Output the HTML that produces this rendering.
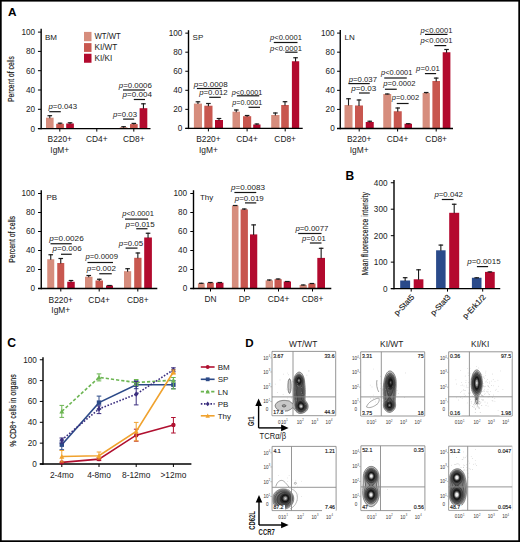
<!DOCTYPE html>
<html><head><meta charset="utf-8"><title>Figure</title>
<style>html,body{margin:0;padding:0;background:#fff;}body{width:520px;height:542px;overflow:hidden;}</style>
</head><body>
<svg width="520" height="542" viewBox="0 0 520 542" style="display:block">
<g font-family='"Liberation Sans", sans-serif'>
<rect x="0" y="0" width="520" height="542" fill="#fff"/>
<text x="8" y="15.8" font-size="11.8" text-anchor="start" font-weight="bold" fill="#000">A</text>
<rect x="46" y="117.7" width="7.6" height="10.9" fill="#d68d7d"/>
<line x1="49.8" y1="115.2" x2="49.8" y2="118.2" stroke="#1a1a1a" stroke-width="1.1"/>
<line x1="47.5" y1="115.7" x2="52.1" y2="115.7" stroke="#1a1a1a" stroke-width="1.2"/>
<rect x="56.2" y="123.8" width="7.7" height="4.8" fill="#c8574f"/>
<line x1="60.05" y1="122.7" x2="60.05" y2="124.3" stroke="#1a1a1a" stroke-width="1.1"/>
<line x1="57.75" y1="123.2" x2="62.35" y2="123.2" stroke="#1a1a1a" stroke-width="1.2"/>
<rect x="66.2" y="123.5" width="7.7" height="5.1" fill="#b20a2e"/>
<line x1="70.05" y1="122.3" x2="70.05" y2="124" stroke="#1a1a1a" stroke-width="1.1"/>
<line x1="67.75" y1="122.8" x2="72.35" y2="122.8" stroke="#1a1a1a" stroke-width="1.2"/>
<rect x="119.8" y="127.2" width="7.6" height="1.4" fill="#d68d7d"/>
<line x1="123.6" y1="126.2" x2="123.6" y2="127.7" stroke="#1a1a1a" stroke-width="1.1"/>
<line x1="121.3" y1="126.7" x2="125.9" y2="126.7" stroke="#1a1a1a" stroke-width="1.2"/>
<rect x="130" y="124.1" width="7.7" height="4.5" fill="#c8574f"/>
<line x1="133.85" y1="122.9" x2="133.85" y2="124.6" stroke="#1a1a1a" stroke-width="1.1"/>
<line x1="131.55" y1="123.4" x2="136.15" y2="123.4" stroke="#1a1a1a" stroke-width="1.2"/>
<rect x="139.6" y="108.2" width="7.7" height="20.4" fill="#b20a2e"/>
<line x1="143.45" y1="103.3" x2="143.45" y2="108.7" stroke="#1a1a1a" stroke-width="1.1"/>
<line x1="141.15" y1="103.8" x2="145.75" y2="103.8" stroke="#1a1a1a" stroke-width="1.2"/>
<line x1="41.15" y1="28.8" x2="41.15" y2="129.3" stroke="#000" stroke-width="1.4"/>
<line x1="37.95" y1="128.6" x2="150.5" y2="128.6" stroke="#000" stroke-width="1.4"/>
<line x1="37.95" y1="128.6" x2="41.15" y2="128.6" stroke="#000" stroke-width="1.0"/>
<text x="35.1" y="131.5" font-size="8.2" text-anchor="end" font-weight="normal" fill="#222">0</text>
<line x1="37.95" y1="109.3" x2="41.15" y2="109.3" stroke="#000" stroke-width="1.0"/>
<text x="35.1" y="112.2" font-size="8.2" text-anchor="end" font-weight="normal" fill="#222">20</text>
<line x1="37.95" y1="90" x2="41.15" y2="90" stroke="#000" stroke-width="1.0"/>
<text x="35.1" y="92.9" font-size="8.2" text-anchor="end" font-weight="normal" fill="#222">40</text>
<line x1="37.95" y1="70.7" x2="41.15" y2="70.7" stroke="#000" stroke-width="1.0"/>
<text x="35.1" y="73.6" font-size="8.2" text-anchor="end" font-weight="normal" fill="#222">60</text>
<line x1="37.95" y1="51.4" x2="41.15" y2="51.4" stroke="#000" stroke-width="1.0"/>
<text x="35.1" y="54.3" font-size="8.2" text-anchor="end" font-weight="normal" fill="#222">80</text>
<line x1="37.95" y1="32.1" x2="41.15" y2="32.1" stroke="#000" stroke-width="1.0"/>
<text x="35.1" y="35" font-size="8.2" text-anchor="end" font-weight="normal" fill="#222">100</text>
<line x1="59.8" y1="128.6" x2="59.8" y2="131.6" stroke="#000" stroke-width="1.0"/>
<line x1="96.8" y1="128.6" x2="96.8" y2="131.6" stroke="#000" stroke-width="1.0"/>
<line x1="133.8" y1="128.6" x2="133.8" y2="131.6" stroke="#000" stroke-width="1.0"/>
<text x="45" y="39.8" font-size="8" text-anchor="start" font-weight="normal" fill="#1a1a1a">BM</text>
<text x="48.5" y="109.2" font-size="6.6" fill="#1a1a1a" textLength="28.5" lengthAdjust="spacingAndGlyphs"><tspan font-style="italic">p</tspan>=0.043</text>
<line x1="49.3" y1="111.7" x2="60.8" y2="111.7" stroke="#151515" stroke-width="1.2"/>
<text x="113" y="116.9" font-size="6.6" fill="#1a1a1a" textLength="24" lengthAdjust="spacingAndGlyphs"><tspan font-style="italic">p</tspan>=0.03</text>
<line x1="123.1" y1="119.1" x2="134.2" y2="119.1" stroke="#151515" stroke-width="1.2"/>
<text x="118.75" y="88.1" font-size="6.6" fill="#1a1a1a" textLength="33.15" lengthAdjust="spacingAndGlyphs"><tspan font-style="italic">p</tspan>=0.0006</text>
<line x1="123" y1="90" x2="145" y2="90" stroke="#151515" stroke-width="1.2"/>
<text x="122.5" y="97" font-size="6.6" fill="#1a1a1a" textLength="29.4" lengthAdjust="spacingAndGlyphs"><tspan font-style="italic">p</tspan>=0.004</text>
<line x1="133.8" y1="99.5" x2="145" y2="99.5" stroke="#151515" stroke-width="1.2"/>
<rect x="84" y="31.9" width="7.5" height="9.3" fill="#d68d7d"/>
<rect x="84" y="43.1" width="7.5" height="8.8" fill="#c8574f"/>
<rect x="84" y="53.75" width="7.5" height="9" fill="#b20a2e"/>
<text x="94.5" y="39.4" font-size="8.2" text-anchor="start" font-weight="normal" fill="#1a1a1a" textLength="26.3" lengthAdjust="spacingAndGlyphs">WT/WT</text>
<text x="94.5" y="50" font-size="8.2" text-anchor="start" font-weight="normal" fill="#1a1a1a">KI/WT</text>
<text x="94.5" y="60.6" font-size="8.2" text-anchor="start" font-weight="normal" fill="#1a1a1a">KI/KI</text>
<text transform="translate(14.4,79) rotate(-90)" font-size="8.6" text-anchor="middle" fill="#1a1a1a" stroke="#1a1a1a" stroke-width="0.18" textLength="45.9" lengthAdjust="spacingAndGlyphs">Percent of cells</text>
<text x="59.8" y="142" font-size="8.4" text-anchor="middle" font-weight="normal" fill="#1a1a1a">B220+</text>
<text x="59.8" y="152.5" font-size="8.4" text-anchor="middle" font-weight="normal" fill="#1a1a1a">IgM+</text>
<text x="96.8" y="142" font-size="8.4" text-anchor="middle" font-weight="normal" fill="#1a1a1a">CD4+</text>
<text x="133.8" y="142" font-size="8.4" text-anchor="middle" font-weight="normal" fill="#1a1a1a">CD8+</text>
<rect x="193.9" y="103.6" width="8.1" height="24.8" fill="#d68d7d"/>
<line x1="197.95" y1="101.3" x2="197.95" y2="104.1" stroke="#1a1a1a" stroke-width="1.1"/>
<line x1="195.65" y1="101.8" x2="200.25" y2="101.8" stroke="#1a1a1a" stroke-width="1.2"/>
<rect x="204.3" y="105.7" width="8.2" height="22.7" fill="#c8574f"/>
<line x1="208.4" y1="103" x2="208.4" y2="106.2" stroke="#1a1a1a" stroke-width="1.1"/>
<line x1="206.1" y1="103.5" x2="210.7" y2="103.5" stroke="#1a1a1a" stroke-width="1.2"/>
<rect x="215" y="120" width="8" height="8.4" fill="#b20a2e"/>
<line x1="219" y1="118" x2="219" y2="120.5" stroke="#1a1a1a" stroke-width="1.1"/>
<line x1="216.7" y1="118.5" x2="221.3" y2="118.5" stroke="#1a1a1a" stroke-width="1.2"/>
<rect x="232.5" y="111.7" width="7.5" height="16.7" fill="#d68d7d"/>
<line x1="236.25" y1="109.5" x2="236.25" y2="112.2" stroke="#1a1a1a" stroke-width="1.1"/>
<line x1="233.95" y1="110" x2="238.55" y2="110" stroke="#1a1a1a" stroke-width="1.2"/>
<rect x="243" y="116.2" width="8.2" height="12.2" fill="#c8574f"/>
<line x1="247.1" y1="115" x2="247.1" y2="116.7" stroke="#1a1a1a" stroke-width="1.1"/>
<line x1="244.8" y1="115.5" x2="249.4" y2="115.5" stroke="#1a1a1a" stroke-width="1.2"/>
<rect x="253.2" y="124.5" width="7.3" height="3.9" fill="#b20a2e"/>
<line x1="256.85" y1="123.5" x2="256.85" y2="125" stroke="#1a1a1a" stroke-width="1.1"/>
<line x1="254.55" y1="124" x2="259.15" y2="124" stroke="#1a1a1a" stroke-width="1.2"/>
<rect x="271.2" y="115" width="8.3" height="13.4" fill="#d68d7d"/>
<line x1="275.35" y1="112.5" x2="275.35" y2="115.5" stroke="#1a1a1a" stroke-width="1.1"/>
<line x1="273.05" y1="113" x2="277.65" y2="113" stroke="#1a1a1a" stroke-width="1.2"/>
<rect x="281.2" y="105" width="7.6" height="23.4" fill="#c8574f"/>
<line x1="285" y1="101.2" x2="285" y2="105.5" stroke="#1a1a1a" stroke-width="1.1"/>
<line x1="282.7" y1="101.7" x2="287.3" y2="101.7" stroke="#1a1a1a" stroke-width="1.2"/>
<rect x="291.9" y="61.25" width="7.3" height="67.15" fill="#b20a2e"/>
<line x1="295.55" y1="57.25" x2="295.55" y2="61.75" stroke="#1a1a1a" stroke-width="1.1"/>
<line x1="293.25" y1="57.75" x2="297.85" y2="57.75" stroke="#1a1a1a" stroke-width="1.2"/>
<line x1="188.5" y1="30.2" x2="188.5" y2="129.1" stroke="#000" stroke-width="1.4"/>
<line x1="185.3" y1="128.4" x2="302.7" y2="128.4" stroke="#000" stroke-width="1.4"/>
<line x1="185.3" y1="128.4" x2="188.5" y2="128.4" stroke="#000" stroke-width="1.0"/>
<text x="182.3" y="131.3" font-size="8.2" text-anchor="end" font-weight="normal" fill="#222">0</text>
<line x1="185.3" y1="109.35" x2="188.5" y2="109.35" stroke="#000" stroke-width="1.0"/>
<text x="182.3" y="112.25" font-size="8.2" text-anchor="end" font-weight="normal" fill="#222">20</text>
<line x1="185.3" y1="90.3" x2="188.5" y2="90.3" stroke="#000" stroke-width="1.0"/>
<text x="182.3" y="93.2" font-size="8.2" text-anchor="end" font-weight="normal" fill="#222">40</text>
<line x1="185.3" y1="71.25" x2="188.5" y2="71.25" stroke="#000" stroke-width="1.0"/>
<text x="182.3" y="74.15" font-size="8.2" text-anchor="end" font-weight="normal" fill="#222">60</text>
<line x1="185.3" y1="52.2" x2="188.5" y2="52.2" stroke="#000" stroke-width="1.0"/>
<text x="182.3" y="55.1" font-size="8.2" text-anchor="end" font-weight="normal" fill="#222">80</text>
<line x1="185.3" y1="33.15" x2="188.5" y2="33.15" stroke="#000" stroke-width="1.0"/>
<text x="182.3" y="36.05" font-size="8.2" text-anchor="end" font-weight="normal" fill="#222">100</text>
<line x1="208.4" y1="128.4" x2="208.4" y2="131.4" stroke="#000" stroke-width="1.0"/>
<line x1="247.1" y1="128.4" x2="247.1" y2="131.4" stroke="#000" stroke-width="1.0"/>
<line x1="285.2" y1="128.4" x2="285.2" y2="131.4" stroke="#000" stroke-width="1.0"/>
<text x="192.6" y="39.6" font-size="8" text-anchor="start" font-weight="normal" fill="#1a1a1a">SP</text>
<text x="193.8" y="86.5" font-size="6.6" fill="#1a1a1a" textLength="33.9" lengthAdjust="spacingAndGlyphs"><tspan font-style="italic">p</tspan>=0.0008</text>
<line x1="196.9" y1="88.5" x2="221.5" y2="88.5" stroke="#151515" stroke-width="1.2"/>
<text x="199.2" y="95" font-size="6.6" fill="#1a1a1a" textLength="28.5" lengthAdjust="spacingAndGlyphs"><tspan font-style="italic">p</tspan>=0.012</text>
<line x1="209.2" y1="97.3" x2="220.8" y2="97.3" stroke="#151515" stroke-width="1.2"/>
<text x="231.8" y="94.7" font-size="6.6" fill="#1a1a1a" textLength="30.5" lengthAdjust="spacingAndGlyphs"><tspan font-style="italic">p</tspan>&lt;0.0001</text>
<line x1="236.9" y1="95.8" x2="259.2" y2="95.8" stroke="#151515" stroke-width="1.2"/>
<text x="232.3" y="105" font-size="6.6" fill="#1a1a1a" textLength="30" lengthAdjust="spacingAndGlyphs"><tspan font-style="italic">p</tspan>=0.0001</text>
<line x1="248.5" y1="107.3" x2="260" y2="107.3" stroke="#151515" stroke-width="1.2"/>
<text x="270" y="40" font-size="6.6" fill="#1a1a1a" textLength="31.9" lengthAdjust="spacingAndGlyphs"><tspan font-style="italic">p</tspan>&lt;0.0001</text>
<line x1="273.75" y1="42.5" x2="297.5" y2="42.5" stroke="#151515" stroke-width="1.2"/>
<text x="270" y="50.6" font-size="6.6" fill="#1a1a1a" textLength="31.9" lengthAdjust="spacingAndGlyphs"><tspan font-style="italic">p</tspan>&lt;0.0001</text>
<line x1="285.2" y1="52.2" x2="297.5" y2="52.2" stroke="#151515" stroke-width="1.2"/>
<text x="208.4" y="142" font-size="8.4" text-anchor="middle" font-weight="normal" fill="#1a1a1a">B220+</text>
<text x="208.4" y="152.5" font-size="8.4" text-anchor="middle" font-weight="normal" fill="#1a1a1a">IgM+</text>
<text x="247.1" y="142" font-size="8.4" text-anchor="middle" font-weight="normal" fill="#1a1a1a">CD4+</text>
<text x="285.2" y="142" font-size="8.4" text-anchor="middle" font-weight="normal" fill="#1a1a1a">CD8+</text>
<rect x="344.5" y="105" width="8" height="23.5" fill="#d68d7d"/>
<line x1="348.5" y1="98.25" x2="348.5" y2="105.5" stroke="#1a1a1a" stroke-width="1.1"/>
<line x1="346.2" y1="98.75" x2="350.8" y2="98.75" stroke="#1a1a1a" stroke-width="1.2"/>
<rect x="355" y="105.5" width="8" height="23" fill="#c8574f"/>
<line x1="359" y1="99.5" x2="359" y2="106" stroke="#1a1a1a" stroke-width="1.1"/>
<line x1="356.7" y1="100" x2="361.3" y2="100" stroke="#1a1a1a" stroke-width="1.2"/>
<rect x="365.75" y="122" width="8" height="6.5" fill="#b20a2e"/>
<line x1="369.75" y1="120.75" x2="369.75" y2="122.5" stroke="#1a1a1a" stroke-width="1.1"/>
<line x1="367.45" y1="121.25" x2="372.05" y2="121.25" stroke="#1a1a1a" stroke-width="1.2"/>
<rect x="383.25" y="94" width="8" height="34.5" fill="#d68d7d"/>
<line x1="387.25" y1="93.5" x2="387.25" y2="94.5" stroke="#1a1a1a" stroke-width="1.1"/>
<line x1="384.95" y1="94" x2="389.55" y2="94" stroke="#1a1a1a" stroke-width="1.2"/>
<rect x="393.75" y="111.25" width="8" height="17.25" fill="#c8574f"/>
<line x1="397.75" y1="107.5" x2="397.75" y2="111.75" stroke="#1a1a1a" stroke-width="1.1"/>
<line x1="395.45" y1="108" x2="400.05" y2="108" stroke="#1a1a1a" stroke-width="1.2"/>
<rect x="404.5" y="123.75" width="7.5" height="4.75" fill="#b20a2e"/>
<line x1="408.25" y1="123.2" x2="408.25" y2="124.25" stroke="#1a1a1a" stroke-width="1.1"/>
<line x1="405.95" y1="123.7" x2="410.55" y2="123.7" stroke="#1a1a1a" stroke-width="1.2"/>
<rect x="422.6" y="93" width="7.2" height="35.5" fill="#d68d7d"/>
<line x1="426.2" y1="92" x2="426.2" y2="93.5" stroke="#1a1a1a" stroke-width="1.1"/>
<line x1="423.9" y1="92.5" x2="428.5" y2="92.5" stroke="#1a1a1a" stroke-width="1.2"/>
<rect x="432.4" y="81" width="7.6" height="47.5" fill="#c8574f"/>
<line x1="436.2" y1="77.6" x2="436.2" y2="81.5" stroke="#1a1a1a" stroke-width="1.1"/>
<line x1="433.9" y1="78.1" x2="438.5" y2="78.1" stroke="#1a1a1a" stroke-width="1.2"/>
<rect x="442.7" y="52.25" width="7.7" height="76.25" fill="#b20a2e"/>
<line x1="446.55" y1="49" x2="446.55" y2="52.75" stroke="#1a1a1a" stroke-width="1.1"/>
<line x1="444.25" y1="49.5" x2="448.85" y2="49.5" stroke="#1a1a1a" stroke-width="1.2"/>
<line x1="340.25" y1="30" x2="340.25" y2="129.2" stroke="#000" stroke-width="1.4"/>
<line x1="337.05" y1="128.5" x2="453" y2="128.5" stroke="#000" stroke-width="1.4"/>
<line x1="337.05" y1="128.5" x2="340.25" y2="128.5" stroke="#000" stroke-width="1.0"/>
<text x="334.7" y="131.4" font-size="8.2" text-anchor="end" font-weight="normal" fill="#222">0</text>
<line x1="337.05" y1="109.42" x2="340.25" y2="109.42" stroke="#000" stroke-width="1.0"/>
<text x="334.7" y="112.32" font-size="8.2" text-anchor="end" font-weight="normal" fill="#222">20</text>
<line x1="337.05" y1="90.34" x2="340.25" y2="90.34" stroke="#000" stroke-width="1.0"/>
<text x="334.7" y="93.24" font-size="8.2" text-anchor="end" font-weight="normal" fill="#222">40</text>
<line x1="337.05" y1="71.26" x2="340.25" y2="71.26" stroke="#000" stroke-width="1.0"/>
<text x="334.7" y="74.16" font-size="8.2" text-anchor="end" font-weight="normal" fill="#222">60</text>
<line x1="337.05" y1="52.18" x2="340.25" y2="52.18" stroke="#000" stroke-width="1.0"/>
<text x="334.7" y="55.08" font-size="8.2" text-anchor="end" font-weight="normal" fill="#222">80</text>
<line x1="337.05" y1="33.1" x2="340.25" y2="33.1" stroke="#000" stroke-width="1.0"/>
<text x="334.7" y="36" font-size="8.2" text-anchor="end" font-weight="normal" fill="#222">100</text>
<line x1="359.2" y1="128.5" x2="359.2" y2="131.5" stroke="#000" stroke-width="1.0"/>
<line x1="397.6" y1="128.5" x2="397.6" y2="131.5" stroke="#000" stroke-width="1.0"/>
<line x1="436.2" y1="128.5" x2="436.2" y2="131.5" stroke="#000" stroke-width="1.0"/>
<text x="344.6" y="39.7" font-size="8" text-anchor="start" font-weight="normal" fill="#1a1a1a">LN</text>
<text x="348.75" y="81.6" font-size="6.6" fill="#1a1a1a" textLength="28.25" lengthAdjust="spacingAndGlyphs"><tspan font-style="italic">p</tspan>=0.037</text>
<line x1="348.5" y1="83.6" x2="369.75" y2="83.6" stroke="#151515" stroke-width="1.2"/>
<text x="351.25" y="91.25" font-size="6.6" fill="#1a1a1a" textLength="25" lengthAdjust="spacingAndGlyphs"><tspan font-style="italic">p</tspan>=0.03</text>
<line x1="359" y1="93" x2="369.75" y2="93" stroke="#151515" stroke-width="1.2"/>
<text x="381.1" y="75.1" font-size="6.6" fill="#1a1a1a" textLength="31.3" lengthAdjust="spacingAndGlyphs"><tspan font-style="italic">p</tspan>&lt;0.0001</text>
<line x1="384.25" y1="78" x2="406.75" y2="78" stroke="#151515" stroke-width="1.2"/>
<text x="383.25" y="86.4" font-size="6.6" fill="#1a1a1a" textLength="32.25" lengthAdjust="spacingAndGlyphs"><tspan font-style="italic">p</tspan>=0.0002</text>
<line x1="384.9" y1="89.25" x2="396.75" y2="89.25" stroke="#151515" stroke-width="1.2"/>
<text x="391.75" y="100.1" font-size="6.6" fill="#1a1a1a" textLength="27.5" lengthAdjust="spacingAndGlyphs"><tspan font-style="italic">p</tspan>=0.002</text>
<line x1="396.75" y1="103.5" x2="408.6" y2="103.5" stroke="#151515" stroke-width="1.2"/>
<text x="416.1" y="70.75" font-size="6.6" fill="#1a1a1a" textLength="23.8" lengthAdjust="spacingAndGlyphs"><tspan font-style="italic">p</tspan>=0.01</text>
<line x1="424.9" y1="73.6" x2="436.1" y2="73.6" stroke="#151515" stroke-width="1.2"/>
<text x="420.6" y="32.5" font-size="6.6" fill="#1a1a1a" textLength="31.9" lengthAdjust="spacingAndGlyphs"><tspan font-style="italic">p</tspan>&lt;0.0001</text>
<line x1="425" y1="34.4" x2="447.5" y2="34.4" stroke="#151515" stroke-width="1.2"/>
<text x="420.6" y="42.5" font-size="6.6" fill="#1a1a1a" textLength="31.9" lengthAdjust="spacingAndGlyphs"><tspan font-style="italic">p</tspan>&lt;0.0001</text>
<line x1="434.4" y1="45.6" x2="446.25" y2="45.6" stroke="#151515" stroke-width="1.2"/>
<text x="359.2" y="142" font-size="8.4" text-anchor="middle" font-weight="normal" fill="#1a1a1a">B220+</text>
<text x="359.2" y="152.5" font-size="8.4" text-anchor="middle" font-weight="normal" fill="#1a1a1a">IgM+</text>
<text x="397.6" y="142" font-size="8.4" text-anchor="middle" font-weight="normal" fill="#1a1a1a">CD4+</text>
<text x="436.2" y="142" font-size="8.4" text-anchor="middle" font-weight="normal" fill="#1a1a1a">CD8+</text>
<rect x="47.25" y="259.25" width="7" height="29.25" fill="#d68d7d"/>
<line x1="50.75" y1="254.25" x2="50.75" y2="259.75" stroke="#1a1a1a" stroke-width="1.1"/>
<line x1="48.45" y1="254.75" x2="53.05" y2="254.75" stroke="#1a1a1a" stroke-width="1.2"/>
<rect x="57.25" y="263" width="7" height="25.5" fill="#c8574f"/>
<line x1="60.75" y1="258" x2="60.75" y2="263.5" stroke="#1a1a1a" stroke-width="1.1"/>
<line x1="58.45" y1="258.5" x2="63.05" y2="258.5" stroke="#1a1a1a" stroke-width="1.2"/>
<rect x="67.25" y="281.75" width="7.5" height="6.75" fill="#b20a2e"/>
<line x1="71" y1="280" x2="71" y2="282.25" stroke="#1a1a1a" stroke-width="1.1"/>
<line x1="68.7" y1="280.5" x2="73.3" y2="280.5" stroke="#1a1a1a" stroke-width="1.2"/>
<rect x="85" y="276.75" width="7.5" height="11.75" fill="#d68d7d"/>
<line x1="88.75" y1="275" x2="88.75" y2="277.25" stroke="#1a1a1a" stroke-width="1.1"/>
<line x1="86.45" y1="275.5" x2="91.05" y2="275.5" stroke="#1a1a1a" stroke-width="1.2"/>
<rect x="95.5" y="280.5" width="7.5" height="8" fill="#c8574f"/>
<line x1="99.25" y1="278.75" x2="99.25" y2="281" stroke="#1a1a1a" stroke-width="1.1"/>
<line x1="96.95" y1="279.25" x2="101.55" y2="279.25" stroke="#1a1a1a" stroke-width="1.2"/>
<rect x="106" y="285.5" width="7" height="3" fill="#b20a2e"/>
<line x1="109.5" y1="285" x2="109.5" y2="286" stroke="#1a1a1a" stroke-width="1.1"/>
<line x1="107.2" y1="285.5" x2="111.8" y2="285.5" stroke="#1a1a1a" stroke-width="1.2"/>
<rect x="124" y="271.2" width="7.2" height="17.3" fill="#d68d7d"/>
<line x1="127.6" y1="268.2" x2="127.6" y2="271.7" stroke="#1a1a1a" stroke-width="1.1"/>
<line x1="125.3" y1="268.7" x2="129.9" y2="268.7" stroke="#1a1a1a" stroke-width="1.2"/>
<rect x="134.2" y="257.8" width="7.3" height="30.7" fill="#c8574f"/>
<line x1="137.85" y1="252.5" x2="137.85" y2="258.3" stroke="#1a1a1a" stroke-width="1.1"/>
<line x1="135.55" y1="253" x2="140.15" y2="253" stroke="#1a1a1a" stroke-width="1.2"/>
<rect x="144.2" y="237.5" width="7.7" height="51" fill="#b20a2e"/>
<line x1="148.05" y1="232.75" x2="148.05" y2="238" stroke="#1a1a1a" stroke-width="1.1"/>
<line x1="145.75" y1="233.25" x2="150.35" y2="233.25" stroke="#1a1a1a" stroke-width="1.2"/>
<line x1="41.25" y1="190.25" x2="41.25" y2="289.2" stroke="#000" stroke-width="1.4"/>
<line x1="38.05" y1="288.5" x2="157.3" y2="288.5" stroke="#000" stroke-width="1.4"/>
<line x1="38.05" y1="288.5" x2="41.25" y2="288.5" stroke="#000" stroke-width="1.0"/>
<text x="35.1" y="291.4" font-size="8.2" text-anchor="end" font-weight="normal" fill="#222">0</text>
<line x1="38.05" y1="269.5" x2="41.25" y2="269.5" stroke="#000" stroke-width="1.0"/>
<text x="35.1" y="272.4" font-size="8.2" text-anchor="end" font-weight="normal" fill="#222">20</text>
<line x1="38.05" y1="250.5" x2="41.25" y2="250.5" stroke="#000" stroke-width="1.0"/>
<text x="35.1" y="253.4" font-size="8.2" text-anchor="end" font-weight="normal" fill="#222">40</text>
<line x1="38.05" y1="231.5" x2="41.25" y2="231.5" stroke="#000" stroke-width="1.0"/>
<text x="35.1" y="234.4" font-size="8.2" text-anchor="end" font-weight="normal" fill="#222">60</text>
<line x1="38.05" y1="212.5" x2="41.25" y2="212.5" stroke="#000" stroke-width="1.0"/>
<text x="35.1" y="215.4" font-size="8.2" text-anchor="end" font-weight="normal" fill="#222">80</text>
<line x1="38.05" y1="193.5" x2="41.25" y2="193.5" stroke="#000" stroke-width="1.0"/>
<text x="35.1" y="196.4" font-size="8.2" text-anchor="end" font-weight="normal" fill="#222">100</text>
<line x1="60.8" y1="288.5" x2="60.8" y2="291.5" stroke="#000" stroke-width="1.0"/>
<line x1="99.2" y1="288.5" x2="99.2" y2="291.5" stroke="#000" stroke-width="1.0"/>
<line x1="137.8" y1="288.5" x2="137.8" y2="291.5" stroke="#000" stroke-width="1.0"/>
<text x="46.4" y="199.8" font-size="8" text-anchor="start" font-weight="normal" fill="#1a1a1a">PB</text>
<text transform="translate(14.5,239.4) rotate(-90)" font-size="8.6" text-anchor="middle" fill="#1a1a1a" stroke="#1a1a1a" stroke-width="0.18" textLength="46.9" lengthAdjust="spacingAndGlyphs">Percent of cells</text>
<text x="49.25" y="241.25" font-size="6.6" fill="#1a1a1a" textLength="34.5" lengthAdjust="spacingAndGlyphs"><tspan font-style="italic">p</tspan>=0.0026</text>
<line x1="50.5" y1="243.75" x2="71.75" y2="243.75" stroke="#151515" stroke-width="1.2"/>
<text x="52.5" y="251.25" font-size="6.6" fill="#1a1a1a" textLength="29.25" lengthAdjust="spacingAndGlyphs"><tspan font-style="italic">p</tspan>=0.006</text>
<line x1="61" y1="254.25" x2="71.75" y2="254.25" stroke="#151515" stroke-width="1.2"/>
<text x="85.5" y="259.25" font-size="6.6" fill="#1a1a1a" textLength="32.5" lengthAdjust="spacingAndGlyphs"><tspan font-style="italic">p</tspan>=0.0009</text>
<line x1="87.5" y1="262.5" x2="113" y2="262.5" stroke="#151515" stroke-width="1.2"/>
<text x="86.75" y="271.25" font-size="6.6" fill="#1a1a1a" textLength="29.25" lengthAdjust="spacingAndGlyphs"><tspan font-style="italic">p</tspan>=0.002</text>
<line x1="99.25" y1="273.75" x2="111.75" y2="273.75" stroke="#151515" stroke-width="1.2"/>
<text x="122.25" y="216.25" font-size="6.6" fill="#1a1a1a" textLength="31.75" lengthAdjust="spacingAndGlyphs"><tspan font-style="italic">p</tspan>&lt;0.0001</text>
<line x1="125" y1="219.1" x2="148.1" y2="219.1" stroke="#151515" stroke-width="1.2"/>
<text x="125.6" y="226.5" font-size="6.6" fill="#1a1a1a" textLength="29.15" lengthAdjust="spacingAndGlyphs"><tspan font-style="italic">p</tspan>=0.015</text>
<line x1="136.25" y1="228.75" x2="147.5" y2="228.75" stroke="#151515" stroke-width="1.2"/>
<text x="118.75" y="246.25" font-size="6.6" fill="#1a1a1a" textLength="24.35" lengthAdjust="spacingAndGlyphs"><tspan font-style="italic">p</tspan>=0.05</text>
<line x1="125.6" y1="248.1" x2="137.5" y2="248.1" stroke="#151515" stroke-width="1.2"/>
<text x="60.8" y="302.5" font-size="8.4" text-anchor="middle" font-weight="normal" fill="#1a1a1a">B220+</text>
<text x="60.8" y="312.5" font-size="8.4" text-anchor="middle" font-weight="normal" fill="#1a1a1a">IgM+</text>
<text x="99.2" y="302.5" font-size="8.4" text-anchor="middle" font-weight="normal" fill="#1a1a1a">CD4+</text>
<text x="137.8" y="302.5" font-size="8.4" text-anchor="middle" font-weight="normal" fill="#1a1a1a">CD8+</text>
<rect x="197.9" y="283.3" width="6.8" height="5.2" fill="#d68d7d"/>
<line x1="201.3" y1="282.8" x2="201.3" y2="283.8" stroke="#1a1a1a" stroke-width="1.1"/>
<line x1="199" y1="283.3" x2="203.6" y2="283.3" stroke="#1a1a1a" stroke-width="1.2"/>
<rect x="207" y="282.7" width="6.8" height="5.8" fill="#c8574f"/>
<line x1="210.4" y1="282" x2="210.4" y2="283.2" stroke="#1a1a1a" stroke-width="1.1"/>
<line x1="208.1" y1="282.5" x2="212.7" y2="282.5" stroke="#1a1a1a" stroke-width="1.2"/>
<rect x="216" y="282.7" width="7.5" height="5.8" fill="#b20a2e"/>
<line x1="219.75" y1="282" x2="219.75" y2="283.2" stroke="#1a1a1a" stroke-width="1.1"/>
<line x1="217.45" y1="282.5" x2="222.05" y2="282.5" stroke="#1a1a1a" stroke-width="1.2"/>
<rect x="231.9" y="205.6" width="6.6" height="82.9" fill="#d68d7d"/>
<line x1="235.2" y1="205" x2="235.2" y2="206.1" stroke="#1a1a1a" stroke-width="1.1"/>
<line x1="232.9" y1="205.5" x2="237.5" y2="205.5" stroke="#1a1a1a" stroke-width="1.2"/>
<rect x="240.6" y="209.4" width="7.3" height="79.1" fill="#c8574f"/>
<line x1="244.25" y1="208.5" x2="244.25" y2="209.9" stroke="#1a1a1a" stroke-width="1.1"/>
<line x1="241.95" y1="209" x2="246.55" y2="209" stroke="#1a1a1a" stroke-width="1.2"/>
<rect x="250" y="234.4" width="7.25" height="54.1" fill="#b20a2e"/>
<line x1="253.62" y1="224.4" x2="253.62" y2="234.9" stroke="#1a1a1a" stroke-width="1.1"/>
<line x1="251.32" y1="224.9" x2="255.93" y2="224.9" stroke="#1a1a1a" stroke-width="1.2"/>
<rect x="265.6" y="280.4" width="7.4" height="8.1" fill="#d68d7d"/>
<line x1="269.3" y1="279.5" x2="269.3" y2="280.9" stroke="#1a1a1a" stroke-width="1.1"/>
<line x1="267" y1="280" x2="271.6" y2="280" stroke="#1a1a1a" stroke-width="1.2"/>
<rect x="274.5" y="279.2" width="7.2" height="9.3" fill="#c8574f"/>
<line x1="278.1" y1="278.5" x2="278.1" y2="279.7" stroke="#1a1a1a" stroke-width="1.1"/>
<line x1="275.8" y1="279" x2="280.4" y2="279" stroke="#1a1a1a" stroke-width="1.2"/>
<rect x="283.7" y="281.5" width="7.3" height="7" fill="#b20a2e"/>
<line x1="287.35" y1="281" x2="287.35" y2="282" stroke="#1a1a1a" stroke-width="1.1"/>
<line x1="285.05" y1="281.5" x2="289.65" y2="281.5" stroke="#1a1a1a" stroke-width="1.2"/>
<rect x="299.6" y="285" width="7.2" height="3.5" fill="#d68d7d"/>
<line x1="303.2" y1="284.5" x2="303.2" y2="285.5" stroke="#1a1a1a" stroke-width="1.1"/>
<line x1="300.9" y1="285" x2="305.5" y2="285" stroke="#1a1a1a" stroke-width="1.2"/>
<rect x="308.3" y="283.6" width="7.2" height="4.9" fill="#c8574f"/>
<line x1="311.9" y1="283" x2="311.9" y2="284.1" stroke="#1a1a1a" stroke-width="1.1"/>
<line x1="309.6" y1="283.5" x2="314.2" y2="283.5" stroke="#1a1a1a" stroke-width="1.2"/>
<rect x="317.3" y="257.9" width="7.7" height="30.6" fill="#b20a2e"/>
<line x1="321.15" y1="247.8" x2="321.15" y2="258.4" stroke="#1a1a1a" stroke-width="1.1"/>
<line x1="318.85" y1="248.3" x2="323.45" y2="248.3" stroke="#1a1a1a" stroke-width="1.2"/>
<line x1="193.5" y1="190.25" x2="193.5" y2="289.2" stroke="#000" stroke-width="1.4"/>
<line x1="190.3" y1="288.5" x2="331.3" y2="288.5" stroke="#000" stroke-width="1.4"/>
<line x1="190.3" y1="288.5" x2="193.5" y2="288.5" stroke="#000" stroke-width="1.0"/>
<text x="187.2" y="291.4" font-size="8.2" text-anchor="end" font-weight="normal" fill="#222">0</text>
<line x1="190.3" y1="269.5" x2="193.5" y2="269.5" stroke="#000" stroke-width="1.0"/>
<text x="187.2" y="272.4" font-size="8.2" text-anchor="end" font-weight="normal" fill="#222">20</text>
<line x1="190.3" y1="250.5" x2="193.5" y2="250.5" stroke="#000" stroke-width="1.0"/>
<text x="187.2" y="253.4" font-size="8.2" text-anchor="end" font-weight="normal" fill="#222">40</text>
<line x1="190.3" y1="231.5" x2="193.5" y2="231.5" stroke="#000" stroke-width="1.0"/>
<text x="187.2" y="234.4" font-size="8.2" text-anchor="end" font-weight="normal" fill="#222">60</text>
<line x1="190.3" y1="212.5" x2="193.5" y2="212.5" stroke="#000" stroke-width="1.0"/>
<text x="187.2" y="215.4" font-size="8.2" text-anchor="end" font-weight="normal" fill="#222">80</text>
<line x1="190.3" y1="193.5" x2="193.5" y2="193.5" stroke="#000" stroke-width="1.0"/>
<text x="187.2" y="196.4" font-size="8.2" text-anchor="end" font-weight="normal" fill="#222">100</text>
<line x1="210.5" y1="288.5" x2="210.5" y2="291.5" stroke="#000" stroke-width="1.0"/>
<line x1="244.5" y1="288.5" x2="244.5" y2="291.5" stroke="#000" stroke-width="1.0"/>
<line x1="278.5" y1="288.5" x2="278.5" y2="291.5" stroke="#000" stroke-width="1.0"/>
<line x1="312.5" y1="288.5" x2="312.5" y2="291.5" stroke="#000" stroke-width="1.0"/>
<text x="199.9" y="199.8" font-size="8" text-anchor="start" font-weight="normal" fill="#1a1a1a">Thy</text>
<text x="231" y="190.25" font-size="6.6" fill="#1a1a1a" textLength="34" lengthAdjust="spacingAndGlyphs"><tspan font-style="italic">p</tspan>=0.0083</text>
<line x1="234.4" y1="192.5" x2="256.25" y2="192.5" stroke="#151515" stroke-width="1.2"/>
<text x="234.75" y="201" font-size="6.6" fill="#1a1a1a" textLength="29" lengthAdjust="spacingAndGlyphs"><tspan font-style="italic">p</tspan>=0.019</text>
<line x1="245" y1="202.9" x2="256.25" y2="202.9" stroke="#151515" stroke-width="1.2"/>
<text x="295.4" y="230.9" font-size="6.6" fill="#1a1a1a" textLength="33" lengthAdjust="spacingAndGlyphs"><tspan font-style="italic">p</tspan>=0.0077</text>
<line x1="298.2" y1="233.5" x2="321.5" y2="233.5" stroke="#151515" stroke-width="1.2"/>
<text x="302" y="240.9" font-size="6.6" fill="#1a1a1a" textLength="23.7" lengthAdjust="spacingAndGlyphs"><tspan font-style="italic">p</tspan>=0.01</text>
<line x1="309.9" y1="243" x2="321.5" y2="243" stroke="#151515" stroke-width="1.2"/>
<text x="210.5" y="302.3" font-size="8.4" text-anchor="middle" font-weight="normal" fill="#1a1a1a">DN</text>
<text x="244.5" y="302.3" font-size="8.4" text-anchor="middle" font-weight="normal" fill="#1a1a1a">DP</text>
<text x="278.5" y="302.3" font-size="8.4" text-anchor="middle" font-weight="normal" fill="#1a1a1a">CD4+</text>
<text x="312.5" y="302.3" font-size="8.4" text-anchor="middle" font-weight="normal" fill="#1a1a1a">CD8+</text>
<text x="345.4" y="179.7" font-size="12" text-anchor="start" font-weight="bold" fill="#000">B</text>
<rect x="400.2" y="280.5" width="9.9" height="8.1" fill="#2a4a8a"/>
<line x1="405.15" y1="277.2" x2="405.15" y2="281" stroke="#1a1a1a" stroke-width="1.1"/>
<line x1="402.85" y1="277.7" x2="407.45" y2="277.7" stroke="#1a1a1a" stroke-width="1.2"/>
<rect x="413.7" y="279.3" width="9.7" height="9.3" fill="#b4082e"/>
<line x1="418.55" y1="269.3" x2="418.55" y2="279.8" stroke="#1a1a1a" stroke-width="1.1"/>
<line x1="416.25" y1="269.8" x2="420.85" y2="269.8" stroke="#1a1a1a" stroke-width="1.2"/>
<rect x="436.1" y="250.3" width="9.5" height="38.3" fill="#2a4a8a"/>
<line x1="440.85" y1="244.6" x2="440.85" y2="250.8" stroke="#1a1a1a" stroke-width="1.1"/>
<line x1="438.55" y1="245.1" x2="443.15" y2="245.1" stroke="#1a1a1a" stroke-width="1.2"/>
<rect x="449.2" y="212.8" width="10" height="75.8" fill="#b4082e"/>
<line x1="454.2" y1="203.75" x2="454.2" y2="213.3" stroke="#1a1a1a" stroke-width="1.1"/>
<line x1="451.9" y1="204.25" x2="456.5" y2="204.25" stroke="#1a1a1a" stroke-width="1.2"/>
<rect x="471.9" y="277.75" width="9.6" height="10.85" fill="#2a4a8a"/>
<line x1="476.7" y1="277.3" x2="476.7" y2="278.25" stroke="#1a1a1a" stroke-width="1.1"/>
<line x1="474.4" y1="277.8" x2="479" y2="277.8" stroke="#1a1a1a" stroke-width="1.2"/>
<rect x="485" y="271.9" width="9.75" height="16.7" fill="#b4082e"/>
<line x1="489.88" y1="271.4" x2="489.88" y2="272.4" stroke="#1a1a1a" stroke-width="1.1"/>
<line x1="487.57" y1="271.9" x2="492.18" y2="271.9" stroke="#1a1a1a" stroke-width="1.2"/>
<line x1="394" y1="180" x2="394" y2="289.3" stroke="#000" stroke-width="1.4"/>
<line x1="390.8" y1="288.6" x2="500.25" y2="288.6" stroke="#000" stroke-width="1.4"/>
<line x1="390.8" y1="288.6" x2="394" y2="288.6" stroke="#000" stroke-width="1.0"/>
<text x="387.5" y="291.5" font-size="8.2" text-anchor="end" font-weight="normal" fill="#222">0</text>
<line x1="390.8" y1="262.14" x2="394" y2="262.14" stroke="#000" stroke-width="1.0"/>
<text x="387.5" y="265.04" font-size="8.2" text-anchor="end" font-weight="normal" fill="#222">100</text>
<line x1="390.8" y1="235.68" x2="394" y2="235.68" stroke="#000" stroke-width="1.0"/>
<text x="387.5" y="238.58" font-size="8.2" text-anchor="end" font-weight="normal" fill="#222">200</text>
<line x1="390.8" y1="209.21" x2="394" y2="209.21" stroke="#000" stroke-width="1.0"/>
<text x="387.5" y="212.11" font-size="8.2" text-anchor="end" font-weight="normal" fill="#222">300</text>
<line x1="390.8" y1="182.75" x2="394" y2="182.75" stroke="#000" stroke-width="1.0"/>
<text x="387.5" y="185.65" font-size="8.2" text-anchor="end" font-weight="normal" fill="#222">400</text>
<line x1="411.2" y1="288.6" x2="411.2" y2="291.6" stroke="#000" stroke-width="1.0"/>
<line x1="447.5" y1="288.6" x2="447.5" y2="291.6" stroke="#000" stroke-width="1.0"/>
<line x1="482.7" y1="288.6" x2="482.7" y2="291.6" stroke="#000" stroke-width="1.0"/>
<text transform="translate(367.9,233.9) rotate(-90)" font-size="9.6" text-anchor="middle" fill="#1a1a1a" stroke="#1a1a1a" stroke-width="0.18" textLength="83.4" lengthAdjust="spacingAndGlyphs">Mean fluorescence intensity</text>
<text x="434.4" y="197.4" font-size="6.6" fill="#1a1a1a" textLength="28.6" lengthAdjust="spacingAndGlyphs"><tspan font-style="italic">p</tspan>=0.042</text>
<line x1="441.8" y1="199.5" x2="453.5" y2="199.5" stroke="#151515" stroke-width="1.2"/>
<text x="467.25" y="263.75" font-size="6.6" fill="#1a1a1a" textLength="33.35" lengthAdjust="spacingAndGlyphs"><tspan font-style="italic">p</tspan>=0.0015</text>
<line x1="476.9" y1="266.6" x2="488.1" y2="266.6" stroke="#151515" stroke-width="1.2"/>
<text transform="translate(414.7,297.5) rotate(-47)" font-size="7.9" text-anchor="end" stroke="#1a1a1a" stroke-width="0.15" fill="#1a1a1a">p-Stat5</text>
<text transform="translate(451,297.5) rotate(-47)" font-size="7.9" text-anchor="end" stroke="#1a1a1a" stroke-width="0.15" fill="#1a1a1a">p-Stat3</text>
<text transform="translate(486.2,297.5) rotate(-47)" font-size="7.9" text-anchor="end" stroke="#1a1a1a" stroke-width="0.15" fill="#1a1a1a">p-Erk1/2</text>
<text x="7.3" y="347.2" font-size="12.2" text-anchor="start" font-weight="bold" fill="#000">C</text>
<line x1="43" y1="357.25" x2="43" y2="464.7" stroke="#000" stroke-width="1.4"/>
<line x1="39.8" y1="464" x2="191.4" y2="464" stroke="#000" stroke-width="1.4"/>
<line x1="39.8" y1="464" x2="43" y2="464" stroke="#000" stroke-width="1.0"/>
<text x="36.8" y="466.9" font-size="8.2" text-anchor="end" font-weight="normal" fill="#222">0</text>
<line x1="39.8" y1="443.15" x2="43" y2="443.15" stroke="#000" stroke-width="1.0"/>
<text x="36.8" y="446.05" font-size="8.2" text-anchor="end" font-weight="normal" fill="#222">20</text>
<line x1="39.8" y1="422.3" x2="43" y2="422.3" stroke="#000" stroke-width="1.0"/>
<text x="36.8" y="425.2" font-size="8.2" text-anchor="end" font-weight="normal" fill="#222">40</text>
<line x1="39.8" y1="401.45" x2="43" y2="401.45" stroke="#000" stroke-width="1.0"/>
<text x="36.8" y="404.35" font-size="8.2" text-anchor="end" font-weight="normal" fill="#222">60</text>
<line x1="39.8" y1="380.6" x2="43" y2="380.6" stroke="#000" stroke-width="1.0"/>
<text x="36.8" y="383.5" font-size="8.2" text-anchor="end" font-weight="normal" fill="#222">80</text>
<line x1="39.8" y1="359.75" x2="43" y2="359.75" stroke="#000" stroke-width="1.0"/>
<text x="36.8" y="362.65" font-size="8.2" text-anchor="end" font-weight="normal" fill="#222">100</text>
<line x1="61.8" y1="464" x2="61.8" y2="467" stroke="#000" stroke-width="1.0"/>
<line x1="99" y1="464" x2="99" y2="467" stroke="#000" stroke-width="1.0"/>
<line x1="136.2" y1="464" x2="136.2" y2="467" stroke="#000" stroke-width="1.0"/>
<line x1="173.4" y1="464" x2="173.4" y2="467" stroke="#000" stroke-width="1.0"/>
<text transform="translate(16.3,410.6) rotate(-90)" font-size="8.4" text-anchor="middle" fill="#1a1a1a" stroke="#1a1a1a" stroke-width="0.18" textLength="72.4" lengthAdjust="spacingAndGlyphs">% CD8+ cells in organs</text>
<text x="61.8" y="478" font-size="8.4" text-anchor="middle" font-weight="normal" fill="#1a1a1a">2-4mo</text>
<text x="99" y="478" font-size="8.4" text-anchor="middle" font-weight="normal" fill="#1a1a1a">4-8mo</text>
<text x="136.2" y="478" font-size="8.4" text-anchor="middle" font-weight="normal" fill="#1a1a1a">8-12mo</text>
<text x="173.4" y="478" font-size="8.4" text-anchor="middle" font-weight="normal" fill="#1a1a1a">&gt;12mo</text>
<polyline points="61.8,462.4 99,459.1 136.2,435.2 173.4,425" fill="none" stroke="#b01030" stroke-width="1.6"/>
<circle cx="61.8" cy="462.4" r="2.2" fill="#b01030"/>
<line x1="99" y1="457.6" x2="99" y2="460.6" stroke="#b01030" stroke-width="1.0"/>
<line x1="96.7" y1="457.6" x2="101.3" y2="457.6" stroke="#b01030" stroke-width="1.0"/>
<line x1="96.7" y1="460.6" x2="101.3" y2="460.6" stroke="#b01030" stroke-width="1.0"/>
<circle cx="99" cy="459.1" r="2.2" fill="#b01030"/>
<line x1="136.2" y1="429.2" x2="136.2" y2="441.2" stroke="#b01030" stroke-width="1.0"/>
<line x1="133.9" y1="429.2" x2="138.5" y2="429.2" stroke="#b01030" stroke-width="1.0"/>
<line x1="133.9" y1="441.2" x2="138.5" y2="441.2" stroke="#b01030" stroke-width="1.0"/>
<circle cx="136.2" cy="435.2" r="2.2" fill="#b01030"/>
<line x1="173.4" y1="417.5" x2="173.4" y2="433" stroke="#b01030" stroke-width="1.0"/>
<line x1="171.1" y1="417.5" x2="175.7" y2="417.5" stroke="#b01030" stroke-width="1.0"/>
<line x1="171.1" y1="433" x2="175.7" y2="433" stroke="#b01030" stroke-width="1.0"/>
<circle cx="173.4" cy="425" r="2.2" fill="#b01030"/>
<polyline points="61.8,444.7 99,402.6 136.2,384.7 173.4,384.7" fill="none" stroke="#2c4a88" stroke-width="1.6"/>
<line x1="61.8" y1="441" x2="61.8" y2="449.7" stroke="#2c4a88" stroke-width="1.0"/>
<line x1="59.5" y1="441" x2="64.1" y2="441" stroke="#2c4a88" stroke-width="1.0"/>
<line x1="59.5" y1="449.7" x2="64.1" y2="449.7" stroke="#2c4a88" stroke-width="1.0"/>
<rect x="59.6" y="442.5" width="4.4" height="4.4" fill="#2c4a88"/>
<line x1="99" y1="396.1" x2="99" y2="409.1" stroke="#2c4a88" stroke-width="1.0"/>
<line x1="96.7" y1="396.1" x2="101.3" y2="396.1" stroke="#2c4a88" stroke-width="1.0"/>
<line x1="96.7" y1="409.1" x2="101.3" y2="409.1" stroke="#2c4a88" stroke-width="1.0"/>
<rect x="96.8" y="400.4" width="4.4" height="4.4" fill="#2c4a88"/>
<line x1="136.2" y1="380.7" x2="136.2" y2="388.7" stroke="#2c4a88" stroke-width="1.0"/>
<line x1="133.9" y1="380.7" x2="138.5" y2="380.7" stroke="#2c4a88" stroke-width="1.0"/>
<line x1="133.9" y1="388.7" x2="138.5" y2="388.7" stroke="#2c4a88" stroke-width="1.0"/>
<rect x="134" y="382.5" width="4.4" height="4.4" fill="#2c4a88"/>
<line x1="173.4" y1="380.7" x2="173.4" y2="388.7" stroke="#2c4a88" stroke-width="1.0"/>
<line x1="171.1" y1="380.7" x2="175.7" y2="380.7" stroke="#2c4a88" stroke-width="1.0"/>
<line x1="171.1" y1="388.7" x2="175.7" y2="388.7" stroke="#2c4a88" stroke-width="1.0"/>
<rect x="171.2" y="382.5" width="4.4" height="4.4" fill="#2c4a88"/>
<polyline points="61.8,411.4 99,377.4 136.2,382.5 173.4,380.2" fill="none" stroke="#6cb552" stroke-width="1.6" stroke-dasharray="3.2 2"/>
<line x1="61.8" y1="405.4" x2="61.8" y2="417.4" stroke="#6cb552" stroke-width="1.0"/>
<line x1="59.5" y1="405.4" x2="64.1" y2="405.4" stroke="#6cb552" stroke-width="1.0"/>
<line x1="59.5" y1="417.4" x2="64.1" y2="417.4" stroke="#6cb552" stroke-width="1.0"/>
<path d="M61.8 408.9 L64.3 413.6 L59.3 413.6 Z" fill="#6cb552"/>
<line x1="99" y1="373.9" x2="99" y2="380.9" stroke="#6cb552" stroke-width="1.0"/>
<line x1="96.7" y1="373.9" x2="101.3" y2="373.9" stroke="#6cb552" stroke-width="1.0"/>
<line x1="96.7" y1="380.9" x2="101.3" y2="380.9" stroke="#6cb552" stroke-width="1.0"/>
<path d="M99 374.9 L101.5 379.6 L96.5 379.6 Z" fill="#6cb552"/>
<line x1="136.2" y1="379.5" x2="136.2" y2="385.5" stroke="#6cb552" stroke-width="1.0"/>
<line x1="133.9" y1="379.5" x2="138.5" y2="379.5" stroke="#6cb552" stroke-width="1.0"/>
<line x1="133.9" y1="385.5" x2="138.5" y2="385.5" stroke="#6cb552" stroke-width="1.0"/>
<path d="M136.2 380 L138.7 384.7 L133.7 384.7 Z" fill="#6cb552"/>
<line x1="173.4" y1="377.5" x2="173.4" y2="389" stroke="#6cb552" stroke-width="1.0"/>
<line x1="171.1" y1="377.5" x2="175.7" y2="377.5" stroke="#6cb552" stroke-width="1.0"/>
<line x1="171.1" y1="389" x2="175.7" y2="389" stroke="#6cb552" stroke-width="1.0"/>
<path d="M173.4 377.7 L175.9 382.4 L170.9 382.4 Z" fill="#6cb552"/>
<polyline points="61.8,440 99,408.9 136.2,394.2 173.4,369.8" fill="none" stroke="#3a2d7e" stroke-width="1.6" stroke-dasharray="1.6 1.6"/>
<line x1="61.8" y1="438" x2="61.8" y2="443" stroke="#3a2d7e" stroke-width="1.0"/>
<line x1="59.5" y1="438" x2="64.1" y2="438" stroke="#3a2d7e" stroke-width="1.0"/>
<line x1="59.5" y1="443" x2="64.1" y2="443" stroke="#3a2d7e" stroke-width="1.0"/>
<path d="M61.8 437.4 L64 440 L61.8 442.6 L59.6 440 Z" fill="#3a2d7e"/>
<line x1="99" y1="405.9" x2="99" y2="413.6" stroke="#3a2d7e" stroke-width="1.0"/>
<line x1="96.7" y1="405.9" x2="101.3" y2="405.9" stroke="#3a2d7e" stroke-width="1.0"/>
<line x1="96.7" y1="413.6" x2="101.3" y2="413.6" stroke="#3a2d7e" stroke-width="1.0"/>
<path d="M99 406.3 L101.2 408.9 L99 411.5 L96.8 408.9 Z" fill="#3a2d7e"/>
<line x1="136.2" y1="381.5" x2="136.2" y2="404.9" stroke="#3a2d7e" stroke-width="1.0"/>
<line x1="133.9" y1="381.5" x2="138.5" y2="381.5" stroke="#3a2d7e" stroke-width="1.0"/>
<line x1="133.9" y1="404.9" x2="138.5" y2="404.9" stroke="#3a2d7e" stroke-width="1.0"/>
<path d="M136.2 391.6 L138.4 394.2 L136.2 396.8 L134 394.2 Z" fill="#3a2d7e"/>
<line x1="173.4" y1="367.8" x2="173.4" y2="371.8" stroke="#3a2d7e" stroke-width="1.0"/>
<line x1="171.1" y1="367.8" x2="175.7" y2="367.8" stroke="#3a2d7e" stroke-width="1.0"/>
<line x1="171.1" y1="371.8" x2="175.7" y2="371.8" stroke="#3a2d7e" stroke-width="1.0"/>
<path d="M173.4 367.2 L175.6 369.8 L173.4 372.4 L171.2 369.8 Z" fill="#3a2d7e"/>
<polyline points="61.8,456.5 99,455.7 136.2,431.4 173.4,372" fill="none" stroke="#f0a22e" stroke-width="1.6"/>
<line x1="61.8" y1="450.5" x2="61.8" y2="462" stroke="#f0a22e" stroke-width="1.0"/>
<line x1="59.5" y1="450.5" x2="64.1" y2="450.5" stroke="#f0a22e" stroke-width="1.0"/>
<line x1="59.5" y1="462" x2="64.1" y2="462" stroke="#f0a22e" stroke-width="1.0"/>
<path d="M61.8 454 L64.3 458.7 L59.3 458.7 Z" fill="#f0a22e"/>
<line x1="99" y1="452" x2="99" y2="459" stroke="#f0a22e" stroke-width="1.0"/>
<line x1="96.7" y1="452" x2="101.3" y2="452" stroke="#f0a22e" stroke-width="1.0"/>
<line x1="96.7" y1="459" x2="101.3" y2="459" stroke="#f0a22e" stroke-width="1.0"/>
<path d="M99 453.2 L101.5 457.9 L96.5 457.9 Z" fill="#f0a22e"/>
<line x1="136.2" y1="422.4" x2="136.2" y2="440.9" stroke="#f0a22e" stroke-width="1.0"/>
<line x1="133.9" y1="422.4" x2="138.5" y2="422.4" stroke="#f0a22e" stroke-width="1.0"/>
<line x1="133.9" y1="440.9" x2="138.5" y2="440.9" stroke="#f0a22e" stroke-width="1.0"/>
<path d="M136.2 428.9 L138.7 433.6 L133.7 433.6 Z" fill="#f0a22e"/>
<line x1="173.4" y1="370" x2="173.4" y2="374" stroke="#f0a22e" stroke-width="1.0"/>
<line x1="171.1" y1="370" x2="175.7" y2="370" stroke="#f0a22e" stroke-width="1.0"/>
<line x1="171.1" y1="374" x2="175.7" y2="374" stroke="#f0a22e" stroke-width="1.0"/>
<path d="M173.4 369.5 L175.9 374.2 L170.9 374.2 Z" fill="#f0a22e"/>
<line x1="200.8" y1="367" x2="214.6" y2="367" stroke="#b01030" stroke-width="1.6"/>
<circle cx="207.7" cy="367" r="1.9" fill="#b01030"/>
<text x="217.7" y="369.9" font-size="8" text-anchor="start" font-weight="normal" fill="#1a1a1a">BM</text>
<line x1="200.8" y1="379.3" x2="214.6" y2="379.3" stroke="#2c4a88" stroke-width="1.6"/>
<rect x="205.8" y="377.4" width="3.8" height="3.8" fill="#2c4a88"/>
<text x="217.7" y="382.2" font-size="8" text-anchor="start" font-weight="normal" fill="#1a1a1a">SP</text>
<line x1="200.8" y1="391.6" x2="214.6" y2="391.6" stroke="#6cb552" stroke-width="1.6" stroke-dasharray="3.2 2"/>
<path d="M207.7 389.4 L209.9 393.5 L205.5 393.5 Z" fill="#6cb552"/>
<text x="217.7" y="394.5" font-size="8" text-anchor="start" font-weight="normal" fill="#1a1a1a">LN</text>
<line x1="200.8" y1="403.9" x2="214.6" y2="403.9" stroke="#3a2d7e" stroke-width="1.6" stroke-dasharray="1.6 1.6"/>
<path d="M207.7 401.6 L209.6 403.9 L207.7 406.2 L205.8 403.9 Z" fill="#3a2d7e"/>
<text x="217.7" y="406.8" font-size="8" text-anchor="start" font-weight="normal" fill="#1a1a1a">PB</text>
<line x1="200.8" y1="415.8" x2="214.6" y2="415.8" stroke="#f0a22e" stroke-width="1.6"/>
<path d="M207.7 413.6 L209.9 417.7 L205.5 417.7 Z" fill="#f0a22e"/>
<text x="217.7" y="418.7" font-size="8" text-anchor="start" font-weight="normal" fill="#1a1a1a">Thy</text>
<text x="245.2" y="347.1" font-size="11.6" text-anchor="start" font-weight="bold" fill="#000">D</text>
<text x="303.2" y="346.5" font-size="8.4" text-anchor="middle" font-weight="normal" fill="#1a1a1a">WT/WT</text>
<text x="391.7" y="346.5" font-size="8.4" text-anchor="middle" font-weight="normal" fill="#1a1a1a">KI/WT</text>
<text x="480.2" y="346.5" font-size="8.4" text-anchor="middle" font-weight="normal" fill="#1a1a1a">KI/KI</text>
<line x1="272" y1="351.4" x2="335.7" y2="351.4" stroke="#8a8a8a" stroke-width="0.9"/>
<line x1="272" y1="351.4" x2="272" y2="415.7" stroke="#8a8a8a" stroke-width="0.9"/>
<line x1="335.7" y1="351.4" x2="335.7" y2="415.7" stroke="#8a8a8a" stroke-width="0.9"/>
<line x1="272" y1="415.7" x2="335.7" y2="415.7" stroke="#8a8a8a" stroke-width="0.9"/>
<text x="268.4" y="359.63" font-size="4.6" text-anchor="end" fill="#333">10</text>
<text x="270.1" y="357.23" font-size="2.6" text-anchor="end" fill="#333">4</text>
<line x1="270.2" y1="357.83" x2="272" y2="357.83" stroke="#999" stroke-width="0.6"/>
<text x="268.4" y="373.78" font-size="4.6" text-anchor="end" fill="#333">10</text>
<text x="270.1" y="371.38" font-size="2.6" text-anchor="end" fill="#333">3</text>
<line x1="270.2" y1="371.98" x2="272" y2="371.98" stroke="#999" stroke-width="0.6"/>
<text x="268.4" y="388.56" font-size="4.6" text-anchor="end" fill="#333">10</text>
<text x="270.1" y="386.17" font-size="2.6" text-anchor="end" fill="#333">2</text>
<line x1="270.2" y1="386.76" x2="272" y2="386.76" stroke="#999" stroke-width="0.6"/>
<text x="268.4" y="403.35" font-size="4.6" text-anchor="end" fill="#333">10</text>
<text x="270.1" y="400.95" font-size="2.6" text-anchor="end" fill="#333">1</text>
<line x1="270.2" y1="401.55" x2="272" y2="401.55" stroke="#999" stroke-width="0.6"/>
<text x="268.4" y="411.07" font-size="4.6" text-anchor="end" fill="#333">0</text>
<text x="283.47" y="423.7" font-size="4.6" text-anchor="middle" fill="#333">10</text>
<text x="287.07" y="421.3" font-size="2.6" text-anchor="middle" fill="#333">1</text>
<text x="299.39" y="423.7" font-size="4.6" text-anchor="middle" fill="#333">10</text>
<text x="302.99" y="421.3" font-size="2.6" text-anchor="middle" fill="#333">2</text>
<text x="313.79" y="423.7" font-size="4.6" text-anchor="middle" fill="#333">10</text>
<text x="317.39" y="421.3" font-size="2.6" text-anchor="middle" fill="#333">3</text>
<text x="328.18" y="423.7" font-size="4.6" text-anchor="middle" fill="#333">10</text>
<text x="331.78" y="421.3" font-size="2.6" text-anchor="middle" fill="#333">4</text>
<text x="279.39" y="423.7" font-size="4.6" text-anchor="middle" fill="#333">0</text>
<line x1="360.7" y1="351.8" x2="424.7" y2="351.8" stroke="#8a8a8a" stroke-width="0.9"/>
<line x1="360.7" y1="351.8" x2="360.7" y2="416" stroke="#8a8a8a" stroke-width="0.9"/>
<line x1="424.7" y1="351.8" x2="424.7" y2="416" stroke="#8a8a8a" stroke-width="0.9"/>
<line x1="360.7" y1="416" x2="424.7" y2="416" stroke="#8a8a8a" stroke-width="0.9"/>
<text x="357.1" y="360.02" font-size="4.6" text-anchor="end" fill="#333">10</text>
<text x="358.8" y="357.62" font-size="2.6" text-anchor="end" fill="#333">4</text>
<line x1="358.9" y1="358.22" x2="360.7" y2="358.22" stroke="#999" stroke-width="0.6"/>
<text x="357.1" y="374.14" font-size="4.6" text-anchor="end" fill="#333">10</text>
<text x="358.8" y="371.74" font-size="2.6" text-anchor="end" fill="#333">3</text>
<line x1="358.9" y1="372.34" x2="360.7" y2="372.34" stroke="#999" stroke-width="0.6"/>
<text x="357.1" y="388.91" font-size="4.6" text-anchor="end" fill="#333">10</text>
<text x="358.8" y="386.51" font-size="2.6" text-anchor="end" fill="#333">2</text>
<line x1="358.9" y1="387.11" x2="360.7" y2="387.11" stroke="#999" stroke-width="0.6"/>
<text x="357.1" y="403.68" font-size="4.6" text-anchor="end" fill="#333">10</text>
<text x="358.8" y="401.28" font-size="2.6" text-anchor="end" fill="#333">1</text>
<line x1="358.9" y1="401.88" x2="360.7" y2="401.88" stroke="#999" stroke-width="0.6"/>
<text x="357.1" y="411.38" font-size="4.6" text-anchor="end" fill="#333">0</text>
<text x="372.22" y="424" font-size="4.6" text-anchor="middle" fill="#333">10</text>
<text x="375.82" y="421.6" font-size="2.6" text-anchor="middle" fill="#333">1</text>
<text x="388.22" y="424" font-size="4.6" text-anchor="middle" fill="#333">10</text>
<text x="391.82" y="421.6" font-size="2.6" text-anchor="middle" fill="#333">2</text>
<text x="402.68" y="424" font-size="4.6" text-anchor="middle" fill="#333">10</text>
<text x="406.28" y="421.6" font-size="2.6" text-anchor="middle" fill="#333">3</text>
<text x="417.15" y="424" font-size="4.6" text-anchor="middle" fill="#333">10</text>
<text x="420.75" y="421.6" font-size="2.6" text-anchor="middle" fill="#333">4</text>
<text x="368.12" y="424" font-size="4.6" text-anchor="middle" fill="#333">0</text>
<line x1="448.7" y1="351.8" x2="512.2" y2="351.8" stroke="#8a8a8a" stroke-width="0.9"/>
<line x1="448.7" y1="351.8" x2="448.7" y2="416" stroke="#8a8a8a" stroke-width="0.9"/>
<line x1="512.2" y1="351.8" x2="512.2" y2="416" stroke="#8a8a8a" stroke-width="0.9"/>
<line x1="448.7" y1="416" x2="512.2" y2="416" stroke="#8a8a8a" stroke-width="0.9"/>
<text x="445.1" y="360.02" font-size="4.6" text-anchor="end" fill="#333">10</text>
<text x="446.8" y="357.62" font-size="2.6" text-anchor="end" fill="#333">4</text>
<line x1="446.9" y1="358.22" x2="448.7" y2="358.22" stroke="#999" stroke-width="0.6"/>
<text x="445.1" y="374.14" font-size="4.6" text-anchor="end" fill="#333">10</text>
<text x="446.8" y="371.74" font-size="2.6" text-anchor="end" fill="#333">3</text>
<line x1="446.9" y1="372.34" x2="448.7" y2="372.34" stroke="#999" stroke-width="0.6"/>
<text x="445.1" y="388.91" font-size="4.6" text-anchor="end" fill="#333">10</text>
<text x="446.8" y="386.51" font-size="2.6" text-anchor="end" fill="#333">2</text>
<line x1="446.9" y1="387.11" x2="448.7" y2="387.11" stroke="#999" stroke-width="0.6"/>
<text x="445.1" y="403.68" font-size="4.6" text-anchor="end" fill="#333">10</text>
<text x="446.8" y="401.28" font-size="2.6" text-anchor="end" fill="#333">1</text>
<line x1="446.9" y1="401.88" x2="448.7" y2="401.88" stroke="#999" stroke-width="0.6"/>
<text x="445.1" y="411.38" font-size="4.6" text-anchor="end" fill="#333">0</text>
<text x="460.13" y="424" font-size="4.6" text-anchor="middle" fill="#333">10</text>
<text x="463.73" y="421.6" font-size="2.6" text-anchor="middle" fill="#333">1</text>
<text x="476" y="424" font-size="4.6" text-anchor="middle" fill="#333">10</text>
<text x="479.61" y="421.6" font-size="2.6" text-anchor="middle" fill="#333">2</text>
<text x="490.36" y="424" font-size="4.6" text-anchor="middle" fill="#333">10</text>
<text x="493.96" y="421.6" font-size="2.6" text-anchor="middle" fill="#333">3</text>
<text x="504.71" y="424" font-size="4.6" text-anchor="middle" fill="#333">10</text>
<text x="508.31" y="421.6" font-size="2.6" text-anchor="middle" fill="#333">4</text>
<text x="456.07" y="424" font-size="4.6" text-anchor="middle" fill="#333">0</text>
<line x1="272.1" y1="446.4" x2="336.1" y2="446.4" stroke="#8a8a8a" stroke-width="0.9"/>
<line x1="272.1" y1="446.4" x2="272.1" y2="510.6" stroke="#8a8a8a" stroke-width="0.9"/>
<line x1="336.1" y1="446.4" x2="336.1" y2="510.6" stroke="#8a8a8a" stroke-width="0.9"/>
<line x1="272.1" y1="510.6" x2="322.02" y2="510.6" stroke="#8a8a8a" stroke-width="0.9"/>
<text x="268.5" y="454.62" font-size="4.6" text-anchor="end" fill="#333">10</text>
<text x="270.2" y="452.22" font-size="2.6" text-anchor="end" fill="#333">4</text>
<line x1="270.3" y1="452.82" x2="272.1" y2="452.82" stroke="#999" stroke-width="0.6"/>
<text x="268.5" y="468.74" font-size="4.6" text-anchor="end" fill="#333">10</text>
<text x="270.2" y="466.34" font-size="2.6" text-anchor="end" fill="#333">3</text>
<line x1="270.3" y1="466.94" x2="272.1" y2="466.94" stroke="#999" stroke-width="0.6"/>
<text x="268.5" y="483.51" font-size="4.6" text-anchor="end" fill="#333">10</text>
<text x="270.2" y="481.11" font-size="2.6" text-anchor="end" fill="#333">2</text>
<line x1="270.3" y1="481.71" x2="272.1" y2="481.71" stroke="#999" stroke-width="0.6"/>
<text x="268.5" y="498.28" font-size="4.6" text-anchor="end" fill="#333">10</text>
<text x="270.2" y="495.88" font-size="2.6" text-anchor="end" fill="#333">1</text>
<line x1="270.3" y1="496.48" x2="272.1" y2="496.48" stroke="#999" stroke-width="0.6"/>
<text x="268.5" y="505.98" font-size="4.6" text-anchor="end" fill="#333">0</text>
<text x="283.62" y="518.6" font-size="4.6" text-anchor="middle" fill="#333">10</text>
<text x="287.22" y="516.2" font-size="2.6" text-anchor="middle" fill="#333">1</text>
<text x="299.62" y="518.6" font-size="4.6" text-anchor="middle" fill="#333">10</text>
<text x="303.22" y="516.2" font-size="2.6" text-anchor="middle" fill="#333">2</text>
<text x="314.08" y="518.6" font-size="4.6" text-anchor="middle" fill="#333">10</text>
<text x="317.68" y="516.2" font-size="2.6" text-anchor="middle" fill="#333">3</text>
<text x="328.55" y="518.6" font-size="4.6" text-anchor="middle" fill="#333">10</text>
<text x="332.15" y="516.2" font-size="2.6" text-anchor="middle" fill="#333">4</text>
<text x="279.52" y="518.6" font-size="4.6" text-anchor="middle" fill="#333">0</text>
<line x1="360.9" y1="445.8" x2="424.9" y2="445.8" stroke="#8a8a8a" stroke-width="0.9"/>
<line x1="360.9" y1="445.8" x2="360.9" y2="510.6" stroke="#8a8a8a" stroke-width="0.9"/>
<line x1="424.9" y1="445.8" x2="424.9" y2="510.6" stroke="#8a8a8a" stroke-width="0.9"/>
<line x1="360.9" y1="510.6" x2="410.82" y2="510.6" stroke="#8a8a8a" stroke-width="0.9"/>
<text x="357.3" y="454.08" font-size="4.6" text-anchor="end" fill="#333">10</text>
<text x="359" y="451.68" font-size="2.6" text-anchor="end" fill="#333">4</text>
<line x1="359.1" y1="452.28" x2="360.9" y2="452.28" stroke="#999" stroke-width="0.6"/>
<text x="357.3" y="468.34" font-size="4.6" text-anchor="end" fill="#333">10</text>
<text x="359" y="465.94" font-size="2.6" text-anchor="end" fill="#333">3</text>
<line x1="359.1" y1="466.54" x2="360.9" y2="466.54" stroke="#999" stroke-width="0.6"/>
<text x="357.3" y="483.24" font-size="4.6" text-anchor="end" fill="#333">10</text>
<text x="359" y="480.84" font-size="2.6" text-anchor="end" fill="#333">2</text>
<line x1="359.1" y1="481.44" x2="360.9" y2="481.44" stroke="#999" stroke-width="0.6"/>
<text x="357.3" y="498.14" font-size="4.6" text-anchor="end" fill="#333">10</text>
<text x="359" y="495.74" font-size="2.6" text-anchor="end" fill="#333">1</text>
<line x1="359.1" y1="496.34" x2="360.9" y2="496.34" stroke="#999" stroke-width="0.6"/>
<text x="357.3" y="505.92" font-size="4.6" text-anchor="end" fill="#333">0</text>
<text x="372.42" y="518.6" font-size="4.6" text-anchor="middle" fill="#333">10</text>
<text x="376.02" y="516.2" font-size="2.6" text-anchor="middle" fill="#333">1</text>
<text x="388.42" y="518.6" font-size="4.6" text-anchor="middle" fill="#333">10</text>
<text x="392.02" y="516.2" font-size="2.6" text-anchor="middle" fill="#333">2</text>
<text x="402.88" y="518.6" font-size="4.6" text-anchor="middle" fill="#333">10</text>
<text x="406.48" y="516.2" font-size="2.6" text-anchor="middle" fill="#333">3</text>
<text x="417.35" y="518.6" font-size="4.6" text-anchor="middle" fill="#333">10</text>
<text x="420.95" y="516.2" font-size="2.6" text-anchor="middle" fill="#333">4</text>
<text x="368.32" y="518.6" font-size="4.6" text-anchor="middle" fill="#333">0</text>
<line x1="448.7" y1="446.2" x2="512.2" y2="446.2" stroke="#8a8a8a" stroke-width="0.9"/>
<line x1="448.7" y1="446.2" x2="448.7" y2="510.3" stroke="#8a8a8a" stroke-width="0.9"/>
<line x1="512.2" y1="446.2" x2="512.2" y2="510.3" stroke="#dcdcdc" stroke-width="0.9"/>
<line x1="448.7" y1="510.3" x2="498.23" y2="510.3" stroke="#8a8a8a" stroke-width="0.9"/>
<text x="445.1" y="454.41" font-size="4.6" text-anchor="end" fill="#333">10</text>
<text x="446.8" y="452.01" font-size="2.6" text-anchor="end" fill="#333">4</text>
<line x1="446.9" y1="452.61" x2="448.7" y2="452.61" stroke="#999" stroke-width="0.6"/>
<text x="445.1" y="468.51" font-size="4.6" text-anchor="end" fill="#333">10</text>
<text x="446.8" y="466.11" font-size="2.6" text-anchor="end" fill="#333">3</text>
<line x1="446.9" y1="466.71" x2="448.7" y2="466.71" stroke="#999" stroke-width="0.6"/>
<text x="445.1" y="483.25" font-size="4.6" text-anchor="end" fill="#333">10</text>
<text x="446.8" y="480.86" font-size="2.6" text-anchor="end" fill="#333">2</text>
<line x1="446.9" y1="481.45" x2="448.7" y2="481.45" stroke="#999" stroke-width="0.6"/>
<text x="445.1" y="498" font-size="4.6" text-anchor="end" fill="#333">10</text>
<text x="446.8" y="495.6" font-size="2.6" text-anchor="end" fill="#333">1</text>
<line x1="446.9" y1="496.2" x2="448.7" y2="496.2" stroke="#999" stroke-width="0.6"/>
<text x="445.1" y="505.69" font-size="4.6" text-anchor="end" fill="#333">0</text>
<text x="460.13" y="518.3" font-size="4.6" text-anchor="middle" fill="#333">10</text>
<text x="463.73" y="515.9" font-size="2.6" text-anchor="middle" fill="#333">1</text>
<text x="476" y="518.3" font-size="4.6" text-anchor="middle" fill="#333">10</text>
<text x="479.61" y="515.9" font-size="2.6" text-anchor="middle" fill="#333">2</text>
<text x="490.36" y="518.3" font-size="4.6" text-anchor="middle" fill="#333">10</text>
<text x="493.96" y="515.9" font-size="2.6" text-anchor="middle" fill="#333">3</text>
<text x="504.71" y="518.3" font-size="4.6" text-anchor="middle" fill="#333">10</text>
<text x="508.31" y="515.9" font-size="2.6" text-anchor="middle" fill="#333">4</text>
<text x="456.07" y="518.3" font-size="4.6" text-anchor="middle" fill="#333">0</text>
<defs><clipPath id="k1"><rect x="272.5" y="351.9" width="62.69999999999999" height="63.30000000000001"/></clipPath><clipPath id="k2"><rect x="361.2" y="352.3" width="63.0" height="63.19999999999999"/></clipPath><clipPath id="k3"><rect x="449.2" y="352.3" width="62.5" height="63.19999999999999"/></clipPath><clipPath id="k4"><rect x="272.6" y="446.9" width="63.0" height="63.200000000000045"/></clipPath><clipPath id="k5"><rect x="361.4" y="446.3" width="63.0" height="63.80000000000001"/></clipPath><clipPath id="k6"><rect x="449.2" y="446.7" width="62.5" height="63.10000000000002"/></clipPath></defs>
<g clip-path="url(#k1)">
<path d="M300.8 413.5 L300.0 413.5 L299.5 413.5 L298.8 413.3 L298.2 413.1 L297.8 412.8 L297.3 412.5 L297.0 412.2 L296.5 411.8 L296.2 411.5 L295.8 411.0 L295.5 410.7 L295.2 410.2 L294.8 409.8 L294.5 409.3 L294.2 409.0 L293.9 408.5 L293.5 408.0 L293.0 407.8 L292.4 408.0 L292.0 408.3 L291.5 408.7 L291.2 409.0 L290.8 409.3 L290.2 409.6 L289.8 409.9 L289.2 410.1 L288.8 410.4 L288.2 410.5 L287.6 410.8 L287.0 410.9 L286.5 411.0 L285.8 411.1 L285.0 411.2 L284.2 411.2 L283.5 411.2 L282.8 411.2 L282.0 411.1 L281.5 411.0 L280.8 410.8 L280.2 410.7 L279.6 410.5 L279.0 410.3 L278.5 410.0 L278.0 409.8 L277.6 409.5 L277.2 409.2 L276.8 408.9 L276.4 408.5 L276.0 408.1 L275.8 407.7 L275.5 407.2 L275.3 406.5 L275.2 406.0 L275.2 405.2 L275.4 404.8 L275.6 404.2 L275.9 403.8 L276.2 403.2 L276.5 403.0 L277.0 402.5 L277.4 402.2 L277.8 402.0 L278.2 401.7 L278.8 401.5 L279.2 401.2 L279.9 401.0 L280.5 400.8 L281.0 400.7 L281.8 400.6 L282.2 400.5 L283.0 400.4 L283.8 400.4 L284.5 400.4 L285.2 400.4 L285.8 400.5 L286.5 400.6 L287.2 400.7 L288.0 400.7 L288.5 400.8 L289.2 401.0 L289.7 401.2 L290.1 401.5 L290.5 401.9 L290.9 402.2 L291.2 402.6 L291.7 403.0 L292.0 403.3 L292.5 403.6 L293.0 403.4 L293.2 402.9 L293.4 402.2 L293.5 401.6 L293.5 401.0 L293.6 400.2 L293.6 399.5 L293.6 398.8 L293.5 398.0 L293.5 397.2 L293.5 396.8 L293.5 396.0 L293.4 395.2 L293.4 394.5 L293.4 393.8 L293.4 393.0 L293.3 392.2 L293.3 391.5 L293.4 390.8 L293.4 390.0 L293.4 389.2 L293.4 388.5 L293.5 387.8 L293.5 387.2 L293.6 386.5 L293.6 385.8 L293.6 385.0 L293.6 384.2 L293.6 383.5 L293.6 382.8 L293.6 382.0 L293.6 381.2 L293.7 380.5 L293.7 379.8 L293.8 379.2 L294.0 378.5 L294.1 378.0 L294.2 377.5 L294.5 376.8 L294.7 376.2 L295.0 375.8 L295.2 375.3 L295.5 374.9 L295.8 374.5 L296.2 374.0 L296.5 373.6 L296.9 373.2 L297.2 372.9 L297.8 372.6 L298.2 372.3 L298.8 372.2 L299.5 372.1 L300.0 372.2 L300.6 372.5 L301.0 372.8 L301.5 373.2 L301.8 373.5 L302.1 374.0 L302.5 374.5 L302.8 375.0 L303.0 375.4 L303.2 375.9 L303.5 376.5 L303.7 377.0 L303.8 377.5 L304.0 378.0 L304.2 378.8 L304.3 379.2 L304.4 380.0 L304.5 380.7 L304.6 381.2 L304.6 382.0 L304.7 382.8 L304.8 383.3 L304.8 384.0 L304.9 384.8 L305.0 385.5 L305.0 386.0 L305.1 386.8 L305.1 387.5 L305.2 388.2 L305.2 389.0 L305.2 389.8 L305.3 390.2 L305.3 391.0 L305.3 391.8 L305.3 392.5 L305.3 393.2 L305.3 394.0 L305.2 394.5 L305.2 395.2 L305.2 396.0 L305.1 396.8 L305.1 397.5 L305.1 398.2 L305.1 399.0 L305.1 399.8 L305.3 400.2 L305.5 400.8 L305.9 401.2 L306.2 401.8 L306.5 402.1 L306.8 402.5 L307.1 403.0 L307.4 403.5 L307.6 404.0 L307.8 404.5 L308.0 405.2 L308.1 405.8 L308.1 406.5 L308.1 407.2 L308.0 407.8 L307.8 408.5 L307.6 409.0 L307.4 409.5 L307.1 410.0 L306.8 410.5 L306.5 410.8 L306.1 411.2 L305.8 411.5 L305.2 411.9 L304.8 412.2 L304.3 412.5 L303.8 412.7 L303.2 412.9 L302.8 413.1 L302.2 413.3 L301.5 413.4 L301.0 413.5Z M289.8 393.3 L289.2 393.2 L288.9 392.8 L288.7 392.2 L288.5 391.7 L288.3 391.0 L288.2 390.5 L288.1 389.8 L288.0 389.0 L288.0 388.5 L287.9 387.8 L287.9 387.0 L287.9 386.2 L287.9 385.5 L287.9 384.8 L288.0 384.0 L288.0 383.3 L288.1 382.8 L288.2 382.0 L288.2 381.4 L288.4 380.8 L288.5 380.2 L288.8 379.6 L289.0 379.1 L289.5 378.8 L289.8 378.8 L290.1 379.2 L290.3 379.8 L290.5 380.2 L290.7 381.0 L290.8 381.5 L290.9 382.2 L291.0 383.0 L291.0 383.5 L291.1 384.2 L291.1 385.0 L291.1 385.8 L291.1 386.5 L291.1 387.2 L291.1 388.0 L291.0 388.8 L290.9 389.2 L290.9 390.0 L290.8 390.6 L290.6 391.2 L290.5 391.8 L290.2 392.5 L290.0 393.0 L289.8 393.3Z" fill="#c8c8c8" fill-rule="evenodd"/>
<path d="M301.8 412.3 L301.0 412.4 L300.2 412.3 L299.6 412.2 L299.0 412.1 L298.5 411.9 L298.0 411.6 L297.6 411.2 L297.2 411.0 L296.8 410.5 L296.5 410.1 L296.2 409.8 L295.9 409.2 L295.7 408.8 L295.5 408.2 L295.2 407.7 L295.1 407.0 L295.0 406.5 L294.9 405.8 L294.8 405.0 L294.8 404.2 L294.8 403.5 L294.9 402.8 L294.8 402.0 L294.8 401.2 L294.8 400.5 L294.7 400.0 L294.6 399.2 L294.6 398.5 L294.5 397.8 L294.5 397.2 L294.4 396.5 L294.4 395.8 L294.3 395.0 L294.3 394.2 L294.3 393.5 L294.3 392.8 L294.3 392.0 L294.3 391.2 L294.3 390.5 L294.3 389.8 L294.3 389.0 L294.4 388.2 L294.4 387.5 L294.5 386.8 L294.5 386.2 L294.5 385.5 L294.5 384.8 L294.5 384.0 L294.5 383.5 L294.4 382.8 L294.4 382.0 L294.4 381.2 L294.5 380.5 L294.5 380.0 L294.6 379.2 L294.8 378.6 L294.9 378.0 L295.1 377.5 L295.3 377.0 L295.6 376.5 L295.9 376.0 L296.2 375.6 L296.5 375.2 L297.0 374.8 L297.4 374.5 L297.9 374.2 L298.5 374.0 L299.0 373.9 L299.6 374.0 L300.2 374.2 L300.7 374.5 L301.1 374.8 L301.5 375.2 L301.8 375.5 L302.1 376.0 L302.4 376.5 L302.7 377.0 L302.9 377.5 L303.1 378.0 L303.2 378.5 L303.4 379.2 L303.5 379.8 L303.6 380.5 L303.7 381.2 L303.8 381.8 L303.8 382.5 L303.9 383.2 L303.9 384.0 L304.0 384.8 L304.0 385.2 L304.1 386.0 L304.2 386.8 L304.2 387.5 L304.3 388.0 L304.3 388.8 L304.4 389.5 L304.4 390.2 L304.4 391.0 L304.4 391.8 L304.4 392.5 L304.4 393.2 L304.4 394.0 L304.4 394.8 L304.3 395.5 L304.3 396.2 L304.2 396.8 L304.2 397.5 L304.1 398.2 L304.1 399.0 L304.2 399.8 L304.3 400.2 L304.5 400.8 L304.8 401.3 L305.1 401.8 L305.4 402.2 L305.8 402.7 L306.0 403.1 L306.3 403.5 L306.5 404.0 L306.8 404.5 L307.0 405.2 L307.0 405.8 L307.1 406.5 L307.0 407.2 L306.9 407.8 L306.8 408.3 L306.5 408.9 L306.2 409.4 L306.0 409.8 L305.6 410.2 L305.2 410.6 L304.8 411.0 L304.4 411.2 L304.0 411.5 L303.5 411.8 L302.8 412.0 L302.2 412.2 L301.8 412.3Z M285.0 406.8 L284.2 406.9 L283.5 406.9 L283.0 406.8 L282.5 406.5 L282.2 406.0 L282.2 405.4 L282.7 405.0 L283.2 404.8 L283.8 404.7 L284.5 404.7 L285.0 404.8 L285.5 405.1 L285.8 405.5 L285.8 406.2 L285.5 406.5 L285.0 406.8Z" fill="#9a9a9a" fill-rule="evenodd"/>
<path d="M301.8 411.5 L301.0 411.6 L300.2 411.6 L299.8 411.5 L299.1 411.2 L298.6 411.0 L298.2 410.8 L297.8 410.4 L297.4 410.0 L297.0 409.6 L296.8 409.2 L296.5 408.8 L296.2 408.2 L296.0 407.5 L295.9 407.0 L295.8 406.4 L295.7 405.8 L295.7 405.0 L295.7 404.2 L295.7 403.5 L295.8 403.0 L295.8 402.2 L295.8 401.5 L295.8 400.8 L295.7 400.2 L295.7 399.5 L295.6 398.8 L295.5 398.1 L295.4 397.5 L295.4 396.8 L295.3 396.0 L295.2 395.4 L295.2 394.8 L295.2 394.0 L295.1 393.2 L295.1 392.5 L295.1 391.8 L295.1 391.0 L295.2 390.2 L295.2 389.5 L295.2 388.8 L295.3 388.2 L295.3 387.5 L295.4 386.8 L295.4 386.0 L295.3 385.2 L295.3 384.5 L295.2 384.0 L295.1 383.2 L295.0 382.5 L295.0 381.8 L295.0 381.2 L295.0 380.8 L295.1 380.0 L295.2 379.2 L295.3 378.8 L295.5 378.2 L295.8 377.6 L296.0 377.1 L296.2 376.7 L296.6 376.2 L297.0 375.9 L297.5 375.5 L298.0 375.2 L298.5 375.1 L299.2 375.0 L300.0 375.2 L300.5 375.5 L300.9 375.8 L301.2 376.1 L301.6 376.5 L301.9 377.0 L302.2 377.5 L302.4 378.0 L302.6 378.5 L302.8 379.1 L302.9 379.8 L303.0 380.5 L303.1 381.0 L303.1 381.8 L303.1 382.5 L303.1 383.2 L303.1 384.0 L303.2 384.8 L303.2 385.5 L303.2 386.2 L303.3 386.8 L303.4 387.5 L303.4 388.2 L303.5 388.9 L303.5 389.5 L303.6 390.2 L303.6 391.0 L303.6 391.8 L303.6 392.5 L303.6 393.2 L303.6 394.0 L303.6 394.8 L303.5 395.5 L303.5 396.0 L303.4 396.8 L303.3 397.5 L303.3 398.2 L303.2 398.8 L303.3 399.2 L303.4 400.0 L303.6 400.5 L303.8 401.0 L304.1 401.5 L304.4 402.0 L304.8 402.5 L305.0 402.8 L305.3 403.2 L305.6 403.8 L305.9 404.2 L306.1 404.8 L306.2 405.4 L306.3 406.0 L306.3 406.8 L306.2 407.5 L306.1 408.0 L305.9 408.5 L305.6 409.0 L305.3 409.5 L305.0 409.8 L304.6 410.2 L304.2 410.5 L303.8 410.8 L303.2 411.1 L302.8 411.3 L302.0 411.5Z" fill="#747474" fill-rule="evenodd"/>
<path d="M302.0 410.8 L301.2 410.9 L300.5 410.9 L299.8 410.8 L299.2 410.6 L298.8 410.3 L298.4 410.0 L298.0 409.7 L297.6 409.2 L297.3 408.8 L297.0 408.3 L296.8 407.8 L296.6 407.2 L296.5 406.7 L296.4 406.0 L296.4 405.2 L296.4 404.5 L296.5 404.0 L296.6 403.2 L296.8 402.7 L296.9 402.0 L297.1 401.5 L297.2 400.8 L297.3 400.2 L297.3 399.5 L297.2 399.0 L297.1 398.2 L297.0 397.5 L296.9 397.0 L296.8 396.2 L296.8 395.7 L296.7 395.0 L296.6 394.2 L296.6 393.5 L296.6 392.8 L296.6 392.0 L296.6 391.2 L296.6 390.5 L296.7 389.8 L296.7 389.0 L296.8 388.5 L296.8 387.8 L296.7 387.2 L296.6 386.5 L296.5 385.9 L296.3 385.2 L296.2 384.8 L296.0 384.1 L295.8 383.5 L295.7 383.0 L295.6 382.2 L295.6 381.5 L295.5 380.8 L295.6 380.0 L295.7 379.2 L295.9 378.8 L296.1 378.2 L296.3 377.8 L296.7 377.2 L297.0 376.9 L297.4 376.5 L297.8 376.2 L298.4 376.0 L299.0 375.9 L299.5 376.0 L300.1 376.2 L300.5 376.5 L301.0 376.9 L301.2 377.3 L301.6 377.8 L301.8 378.2 L302.0 378.8 L302.2 379.5 L302.3 380.0 L302.4 380.8 L302.4 381.5 L302.4 382.2 L302.4 383.0 L302.3 383.8 L302.2 384.2 L302.1 385.0 L302.0 385.8 L302.0 386.5 L302.1 387.2 L302.2 388.0 L302.2 388.8 L302.3 389.2 L302.4 390.0 L302.4 390.8 L302.5 391.5 L302.5 392.2 L302.5 393.0 L302.5 393.8 L302.4 394.5 L302.3 395.2 L302.3 396.0 L302.2 396.5 L302.1 397.2 L302.0 397.8 L301.9 398.5 L302.0 399.2 L302.1 399.8 L302.4 400.2 L302.7 400.8 L303.0 401.2 L303.2 401.5 L303.6 402.0 L303.9 402.5 L304.2 402.9 L304.5 403.3 L304.8 403.8 L305.1 404.2 L305.3 404.8 L305.5 405.3 L305.6 406.0 L305.6 406.8 L305.5 407.5 L305.4 408.0 L305.1 408.5 L304.8 409.0 L304.5 409.4 L304.1 409.8 L303.8 410.0 L303.2 410.3 L302.8 410.6 L302.2 410.8Z" fill="#505050" fill-rule="evenodd"/>
<path d="M299.5 385.5 L298.8 385.5 L298.2 385.3 L297.8 385.0 L297.5 384.8 L297.1 384.2 L296.8 383.8 L296.6 383.2 L296.4 382.8 L296.2 382.2 L296.1 381.5 L296.1 380.8 L296.2 380.0 L296.3 379.5 L296.5 378.8 L296.7 378.2 L297.0 377.9 L297.3 377.5 L297.8 377.1 L298.2 376.9 L299.0 376.8 L299.8 377.0 L300.2 377.2 L300.5 377.5 L300.9 378.0 L301.2 378.5 L301.4 379.0 L301.6 379.5 L301.7 380.2 L301.8 380.8 L301.8 381.5 L301.7 382.0 L301.6 382.8 L301.4 383.2 L301.2 383.8 L301.0 384.2 L300.6 384.8 L300.2 385.1 L299.8 385.4Z M302.2 410.0 L301.5 410.2 L300.8 410.2 L300.0 410.1 L299.5 409.9 L299.0 409.6 L298.6 409.2 L298.2 408.9 L297.9 408.5 L297.6 408.0 L297.4 407.5 L297.2 406.9 L297.1 406.2 L297.1 405.5 L297.2 404.8 L297.3 404.2 L297.5 403.5 L297.7 403.0 L298.0 402.5 L298.2 402.1 L298.6 401.8 L299.0 401.4 L299.5 401.1 L300.0 400.9 L300.8 400.9 L301.2 401.1 L301.8 401.4 L302.2 401.7 L302.5 402.0 L303.0 402.5 L303.2 402.8 L303.6 403.2 L304.0 403.8 L304.2 404.2 L304.5 404.7 L304.7 405.2 L304.9 405.8 L304.9 406.5 L304.8 407.2 L304.7 407.8 L304.5 408.2 L304.1 408.8 L303.8 409.2 L303.3 409.5 L302.9 409.8 L302.4 410.0Z" fill="#2c2c2c" fill-rule="evenodd"/>
<path d="M299.8 383.8 L299.0 384.0 L298.2 383.8 L297.8 383.5 L297.5 383.2 L297.2 382.8 L296.9 382.2 L296.8 381.6 L296.7 381.0 L296.7 380.2 L296.8 379.8 L297.0 379.1 L297.2 378.6 L297.5 378.2 L298.0 377.8 L298.5 377.6 L299.2 377.6 L299.8 377.8 L300.2 378.2 L300.5 378.5 L300.8 379.0 L301.0 379.6 L301.1 380.2 L301.2 381.0 L301.1 381.8 L300.9 382.2 L300.7 382.8 L300.4 383.2 L300.0 383.6Z M301.5 409.5 L300.8 409.5 L300.2 409.4 L299.7 409.2 L299.2 408.9 L298.8 408.5 L298.5 408.1 L298.2 407.7 L298.0 407.1 L297.9 406.5 L297.8 405.8 L297.9 405.0 L298.1 404.5 L298.3 404.0 L298.6 403.5 L299.0 403.0 L299.3 402.8 L299.8 402.5 L300.5 402.3 L301.2 402.4 L301.8 402.6 L302.2 402.9 L302.7 403.2 L303.0 403.6 L303.3 404.0 L303.7 404.5 L303.9 405.0 L304.1 405.5 L304.2 406.2 L304.2 407.0 L304.0 407.6 L303.8 408.1 L303.4 408.5 L303.0 408.9 L302.5 409.2 L302.0 409.4 L301.5 409.5Z" fill="#141414" fill-rule="evenodd"/>
<path d="M299.5 382.6 L298.8 382.7 L298.2 382.5 L297.8 382.0 L297.5 381.5 L297.4 381.0 L297.4 380.2 L297.5 379.7 L297.8 379.2 L298.2 378.8 L298.8 378.5 L299.5 378.7 L299.8 379.0 L300.2 379.5 L300.3 380.0 L300.4 380.8 L300.3 381.5 L300.1 382.0 L299.8 382.4Z M301.0 408.8 L300.5 408.7 L300.0 408.5 L299.5 408.1 L299.2 407.8 L298.9 407.2 L298.7 406.8 L298.7 406.0 L298.8 405.4 L299.0 404.8 L299.2 404.3 L299.5 404.0 L300.0 403.7 L300.6 403.5 L301.1 403.5 L301.8 403.7 L302.2 404.0 L302.5 404.3 L302.9 404.8 L303.2 405.2 L303.3 405.8 L303.4 406.5 L303.3 407.2 L303.0 407.7 L302.8 408.0 L302.2 408.4 L301.8 408.7 L301.2 408.8Z" fill="#444" fill-rule="evenodd"/>
<path d="M299.0 381.6 L298.5 381.5 L298.2 381.0 L298.1 380.2 L298.4 379.8 L299.0 379.5 L299.5 380.0 L299.6 380.5 L299.5 381.2 L299.2 381.5Z M301.2 408.0 L300.8 408.0 L300.2 407.8 L299.8 407.3 L299.5 406.8 L299.4 406.2 L299.5 405.6 L299.8 405.1 L300.1 404.8 L300.5 404.5 L301.2 404.5 L301.8 404.7 L302.1 405.0 L302.5 405.5 L302.7 406.0 L302.6 406.8 L302.4 407.2 L302.0 407.7 L301.5 408.0Z" fill="#999" fill-rule="evenodd"/>
<path d="M301.2 407.0 L300.8 407.0 L300.4 406.5 L300.5 405.8 L300.9 405.5 L301.2 405.5 L301.7 406.0 L301.8 406.5 L301.5 406.9Z" fill="#f0f0f0" fill-rule="evenodd"/>
<path d="M300.8 413.5 L300.0 413.5 L299.5 413.5 L298.8 413.3 L298.2 413.1 L297.8 412.8 L297.3 412.5 L297.0 412.2 L296.5 411.8 L296.2 411.5 L295.8 411.0 L295.5 410.7 L295.2 410.2 L294.8 409.8 L294.5 409.3 L294.2 409.0 L293.9 408.5 L293.5 408.0 L293.0 407.8 L292.4 408.0 L292.0 408.3 L291.5 408.7 L291.2 409.0 L290.8 409.3 L290.2 409.6 L289.8 409.9 L289.2 410.1 L288.8 410.4 L288.2 410.5 L287.6 410.8 L287.0 410.9 L286.5 411.0 L285.8 411.1 L285.0 411.2 L284.2 411.2 L283.5 411.2 L282.8 411.2 L282.0 411.1 L281.5 411.0 L280.8 410.8 L280.2 410.7 L279.6 410.5 L279.0 410.3 L278.5 410.0 L278.0 409.8 L277.6 409.5 L277.2 409.2 L276.8 408.9 L276.4 408.5 L276.0 408.1 L275.8 407.7 L275.5 407.2 L275.3 406.5 L275.2 406.0 L275.2 405.2 L275.4 404.8 L275.6 404.2 L275.9 403.8 L276.2 403.2 L276.5 403.0 L277.0 402.5 L277.4 402.2 L277.8 402.0 L278.2 401.7 L278.8 401.5 L279.2 401.2 L279.9 401.0 L280.5 400.8 L281.0 400.7 L281.8 400.6 L282.2 400.5 L283.0 400.4 L283.8 400.4 L284.5 400.4 L285.2 400.4 L285.8 400.5 L286.5 400.6 L287.2 400.7 L288.0 400.7 L288.5 400.8 L289.2 401.0 L289.7 401.2 L290.1 401.5 L290.5 401.9 L290.9 402.2 L291.2 402.6 L291.7 403.0 L292.0 403.3 L292.5 403.6 L293.0 403.4 L293.2 402.9 L293.4 402.2 L293.5 401.6 L293.5 401.0 L293.6 400.2 L293.6 399.5 L293.6 398.8 L293.5 398.0 L293.5 397.2 L293.5 396.8 L293.5 396.0 L293.4 395.2 L293.4 394.5 L293.4 393.8 L293.4 393.0 L293.3 392.2 L293.3 391.5 L293.4 390.8 L293.4 390.0 L293.4 389.2 L293.4 388.5 L293.5 387.8 L293.5 387.2 L293.6 386.5 L293.6 385.8 L293.6 385.0 L293.6 384.2 L293.6 383.5 L293.6 382.8 L293.6 382.0 L293.6 381.2 L293.7 380.5 L293.7 379.8 L293.8 379.2 L294.0 378.5 L294.1 378.0 L294.2 377.5 L294.5 376.8 L294.7 376.2 L295.0 375.8 L295.2 375.3 L295.5 374.9 L295.8 374.5 L296.2 374.0 L296.5 373.6 L296.9 373.2 L297.2 372.9 L297.8 372.6 L298.2 372.3 L298.8 372.2 L299.5 372.1 L300.0 372.2 L300.6 372.5 L301.0 372.8 L301.5 373.2 L301.8 373.5 L302.1 374.0 L302.5 374.5 L302.8 375.0 L303.0 375.4 L303.2 375.9 L303.5 376.5 L303.7 377.0 L303.8 377.5 L304.0 378.0 L304.2 378.8 L304.3 379.2 L304.4 380.0 L304.5 380.7 L304.6 381.2 L304.6 382.0 L304.7 382.8 L304.8 383.3 L304.8 384.0 L304.9 384.8 L305.0 385.5 L305.0 386.0 L305.1 386.8 L305.1 387.5 L305.2 388.2 L305.2 389.0 L305.2 389.8 L305.3 390.2 L305.3 391.0 L305.3 391.8 L305.3 392.5 L305.3 393.2 L305.3 394.0 L305.2 394.5 L305.2 395.2 L305.2 396.0 L305.1 396.8 L305.1 397.5 L305.1 398.2 L305.1 399.0 L305.1 399.8 L305.3 400.2 L305.5 400.8 L305.9 401.2 L306.2 401.8 L306.5 402.1 L306.8 402.5 L307.1 403.0 L307.4 403.5 L307.6 404.0 L307.8 404.5 L308.0 405.2 L308.1 405.8 L308.1 406.5 L308.1 407.2 L308.0 407.8 L307.8 408.5 L307.6 409.0 L307.4 409.5 L307.1 410.0 L306.8 410.5 L306.5 410.8 L306.1 411.2 L305.8 411.5 L305.2 411.9 L304.8 412.2 L304.3 412.5 L303.8 412.7 L303.2 412.9 L302.8 413.1 L302.2 413.3 L301.5 413.4 L301.0 413.5Z M289.8 393.3 L289.2 393.2 L288.9 392.8 L288.7 392.2 L288.5 391.7 L288.3 391.0 L288.2 390.5 L288.1 389.8 L288.0 389.0 L288.0 388.5 L287.9 387.8 L287.9 387.0 L287.9 386.2 L287.9 385.5 L287.9 384.8 L288.0 384.0 L288.0 383.3 L288.1 382.8 L288.2 382.0 L288.2 381.4 L288.4 380.8 L288.5 380.2 L288.8 379.6 L289.0 379.1 L289.5 378.8 L289.8 378.8 L290.1 379.2 L290.3 379.8 L290.5 380.2 L290.7 381.0 L290.8 381.5 L290.9 382.2 L291.0 383.0 L291.0 383.5 L291.1 384.2 L291.1 385.0 L291.1 385.8 L291.1 386.5 L291.1 387.2 L291.1 388.0 L291.0 388.8 L290.9 389.2 L290.9 390.0 L290.8 390.6 L290.6 391.2 L290.5 391.8 L290.2 392.5 L290.0 393.0 L289.8 393.3Z" fill="none" stroke="#1a1a1a" stroke-width="0.5"/>
<path d="M301.8 412.3 L301.0 412.4 L300.2 412.3 L299.6 412.2 L299.0 412.1 L298.5 411.9 L298.0 411.6 L297.6 411.2 L297.2 411.0 L296.8 410.5 L296.5 410.1 L296.2 409.8 L295.9 409.2 L295.7 408.8 L295.5 408.2 L295.2 407.7 L295.1 407.0 L295.0 406.5 L294.9 405.8 L294.8 405.0 L294.8 404.2 L294.8 403.5 L294.9 402.8 L294.8 402.0 L294.8 401.2 L294.8 400.5 L294.7 400.0 L294.6 399.2 L294.6 398.5 L294.5 397.8 L294.5 397.2 L294.4 396.5 L294.4 395.8 L294.3 395.0 L294.3 394.2 L294.3 393.5 L294.3 392.8 L294.3 392.0 L294.3 391.2 L294.3 390.5 L294.3 389.8 L294.3 389.0 L294.4 388.2 L294.4 387.5 L294.5 386.8 L294.5 386.2 L294.5 385.5 L294.5 384.8 L294.5 384.0 L294.5 383.5 L294.4 382.8 L294.4 382.0 L294.4 381.2 L294.5 380.5 L294.5 380.0 L294.6 379.2 L294.8 378.6 L294.9 378.0 L295.1 377.5 L295.3 377.0 L295.6 376.5 L295.9 376.0 L296.2 375.6 L296.5 375.2 L297.0 374.8 L297.4 374.5 L297.9 374.2 L298.5 374.0 L299.0 373.9 L299.6 374.0 L300.2 374.2 L300.7 374.5 L301.1 374.8 L301.5 375.2 L301.8 375.5 L302.1 376.0 L302.4 376.5 L302.7 377.0 L302.9 377.5 L303.1 378.0 L303.2 378.5 L303.4 379.2 L303.5 379.8 L303.6 380.5 L303.7 381.2 L303.8 381.8 L303.8 382.5 L303.9 383.2 L303.9 384.0 L304.0 384.8 L304.0 385.2 L304.1 386.0 L304.2 386.8 L304.2 387.5 L304.3 388.0 L304.3 388.8 L304.4 389.5 L304.4 390.2 L304.4 391.0 L304.4 391.8 L304.4 392.5 L304.4 393.2 L304.4 394.0 L304.4 394.8 L304.3 395.5 L304.3 396.2 L304.2 396.8 L304.2 397.5 L304.1 398.2 L304.1 399.0 L304.2 399.8 L304.3 400.2 L304.5 400.8 L304.8 401.3 L305.1 401.8 L305.4 402.2 L305.8 402.7 L306.0 403.1 L306.3 403.5 L306.5 404.0 L306.8 404.5 L307.0 405.2 L307.0 405.8 L307.1 406.5 L307.0 407.2 L306.9 407.8 L306.8 408.3 L306.5 408.9 L306.2 409.4 L306.0 409.8 L305.6 410.2 L305.2 410.6 L304.8 411.0 L304.4 411.2 L304.0 411.5 L303.5 411.8 L302.8 412.0 L302.2 412.2 L301.8 412.3Z M285.0 406.8 L284.2 406.9 L283.5 406.9 L283.0 406.8 L282.5 406.5 L282.2 406.0 L282.2 405.4 L282.7 405.0 L283.2 404.8 L283.8 404.7 L284.5 404.7 L285.0 404.8 L285.5 405.1 L285.8 405.5 L285.8 406.2 L285.5 406.5 L285.0 406.8Z" fill="none" stroke="#1a1a1a" stroke-width="0.5"/>
<path d="M301.8 411.5 L301.0 411.6 L300.2 411.6 L299.8 411.5 L299.1 411.2 L298.6 411.0 L298.2 410.8 L297.8 410.4 L297.4 410.0 L297.0 409.6 L296.8 409.2 L296.5 408.8 L296.2 408.2 L296.0 407.5 L295.9 407.0 L295.8 406.4 L295.7 405.8 L295.7 405.0 L295.7 404.2 L295.7 403.5 L295.8 403.0 L295.8 402.2 L295.8 401.5 L295.8 400.8 L295.7 400.2 L295.7 399.5 L295.6 398.8 L295.5 398.1 L295.4 397.5 L295.4 396.8 L295.3 396.0 L295.2 395.4 L295.2 394.8 L295.2 394.0 L295.1 393.2 L295.1 392.5 L295.1 391.8 L295.1 391.0 L295.2 390.2 L295.2 389.5 L295.2 388.8 L295.3 388.2 L295.3 387.5 L295.4 386.8 L295.4 386.0 L295.3 385.2 L295.3 384.5 L295.2 384.0 L295.1 383.2 L295.0 382.5 L295.0 381.8 L295.0 381.2 L295.0 380.8 L295.1 380.0 L295.2 379.2 L295.3 378.8 L295.5 378.2 L295.8 377.6 L296.0 377.1 L296.2 376.7 L296.6 376.2 L297.0 375.9 L297.5 375.5 L298.0 375.2 L298.5 375.1 L299.2 375.0 L300.0 375.2 L300.5 375.5 L300.9 375.8 L301.2 376.1 L301.6 376.5 L301.9 377.0 L302.2 377.5 L302.4 378.0 L302.6 378.5 L302.8 379.1 L302.9 379.8 L303.0 380.5 L303.1 381.0 L303.1 381.8 L303.1 382.5 L303.1 383.2 L303.1 384.0 L303.2 384.8 L303.2 385.5 L303.2 386.2 L303.3 386.8 L303.4 387.5 L303.4 388.2 L303.5 388.9 L303.5 389.5 L303.6 390.2 L303.6 391.0 L303.6 391.8 L303.6 392.5 L303.6 393.2 L303.6 394.0 L303.6 394.8 L303.5 395.5 L303.5 396.0 L303.4 396.8 L303.3 397.5 L303.3 398.2 L303.2 398.8 L303.3 399.2 L303.4 400.0 L303.6 400.5 L303.8 401.0 L304.1 401.5 L304.4 402.0 L304.8 402.5 L305.0 402.8 L305.3 403.2 L305.6 403.8 L305.9 404.2 L306.1 404.8 L306.2 405.4 L306.3 406.0 L306.3 406.8 L306.2 407.5 L306.1 408.0 L305.9 408.5 L305.6 409.0 L305.3 409.5 L305.0 409.8 L304.6 410.2 L304.2 410.5 L303.8 410.8 L303.2 411.1 L302.8 411.3 L302.0 411.5Z" fill="none" stroke="#1a1a1a" stroke-width="0.5"/>
<path d="M302.0 410.8 L301.2 410.9 L300.5 410.9 L299.8 410.8 L299.2 410.6 L298.8 410.3 L298.4 410.0 L298.0 409.7 L297.6 409.2 L297.3 408.8 L297.0 408.3 L296.8 407.8 L296.6 407.2 L296.5 406.7 L296.4 406.0 L296.4 405.2 L296.4 404.5 L296.5 404.0 L296.6 403.2 L296.8 402.7 L296.9 402.0 L297.1 401.5 L297.2 400.8 L297.3 400.2 L297.3 399.5 L297.2 399.0 L297.1 398.2 L297.0 397.5 L296.9 397.0 L296.8 396.2 L296.8 395.7 L296.7 395.0 L296.6 394.2 L296.6 393.5 L296.6 392.8 L296.6 392.0 L296.6 391.2 L296.6 390.5 L296.7 389.8 L296.7 389.0 L296.8 388.5 L296.8 387.8 L296.7 387.2 L296.6 386.5 L296.5 385.9 L296.3 385.2 L296.2 384.8 L296.0 384.1 L295.8 383.5 L295.7 383.0 L295.6 382.2 L295.6 381.5 L295.5 380.8 L295.6 380.0 L295.7 379.2 L295.9 378.8 L296.1 378.2 L296.3 377.8 L296.7 377.2 L297.0 376.9 L297.4 376.5 L297.8 376.2 L298.4 376.0 L299.0 375.9 L299.5 376.0 L300.1 376.2 L300.5 376.5 L301.0 376.9 L301.2 377.3 L301.6 377.8 L301.8 378.2 L302.0 378.8 L302.2 379.5 L302.3 380.0 L302.4 380.8 L302.4 381.5 L302.4 382.2 L302.4 383.0 L302.3 383.8 L302.2 384.2 L302.1 385.0 L302.0 385.8 L302.0 386.5 L302.1 387.2 L302.2 388.0 L302.2 388.8 L302.3 389.2 L302.4 390.0 L302.4 390.8 L302.5 391.5 L302.5 392.2 L302.5 393.0 L302.5 393.8 L302.4 394.5 L302.3 395.2 L302.3 396.0 L302.2 396.5 L302.1 397.2 L302.0 397.8 L301.9 398.5 L302.0 399.2 L302.1 399.8 L302.4 400.2 L302.7 400.8 L303.0 401.2 L303.2 401.5 L303.6 402.0 L303.9 402.5 L304.2 402.9 L304.5 403.3 L304.8 403.8 L305.1 404.2 L305.3 404.8 L305.5 405.3 L305.6 406.0 L305.6 406.8 L305.5 407.5 L305.4 408.0 L305.1 408.5 L304.8 409.0 L304.5 409.4 L304.1 409.8 L303.8 410.0 L303.2 410.3 L302.8 410.6 L302.2 410.8Z" fill="none" stroke="#1a1a1a" stroke-width="0.5"/>
</g>
<circle cx="292.9" cy="407.5" r="0.35" fill="#aaa"/>
<circle cx="283.6" cy="404.9" r="0.35" fill="#aaa"/>
<circle cx="289.7" cy="392.4" r="0.35" fill="#aaa"/>
<circle cx="309.1" cy="396.6" r="0.35" fill="#aaa"/>
<circle cx="291.6" cy="402.3" r="0.35" fill="#aaa"/>
<circle cx="302.1" cy="394.7" r="0.35" fill="#aaa"/>
<circle cx="297.3" cy="385.3" r="0.35" fill="#aaa"/>
<circle cx="288.7" cy="390.6" r="0.35" fill="#aaa"/>
<circle cx="280.0" cy="379.9" r="0.35" fill="#aaa"/>
<circle cx="277.4" cy="392.6" r="0.35" fill="#aaa"/>
<circle cx="290.4" cy="391.8" r="0.35" fill="#aaa"/>
<circle cx="292.6" cy="381.6" r="0.35" fill="#aaa"/>
<circle cx="291.3" cy="397.4" r="0.35" fill="#aaa"/>
<circle cx="298.8" cy="386.5" r="0.35" fill="#aaa"/>
<circle cx="288.4" cy="374.8" r="0.35" fill="#aaa"/>
<circle cx="287.5" cy="373.0" r="0.35" fill="#aaa"/>
<circle cx="279.2" cy="406.0" r="0.35" fill="#aaa"/>
<circle cx="295.0" cy="391.9" r="0.35" fill="#aaa"/>
<circle cx="296.1" cy="400.3" r="0.35" fill="#aaa"/>
<circle cx="301.4" cy="392.7" r="0.35" fill="#aaa"/>
<circle cx="286.7" cy="389.0" r="0.35" fill="#aaa"/>
<circle cx="283.1" cy="394.6" r="0.35" fill="#aaa"/>
<circle cx="284.9" cy="405.7" r="0.35" fill="#aaa"/>
<circle cx="275.2" cy="384.1" r="0.35" fill="#aaa"/>
<circle cx="283.4" cy="374.1" r="0.35" fill="#aaa"/>
<circle cx="309.1" cy="370.9" r="0.35" fill="#aaa"/>
<circle cx="289.5" cy="389.7" r="0.35" fill="#aaa"/>
<circle cx="306.9" cy="375.1" r="0.35" fill="#aaa"/>
<circle cx="301.6" cy="387.7" r="0.35" fill="#aaa"/>
<circle cx="290.6" cy="388.3" r="0.35" fill="#aaa"/>
<circle cx="297.8" cy="383.6" r="0.35" fill="#aaa"/>
<circle cx="291.3" cy="398.5" r="0.35" fill="#aaa"/>
<circle cx="308.6" cy="370.9" r="0.35" fill="#aaa"/>
<circle cx="305.7" cy="404.5" r="0.35" fill="#aaa"/>
<circle cx="287.6" cy="398.0" r="0.35" fill="#aaa"/>
<circle cx="287.8" cy="411.5" r="0.35" fill="#aaa"/>
<circle cx="293.9" cy="392.8" r="0.35" fill="#aaa"/>
<circle cx="289.9" cy="393.0" r="0.35" fill="#aaa"/>
<circle cx="290.4" cy="386.2" r="0.35" fill="#aaa"/>
<g clip-path="url(#k2)">
<path d="M390.5 412.3 L389.8 412.4 L389.0 412.4 L388.4 412.2 L387.8 412.0 L387.2 411.8 L386.8 411.5 L386.5 411.2 L386.0 410.9 L385.6 410.5 L385.2 410.1 L385.0 409.8 L384.6 409.2 L384.3 408.8 L384.1 408.2 L383.8 407.8 L383.7 407.2 L383.5 406.5 L383.4 406.0 L383.4 405.2 L383.4 404.5 L383.5 403.8 L383.5 403.2 L383.6 402.5 L383.7 401.8 L383.7 401.0 L383.7 400.2 L383.7 399.5 L383.6 398.8 L383.5 398.0 L383.5 397.5 L383.4 396.8 L383.3 396.0 L383.3 395.2 L383.2 394.6 L383.2 394.0 L383.2 393.2 L383.2 392.5 L383.2 391.8 L383.2 391.0 L383.2 390.2 L383.2 389.5 L383.2 388.8 L383.2 388.1 L383.3 387.5 L383.3 386.8 L383.4 386.0 L383.5 385.2 L383.5 384.8 L383.6 384.0 L383.7 383.2 L383.8 382.8 L383.9 382.0 L384.0 381.2 L384.1 380.8 L384.2 380.0 L384.3 379.5 L384.5 378.8 L384.6 378.2 L384.8 377.8 L385.0 377.0 L385.2 376.5 L385.3 376.0 L385.5 375.5 L385.8 375.0 L386.0 374.4 L386.2 373.9 L386.5 373.5 L386.8 373.0 L387.2 372.5 L387.5 372.2 L387.9 371.8 L388.3 371.5 L388.8 371.2 L389.4 371.0 L390.0 370.9 L390.6 371.0 L391.2 371.2 L391.8 371.5 L392.1 371.8 L392.5 372.1 L392.9 372.5 L393.2 372.9 L393.6 373.2 L393.9 373.8 L394.2 374.2 L394.5 374.8 L394.7 375.2 L394.9 375.8 L395.1 376.2 L395.3 376.8 L395.5 377.5 L395.6 378.0 L395.8 378.5 L395.9 379.2 L396.0 380.0 L396.1 380.5 L396.1 381.2 L396.2 382.0 L396.2 382.8 L396.2 383.5 L396.2 384.2 L396.2 385.0 L396.2 385.8 L396.2 386.5 L396.1 387.2 L396.1 388.0 L396.0 388.8 L396.0 389.5 L396.0 390.0 L396.0 390.8 L395.9 391.5 L395.9 392.2 L395.9 393.0 L395.8 393.8 L395.8 394.5 L395.7 395.0 L395.7 395.8 L395.6 396.5 L395.6 397.2 L395.5 397.8 L395.4 398.5 L395.4 399.2 L395.3 400.0 L395.3 400.8 L395.3 401.5 L395.4 402.2 L395.4 403.0 L395.5 403.6 L395.6 404.2 L395.6 405.0 L395.6 405.8 L395.5 406.4 L395.4 407.0 L395.2 407.5 L395.0 408.1 L394.8 408.6 L394.5 409.1 L394.2 409.5 L393.8 410.0 L393.5 410.4 L393.1 410.8 L392.8 411.1 L392.2 411.4 L391.8 411.8 L391.3 412.0 L390.8 412.2Z" fill="#c8c8c8" fill-rule="evenodd"/>
<path d="M390.2 411.0 L389.5 411.1 L388.8 411.0 L388.2 410.9 L387.8 410.7 L387.2 410.4 L386.8 410.1 L386.3 409.8 L386.0 409.4 L385.7 409.0 L385.3 408.5 L385.0 408.0 L384.8 407.5 L384.6 407.0 L384.5 406.5 L384.4 405.8 L384.3 405.0 L384.4 404.2 L384.4 403.5 L384.5 403.0 L384.6 402.2 L384.7 401.5 L384.7 400.8 L384.7 400.0 L384.7 399.2 L384.6 398.5 L384.5 397.8 L384.5 397.2 L384.4 396.5 L384.3 395.8 L384.3 395.0 L384.2 394.5 L384.2 393.8 L384.2 393.0 L384.1 392.2 L384.1 391.5 L384.1 390.8 L384.2 390.0 L384.2 389.2 L384.2 388.5 L384.2 387.8 L384.3 387.2 L384.3 386.5 L384.4 385.8 L384.5 385.0 L384.5 384.5 L384.6 383.8 L384.7 383.0 L384.8 382.5 L384.9 381.8 L385.0 381.1 L385.1 380.5 L385.2 379.9 L385.4 379.2 L385.5 378.8 L385.8 378.1 L386.0 377.5 L386.1 377.0 L386.4 376.5 L386.6 376.0 L386.9 375.5 L387.2 375.0 L387.5 374.5 L387.8 374.2 L388.2 373.8 L388.6 373.5 L389.0 373.2 L389.8 373.0 L390.2 373.0 L390.8 373.1 L391.3 373.2 L391.8 373.5 L392.2 373.9 L392.6 374.2 L393.0 374.7 L393.2 375.1 L393.5 375.5 L393.8 376.0 L394.0 376.5 L394.2 377.0 L394.5 377.7 L394.7 378.2 L394.8 378.8 L395.0 379.5 L395.0 380.0 L395.2 380.8 L395.2 381.5 L395.3 382.0 L395.3 382.8 L395.3 383.5 L395.4 384.2 L395.3 385.0 L395.3 385.8 L395.3 386.5 L395.2 387.1 L395.2 387.8 L395.2 388.5 L395.1 389.2 L395.1 390.0 L395.0 390.8 L395.0 391.2 L395.0 392.0 L394.9 392.8 L394.9 393.5 L394.8 394.2 L394.8 395.0 L394.7 395.5 L394.6 396.2 L394.6 397.0 L394.5 397.5 L394.4 398.2 L394.3 399.0 L394.3 399.8 L394.3 400.5 L394.3 401.2 L394.4 402.0 L394.5 402.8 L394.5 403.2 L394.6 404.0 L394.6 404.8 L394.6 405.5 L394.5 406.2 L394.4 406.8 L394.2 407.3 L394.0 407.9 L393.8 408.4 L393.5 408.8 L393.1 409.2 L392.8 409.7 L392.4 410.0 L392.0 410.3 L391.5 410.6 L391.0 410.8 L390.3 411.0Z" fill="#9a9a9a" fill-rule="evenodd"/>
<path d="M390.8 410.0 L390.0 410.2 L389.2 410.2 L388.5 410.1 L388.0 409.9 L387.5 409.7 L387.0 409.3 L386.6 409.0 L386.2 408.6 L386.0 408.2 L385.7 407.8 L385.4 407.2 L385.2 406.7 L385.1 406.0 L385.0 405.2 L385.0 404.5 L385.1 403.8 L385.2 403.0 L385.3 402.5 L385.5 401.8 L385.6 401.2 L385.7 400.5 L385.7 399.8 L385.7 399.0 L385.7 398.2 L385.6 397.5 L385.5 397.0 L385.4 396.2 L385.3 395.5 L385.3 394.8 L385.2 394.2 L385.2 393.5 L385.1 392.8 L385.1 392.0 L385.1 391.2 L385.1 390.5 L385.1 389.8 L385.1 389.0 L385.1 388.2 L385.2 387.5 L385.2 386.8 L385.2 386.0 L385.3 385.5 L385.3 384.8 L385.4 384.0 L385.4 383.2 L385.5 382.8 L385.6 382.0 L385.7 381.2 L385.8 380.8 L386.0 380.0 L386.1 379.5 L386.3 379.0 L386.5 378.3 L386.7 377.8 L386.9 377.2 L387.2 376.8 L387.5 376.2 L387.8 375.9 L388.1 375.5 L388.5 375.1 L389.0 374.8 L389.5 374.5 L390.0 374.4 L390.8 374.4 L391.2 374.6 L391.8 374.9 L392.1 375.2 L392.5 375.6 L392.8 376.0 L393.1 376.5 L393.4 377.0 L393.6 377.5 L393.8 378.0 L394.0 378.6 L394.2 379.2 L394.3 379.8 L394.5 380.5 L394.5 381.0 L394.6 381.8 L394.7 382.5 L394.7 383.2 L394.7 384.0 L394.7 384.8 L394.7 385.5 L394.6 386.2 L394.6 387.0 L394.5 387.6 L394.4 388.2 L394.4 389.0 L394.3 389.8 L394.2 390.2 L394.2 391.0 L394.1 391.8 L394.0 392.5 L394.0 393.0 L393.9 393.8 L393.8 394.5 L393.8 395.1 L393.7 395.8 L393.6 396.5 L393.5 397.1 L393.4 397.8 L393.3 398.5 L393.3 399.2 L393.3 400.0 L393.3 400.8 L393.5 401.5 L393.6 402.0 L393.7 402.8 L393.8 403.2 L393.9 404.0 L394.0 404.8 L394.0 405.5 L393.9 406.2 L393.7 406.8 L393.5 407.4 L393.2 407.9 L393.0 408.3 L392.6 408.8 L392.2 409.1 L391.8 409.5 L391.4 409.8 L390.8 410.0Z" fill="#747474" fill-rule="evenodd"/>
<path d="M390.5 409.3 L389.8 409.5 L389.0 409.4 L388.3 409.2 L387.8 409.0 L387.4 408.8 L387.0 408.4 L386.6 408.0 L386.3 407.5 L386.0 407.0 L385.9 406.5 L385.7 406.0 L385.7 405.2 L385.7 404.5 L385.8 404.0 L385.9 403.2 L386.1 402.8 L386.2 402.2 L386.5 401.6 L386.8 401.1 L387.0 400.6 L387.2 400.2 L387.5 399.7 L387.8 399.2 L388.1 398.8 L388.4 398.2 L388.7 397.8 L389.0 397.2 L389.0 396.8 L388.8 396.2 L388.5 395.8 L388.3 395.2 L388.0 394.8 L387.8 394.2 L387.7 393.8 L387.5 393.2 L387.3 392.5 L387.1 392.0 L387.0 391.5 L386.8 390.8 L386.7 390.2 L386.6 389.5 L386.5 389.0 L386.4 388.2 L386.3 387.5 L386.2 387.0 L386.2 386.2 L386.2 385.5 L386.2 384.8 L386.2 384.0 L386.2 383.2 L386.3 382.8 L386.4 382.0 L386.5 381.2 L386.6 380.8 L386.8 380.1 L386.9 379.5 L387.1 379.0 L387.3 378.5 L387.5 378.0 L387.8 377.5 L388.1 377.0 L388.5 376.5 L388.8 376.2 L389.2 375.9 L389.8 375.7 L390.5 375.7 L391.0 375.8 L391.5 376.1 L392.0 376.5 L392.2 376.8 L392.6 377.2 L392.9 377.8 L393.1 378.2 L393.3 378.8 L393.5 379.3 L393.7 380.0 L393.8 380.5 L393.9 381.2 L394.0 381.9 L394.1 382.5 L394.1 383.2 L394.1 384.0 L394.0 384.8 L394.0 385.4 L393.9 386.0 L393.8 386.8 L393.8 387.3 L393.6 388.0 L393.5 388.6 L393.4 389.2 L393.2 389.8 L393.0 390.5 L392.9 391.0 L392.7 391.5 L392.5 392.2 L392.3 392.8 L392.1 393.2 L391.9 393.8 L391.6 394.2 L391.4 394.8 L391.1 395.2 L390.8 395.8 L390.5 396.2 L390.2 396.6 L390.1 397.2 L390.3 397.8 L390.6 398.2 L390.9 398.8 L391.2 399.2 L391.5 399.7 L391.8 400.2 L392.0 400.6 L392.2 401.1 L392.5 401.6 L392.8 402.2 L392.9 402.8 L393.1 403.2 L393.2 404.0 L393.3 404.5 L393.3 405.2 L393.3 406.0 L393.1 406.5 L393.0 407.0 L392.7 407.5 L392.4 408.0 L392.0 408.4 L391.6 408.8 L391.2 409.0 L390.7 409.2Z" fill="#505050" fill-rule="evenodd"/>
<path d="M390.5 389.8 L390.0 389.7 L389.4 389.5 L389.0 389.2 L388.5 388.8 L388.2 388.4 L388.0 388.0 L387.8 387.5 L387.5 386.8 L387.4 386.2 L387.2 385.6 L387.2 385.0 L387.1 384.2 L387.1 383.5 L387.2 382.8 L387.2 382.0 L387.3 381.5 L387.5 380.8 L387.6 380.2 L387.8 379.8 L388.0 379.2 L388.2 378.7 L388.5 378.2 L388.9 377.8 L389.2 377.4 L389.8 377.1 L390.2 377.0 L390.8 377.0 L391.3 377.2 L391.8 377.6 L392.1 378.0 L392.4 378.5 L392.6 379.0 L392.8 379.5 L393.0 380.0 L393.2 380.8 L393.3 381.2 L393.4 382.0 L393.4 382.8 L393.4 383.5 L393.4 384.2 L393.3 385.0 L393.2 385.5 L393.1 386.2 L393.0 386.8 L392.8 387.5 L392.5 388.0 L392.3 388.5 L392.0 388.9 L391.7 389.2 L391.2 389.5 L390.5 389.8Z M390.5 408.6 L389.8 408.7 L389.0 408.7 L388.4 408.5 L387.9 408.2 L387.5 407.9 L387.1 407.5 L386.8 407.0 L386.5 406.5 L386.4 406.0 L386.3 405.2 L386.4 404.5 L386.5 403.9 L386.7 403.2 L387.0 402.8 L387.2 402.3 L387.5 402.0 L388.0 401.6 L388.5 401.3 L389.0 401.2 L389.8 401.1 L390.3 401.2 L390.8 401.5 L391.2 401.8 L391.7 402.2 L392.0 402.7 L392.2 403.2 L392.5 403.8 L392.6 404.2 L392.7 405.0 L392.6 405.8 L392.5 406.3 L392.2 407.0 L392.0 407.4 L391.7 407.8 L391.2 408.1 L390.8 408.5Z" fill="#2c2c2c" fill-rule="evenodd"/>
<path d="M391.2 387.3 L390.5 387.5 L389.9 387.2 L389.5 387.0 L389.1 386.5 L388.8 386.0 L388.6 385.5 L388.5 385.0 L388.3 384.2 L388.2 383.8 L388.2 383.0 L388.2 382.2 L388.3 381.8 L388.5 381.0 L388.6 380.5 L388.8 380.0 L389.0 379.5 L389.4 379.0 L389.8 378.7 L390.2 378.4 L390.9 378.5 L391.3 378.8 L391.8 379.2 L392.0 379.6 L392.2 380.1 L392.5 380.8 L392.6 381.2 L392.7 382.0 L392.7 382.8 L392.8 383.2 L392.7 383.8 L392.6 384.5 L392.5 385.1 L392.3 385.8 L392.1 386.2 L391.8 386.8 L391.5 387.1Z M389.5 408.0 L389.0 408.0 L388.4 407.8 L388.0 407.5 L387.6 407.0 L387.3 406.5 L387.1 406.0 L387.0 405.5 L387.0 405.0 L387.1 404.2 L387.3 403.8 L387.7 403.2 L388.0 402.9 L388.5 402.5 L389.0 402.4 L389.8 402.3 L390.4 402.5 L390.8 402.8 L391.2 403.1 L391.5 403.5 L391.8 404.0 L392.0 404.8 L392.0 405.2 L392.0 405.8 L391.8 406.5 L391.5 406.9 L391.2 407.2 L390.8 407.6 L390.2 407.9 L389.7 408.0Z" fill="#141414" fill-rule="evenodd"/>
<path d="M391.0 384.6 L390.4 384.5 L390.0 384.0 L389.8 383.5 L389.7 383.0 L389.7 382.2 L389.8 381.8 L390.0 381.2 L390.4 380.8 L390.9 380.8 L391.2 381.1 L391.5 381.6 L391.6 382.2 L391.7 383.0 L391.5 383.8 L391.3 384.2 L391.0 384.6Z M390.0 407.0 L389.2 407.1 L388.8 406.9 L388.2 406.5 L388.0 406.1 L387.8 405.5 L387.9 404.8 L388.1 404.2 L388.5 403.8 L389.0 403.5 L389.5 403.4 L390.0 403.5 L390.5 403.8 L390.9 404.2 L391.1 404.8 L391.2 405.5 L391.0 406.1 L390.8 406.5 L390.2 406.9Z" fill="#444" fill-rule="evenodd"/>
<path d="M389.8 406.0 L389.2 406.0 L388.8 405.5 L389.0 404.8 L389.5 404.6 L390.0 404.8 L390.2 405.5 L389.8 406.0Z" fill="#999" fill-rule="evenodd"/>
<path d="M390.5 412.3 L389.8 412.4 L389.0 412.4 L388.4 412.2 L387.8 412.0 L387.2 411.8 L386.8 411.5 L386.5 411.2 L386.0 410.9 L385.6 410.5 L385.2 410.1 L385.0 409.8 L384.6 409.2 L384.3 408.8 L384.1 408.2 L383.8 407.8 L383.7 407.2 L383.5 406.5 L383.4 406.0 L383.4 405.2 L383.4 404.5 L383.5 403.8 L383.5 403.2 L383.6 402.5 L383.7 401.8 L383.7 401.0 L383.7 400.2 L383.7 399.5 L383.6 398.8 L383.5 398.0 L383.5 397.5 L383.4 396.8 L383.3 396.0 L383.3 395.2 L383.2 394.6 L383.2 394.0 L383.2 393.2 L383.2 392.5 L383.2 391.8 L383.2 391.0 L383.2 390.2 L383.2 389.5 L383.2 388.8 L383.2 388.1 L383.3 387.5 L383.3 386.8 L383.4 386.0 L383.5 385.2 L383.5 384.8 L383.6 384.0 L383.7 383.2 L383.8 382.8 L383.9 382.0 L384.0 381.2 L384.1 380.8 L384.2 380.0 L384.3 379.5 L384.5 378.8 L384.6 378.2 L384.8 377.8 L385.0 377.0 L385.2 376.5 L385.3 376.0 L385.5 375.5 L385.8 375.0 L386.0 374.4 L386.2 373.9 L386.5 373.5 L386.8 373.0 L387.2 372.5 L387.5 372.2 L387.9 371.8 L388.3 371.5 L388.8 371.2 L389.4 371.0 L390.0 370.9 L390.6 371.0 L391.2 371.2 L391.8 371.5 L392.1 371.8 L392.5 372.1 L392.9 372.5 L393.2 372.9 L393.6 373.2 L393.9 373.8 L394.2 374.2 L394.5 374.8 L394.7 375.2 L394.9 375.8 L395.1 376.2 L395.3 376.8 L395.5 377.5 L395.6 378.0 L395.8 378.5 L395.9 379.2 L396.0 380.0 L396.1 380.5 L396.1 381.2 L396.2 382.0 L396.2 382.8 L396.2 383.5 L396.2 384.2 L396.2 385.0 L396.2 385.8 L396.2 386.5 L396.1 387.2 L396.1 388.0 L396.0 388.8 L396.0 389.5 L396.0 390.0 L396.0 390.8 L395.9 391.5 L395.9 392.2 L395.9 393.0 L395.8 393.8 L395.8 394.5 L395.7 395.0 L395.7 395.8 L395.6 396.5 L395.6 397.2 L395.5 397.8 L395.4 398.5 L395.4 399.2 L395.3 400.0 L395.3 400.8 L395.3 401.5 L395.4 402.2 L395.4 403.0 L395.5 403.6 L395.6 404.2 L395.6 405.0 L395.6 405.8 L395.5 406.4 L395.4 407.0 L395.2 407.5 L395.0 408.1 L394.8 408.6 L394.5 409.1 L394.2 409.5 L393.8 410.0 L393.5 410.4 L393.1 410.8 L392.8 411.1 L392.2 411.4 L391.8 411.8 L391.3 412.0 L390.8 412.2Z" fill="none" stroke="#1a1a1a" stroke-width="0.5"/>
<path d="M390.2 411.0 L389.5 411.1 L388.8 411.0 L388.2 410.9 L387.8 410.7 L387.2 410.4 L386.8 410.1 L386.3 409.8 L386.0 409.4 L385.7 409.0 L385.3 408.5 L385.0 408.0 L384.8 407.5 L384.6 407.0 L384.5 406.5 L384.4 405.8 L384.3 405.0 L384.4 404.2 L384.4 403.5 L384.5 403.0 L384.6 402.2 L384.7 401.5 L384.7 400.8 L384.7 400.0 L384.7 399.2 L384.6 398.5 L384.5 397.8 L384.5 397.2 L384.4 396.5 L384.3 395.8 L384.3 395.0 L384.2 394.5 L384.2 393.8 L384.2 393.0 L384.1 392.2 L384.1 391.5 L384.1 390.8 L384.2 390.0 L384.2 389.2 L384.2 388.5 L384.2 387.8 L384.3 387.2 L384.3 386.5 L384.4 385.8 L384.5 385.0 L384.5 384.5 L384.6 383.8 L384.7 383.0 L384.8 382.5 L384.9 381.8 L385.0 381.1 L385.1 380.5 L385.2 379.9 L385.4 379.2 L385.5 378.8 L385.8 378.1 L386.0 377.5 L386.1 377.0 L386.4 376.5 L386.6 376.0 L386.9 375.5 L387.2 375.0 L387.5 374.5 L387.8 374.2 L388.2 373.8 L388.6 373.5 L389.0 373.2 L389.8 373.0 L390.2 373.0 L390.8 373.1 L391.3 373.2 L391.8 373.5 L392.2 373.9 L392.6 374.2 L393.0 374.7 L393.2 375.1 L393.5 375.5 L393.8 376.0 L394.0 376.5 L394.2 377.0 L394.5 377.7 L394.7 378.2 L394.8 378.8 L395.0 379.5 L395.0 380.0 L395.2 380.8 L395.2 381.5 L395.3 382.0 L395.3 382.8 L395.3 383.5 L395.4 384.2 L395.3 385.0 L395.3 385.8 L395.3 386.5 L395.2 387.1 L395.2 387.8 L395.2 388.5 L395.1 389.2 L395.1 390.0 L395.0 390.8 L395.0 391.2 L395.0 392.0 L394.9 392.8 L394.9 393.5 L394.8 394.2 L394.8 395.0 L394.7 395.5 L394.6 396.2 L394.6 397.0 L394.5 397.5 L394.4 398.2 L394.3 399.0 L394.3 399.8 L394.3 400.5 L394.3 401.2 L394.4 402.0 L394.5 402.8 L394.5 403.2 L394.6 404.0 L394.6 404.8 L394.6 405.5 L394.5 406.2 L394.4 406.8 L394.2 407.3 L394.0 407.9 L393.8 408.4 L393.5 408.8 L393.1 409.2 L392.8 409.7 L392.4 410.0 L392.0 410.3 L391.5 410.6 L391.0 410.8 L390.3 411.0Z" fill="none" stroke="#1a1a1a" stroke-width="0.5"/>
<path d="M390.8 410.0 L390.0 410.2 L389.2 410.2 L388.5 410.1 L388.0 409.9 L387.5 409.7 L387.0 409.3 L386.6 409.0 L386.2 408.6 L386.0 408.2 L385.7 407.8 L385.4 407.2 L385.2 406.7 L385.1 406.0 L385.0 405.2 L385.0 404.5 L385.1 403.8 L385.2 403.0 L385.3 402.5 L385.5 401.8 L385.6 401.2 L385.7 400.5 L385.7 399.8 L385.7 399.0 L385.7 398.2 L385.6 397.5 L385.5 397.0 L385.4 396.2 L385.3 395.5 L385.3 394.8 L385.2 394.2 L385.2 393.5 L385.1 392.8 L385.1 392.0 L385.1 391.2 L385.1 390.5 L385.1 389.8 L385.1 389.0 L385.1 388.2 L385.2 387.5 L385.2 386.8 L385.2 386.0 L385.3 385.5 L385.3 384.8 L385.4 384.0 L385.4 383.2 L385.5 382.8 L385.6 382.0 L385.7 381.2 L385.8 380.8 L386.0 380.0 L386.1 379.5 L386.3 379.0 L386.5 378.3 L386.7 377.8 L386.9 377.2 L387.2 376.8 L387.5 376.2 L387.8 375.9 L388.1 375.5 L388.5 375.1 L389.0 374.8 L389.5 374.5 L390.0 374.4 L390.8 374.4 L391.2 374.6 L391.8 374.9 L392.1 375.2 L392.5 375.6 L392.8 376.0 L393.1 376.5 L393.4 377.0 L393.6 377.5 L393.8 378.0 L394.0 378.6 L394.2 379.2 L394.3 379.8 L394.5 380.5 L394.5 381.0 L394.6 381.8 L394.7 382.5 L394.7 383.2 L394.7 384.0 L394.7 384.8 L394.7 385.5 L394.6 386.2 L394.6 387.0 L394.5 387.6 L394.4 388.2 L394.4 389.0 L394.3 389.8 L394.2 390.2 L394.2 391.0 L394.1 391.8 L394.0 392.5 L394.0 393.0 L393.9 393.8 L393.8 394.5 L393.8 395.1 L393.7 395.8 L393.6 396.5 L393.5 397.1 L393.4 397.8 L393.3 398.5 L393.3 399.2 L393.3 400.0 L393.3 400.8 L393.5 401.5 L393.6 402.0 L393.7 402.8 L393.8 403.2 L393.9 404.0 L394.0 404.8 L394.0 405.5 L393.9 406.2 L393.7 406.8 L393.5 407.4 L393.2 407.9 L393.0 408.3 L392.6 408.8 L392.2 409.1 L391.8 409.5 L391.4 409.8 L390.8 410.0Z" fill="none" stroke="#1a1a1a" stroke-width="0.5"/>
<path d="M390.5 409.3 L389.8 409.5 L389.0 409.4 L388.3 409.2 L387.8 409.0 L387.4 408.8 L387.0 408.4 L386.6 408.0 L386.3 407.5 L386.0 407.0 L385.9 406.5 L385.7 406.0 L385.7 405.2 L385.7 404.5 L385.8 404.0 L385.9 403.2 L386.1 402.8 L386.2 402.2 L386.5 401.6 L386.8 401.1 L387.0 400.6 L387.2 400.2 L387.5 399.7 L387.8 399.2 L388.1 398.8 L388.4 398.2 L388.7 397.8 L389.0 397.2 L389.0 396.8 L388.8 396.2 L388.5 395.8 L388.3 395.2 L388.0 394.8 L387.8 394.2 L387.7 393.8 L387.5 393.2 L387.3 392.5 L387.1 392.0 L387.0 391.5 L386.8 390.8 L386.7 390.2 L386.6 389.5 L386.5 389.0 L386.4 388.2 L386.3 387.5 L386.2 387.0 L386.2 386.2 L386.2 385.5 L386.2 384.8 L386.2 384.0 L386.2 383.2 L386.3 382.8 L386.4 382.0 L386.5 381.2 L386.6 380.8 L386.8 380.1 L386.9 379.5 L387.1 379.0 L387.3 378.5 L387.5 378.0 L387.8 377.5 L388.1 377.0 L388.5 376.5 L388.8 376.2 L389.2 375.9 L389.8 375.7 L390.5 375.7 L391.0 375.8 L391.5 376.1 L392.0 376.5 L392.2 376.8 L392.6 377.2 L392.9 377.8 L393.1 378.2 L393.3 378.8 L393.5 379.3 L393.7 380.0 L393.8 380.5 L393.9 381.2 L394.0 381.9 L394.1 382.5 L394.1 383.2 L394.1 384.0 L394.0 384.8 L394.0 385.4 L393.9 386.0 L393.8 386.8 L393.8 387.3 L393.6 388.0 L393.5 388.6 L393.4 389.2 L393.2 389.8 L393.0 390.5 L392.9 391.0 L392.7 391.5 L392.5 392.2 L392.3 392.8 L392.1 393.2 L391.9 393.8 L391.6 394.2 L391.4 394.8 L391.1 395.2 L390.8 395.8 L390.5 396.2 L390.2 396.6 L390.1 397.2 L390.3 397.8 L390.6 398.2 L390.9 398.8 L391.2 399.2 L391.5 399.7 L391.8 400.2 L392.0 400.6 L392.2 401.1 L392.5 401.6 L392.8 402.2 L392.9 402.8 L393.1 403.2 L393.2 404.0 L393.3 404.5 L393.3 405.2 L393.3 406.0 L393.1 406.5 L393.0 407.0 L392.7 407.5 L392.4 408.0 L392.0 408.4 L391.6 408.8 L391.2 409.0 L390.7 409.2Z" fill="none" stroke="#1a1a1a" stroke-width="0.5"/>
<path d="M366.5 407 C368 402 374 399 378.5 398 C380 399.5 379 403 376 405 C373 407 369 408.5 366.5 407Z M377 380 C376 384 377 389 378.8 392" fill="none" stroke="#555" stroke-width="0.5"/>
</g>
<circle cx="405.6" cy="372.9" r="0.35" fill="#aaa"/>
<circle cx="383.5" cy="395.7" r="0.35" fill="#aaa"/>
<circle cx="383.0" cy="390.5" r="0.35" fill="#aaa"/>
<circle cx="388.3" cy="401.7" r="0.35" fill="#aaa"/>
<circle cx="380.5" cy="388.3" r="0.35" fill="#aaa"/>
<circle cx="404.4" cy="397.3" r="0.35" fill="#aaa"/>
<circle cx="392.8" cy="386.1" r="0.35" fill="#aaa"/>
<circle cx="373.3" cy="395.0" r="0.35" fill="#aaa"/>
<circle cx="376.7" cy="381.4" r="0.35" fill="#aaa"/>
<circle cx="372.0" cy="386.9" r="0.35" fill="#aaa"/>
<circle cx="396.1" cy="387.7" r="0.35" fill="#aaa"/>
<circle cx="370.5" cy="398.7" r="0.35" fill="#aaa"/>
<circle cx="385.7" cy="400.4" r="0.35" fill="#aaa"/>
<circle cx="397.0" cy="390.3" r="0.35" fill="#aaa"/>
<circle cx="383.6" cy="391.5" r="0.35" fill="#aaa"/>
<circle cx="373.7" cy="398.7" r="0.35" fill="#aaa"/>
<circle cx="398.7" cy="393.7" r="0.35" fill="#aaa"/>
<circle cx="382.6" cy="389.4" r="0.35" fill="#aaa"/>
<circle cx="377.2" cy="384.0" r="0.35" fill="#aaa"/>
<circle cx="381.0" cy="383.6" r="0.35" fill="#aaa"/>
<circle cx="380.6" cy="376.2" r="0.35" fill="#aaa"/>
<circle cx="388.5" cy="392.5" r="0.35" fill="#aaa"/>
<circle cx="373.5" cy="369.0" r="0.35" fill="#aaa"/>
<circle cx="384.9" cy="403.0" r="0.35" fill="#aaa"/>
<circle cx="377.7" cy="387.2" r="0.35" fill="#aaa"/>
<circle cx="379.3" cy="398.5" r="0.35" fill="#aaa"/>
<circle cx="375.8" cy="401.9" r="0.35" fill="#aaa"/>
<circle cx="382.0" cy="401.2" r="0.35" fill="#aaa"/>
<circle cx="385.3" cy="389.7" r="0.35" fill="#aaa"/>
<circle cx="370.2" cy="385.1" r="0.35" fill="#aaa"/>
<circle cx="382.4" cy="398.6" r="0.35" fill="#aaa"/>
<circle cx="387.4" cy="385.0" r="0.35" fill="#aaa"/>
<circle cx="389.1" cy="401.9" r="0.35" fill="#aaa"/>
<circle cx="383.5" cy="387.6" r="0.35" fill="#aaa"/>
<circle cx="381.1" cy="400.1" r="0.35" fill="#aaa"/>
<circle cx="390.4" cy="382.7" r="0.35" fill="#aaa"/>
<circle cx="388.7" cy="387.2" r="0.35" fill="#aaa"/>
<circle cx="377.5" cy="404.4" r="0.35" fill="#aaa"/>
<circle cx="487.2" cy="382.5" r="0.4" fill="#bdbdbd"/>
<circle cx="479.8" cy="393.5" r="0.4" fill="#bdbdbd"/>
<circle cx="472.6" cy="387.9" r="0.4" fill="#bdbdbd"/>
<circle cx="485.7" cy="372.9" r="0.4" fill="#bdbdbd"/>
<circle cx="482.3" cy="395.6" r="0.4" fill="#bdbdbd"/>
<circle cx="484.0" cy="376.9" r="0.4" fill="#bdbdbd"/>
<circle cx="482.2" cy="381.2" r="0.4" fill="#bdbdbd"/>
<circle cx="484.7" cy="394.4" r="0.4" fill="#bdbdbd"/>
<circle cx="481.2" cy="382.1" r="0.4" fill="#bdbdbd"/>
<circle cx="473.1" cy="396.7" r="0.4" fill="#bdbdbd"/>
<circle cx="470.0" cy="393.5" r="0.4" fill="#bdbdbd"/>
<circle cx="484.1" cy="386.5" r="0.4" fill="#bdbdbd"/>
<circle cx="502.9" cy="389.6" r="0.4" fill="#bdbdbd"/>
<circle cx="500.5" cy="370.9" r="0.4" fill="#bdbdbd"/>
<circle cx="456.6" cy="397.8" r="0.4" fill="#bdbdbd"/>
<circle cx="485.4" cy="386.2" r="0.4" fill="#bdbdbd"/>
<circle cx="478.5" cy="371.9" r="0.4" fill="#bdbdbd"/>
<circle cx="472.7" cy="379.7" r="0.4" fill="#bdbdbd"/>
<circle cx="476.8" cy="397.0" r="0.4" fill="#bdbdbd"/>
<circle cx="479.5" cy="392.3" r="0.4" fill="#bdbdbd"/>
<circle cx="472.0" cy="385.1" r="0.4" fill="#bdbdbd"/>
<circle cx="480.1" cy="386.5" r="0.4" fill="#bdbdbd"/>
<circle cx="491.6" cy="381.1" r="0.4" fill="#bdbdbd"/>
<circle cx="497.9" cy="380.2" r="0.4" fill="#bdbdbd"/>
<circle cx="489.6" cy="382.0" r="0.4" fill="#bdbdbd"/>
<circle cx="495.5" cy="390.2" r="0.4" fill="#bdbdbd"/>
<circle cx="483.0" cy="395.7" r="0.4" fill="#bdbdbd"/>
<circle cx="472.7" cy="379.6" r="0.4" fill="#bdbdbd"/>
<circle cx="458.7" cy="400.0" r="0.4" fill="#bdbdbd"/>
<circle cx="472.0" cy="383.7" r="0.4" fill="#bdbdbd"/>
<circle cx="478.7" cy="406.9" r="0.4" fill="#bdbdbd"/>
<circle cx="461.7" cy="391.2" r="0.4" fill="#bdbdbd"/>
<circle cx="475.0" cy="393.8" r="0.4" fill="#bdbdbd"/>
<circle cx="461.0" cy="385.4" r="0.4" fill="#bdbdbd"/>
<circle cx="487.4" cy="403.0" r="0.4" fill="#bdbdbd"/>
<circle cx="495.0" cy="381.3" r="0.4" fill="#bdbdbd"/>
<circle cx="479.5" cy="388.0" r="0.4" fill="#bdbdbd"/>
<circle cx="465.2" cy="376.0" r="0.4" fill="#bdbdbd"/>
<circle cx="486.6" cy="391.2" r="0.4" fill="#bdbdbd"/>
<circle cx="477.6" cy="399.9" r="0.4" fill="#bdbdbd"/>
<circle cx="469.0" cy="393.7" r="0.4" fill="#bdbdbd"/>
<circle cx="479.1" cy="388.5" r="0.4" fill="#bdbdbd"/>
<circle cx="483.9" cy="390.6" r="0.4" fill="#bdbdbd"/>
<circle cx="481.7" cy="391.4" r="0.4" fill="#bdbdbd"/>
<circle cx="498.4" cy="386.2" r="0.4" fill="#bdbdbd"/>
<circle cx="489.1" cy="394.5" r="0.4" fill="#bdbdbd"/>
<circle cx="475.5" cy="396.2" r="0.4" fill="#bdbdbd"/>
<circle cx="470.4" cy="399.4" r="0.4" fill="#bdbdbd"/>
<circle cx="470.9" cy="384.6" r="0.4" fill="#bdbdbd"/>
<circle cx="482.2" cy="396.5" r="0.4" fill="#bdbdbd"/>
<circle cx="488.1" cy="397.0" r="0.4" fill="#bdbdbd"/>
<circle cx="476.9" cy="380.4" r="0.4" fill="#bdbdbd"/>
<circle cx="484.5" cy="391.7" r="0.4" fill="#bdbdbd"/>
<circle cx="469.5" cy="397.8" r="0.4" fill="#bdbdbd"/>
<circle cx="481.0" cy="380.4" r="0.4" fill="#bdbdbd"/>
<circle cx="483.4" cy="377.1" r="0.4" fill="#bdbdbd"/>
<circle cx="470.2" cy="392.6" r="0.4" fill="#bdbdbd"/>
<circle cx="463.4" cy="389.3" r="0.4" fill="#bdbdbd"/>
<circle cx="465.5" cy="395.6" r="0.4" fill="#bdbdbd"/>
<circle cx="471.7" cy="390.6" r="0.4" fill="#bdbdbd"/>
<circle cx="464.0" cy="385.9" r="0.4" fill="#bdbdbd"/>
<circle cx="488.5" cy="393.1" r="0.4" fill="#bdbdbd"/>
<circle cx="460.6" cy="397.3" r="0.4" fill="#bdbdbd"/>
<circle cx="487.9" cy="385.6" r="0.4" fill="#bdbdbd"/>
<circle cx="493.2" cy="379.5" r="0.4" fill="#bdbdbd"/>
<circle cx="478.1" cy="399.0" r="0.4" fill="#bdbdbd"/>
<circle cx="492.1" cy="400.5" r="0.4" fill="#bdbdbd"/>
<circle cx="468.1" cy="373.0" r="0.4" fill="#bdbdbd"/>
<circle cx="482.9" cy="376.1" r="0.4" fill="#bdbdbd"/>
<circle cx="477.7" cy="377.5" r="0.4" fill="#bdbdbd"/>
<circle cx="489.6" cy="396.2" r="0.4" fill="#bdbdbd"/>
<circle cx="484.6" cy="389.2" r="0.4" fill="#bdbdbd"/>
<circle cx="479.5" cy="386.3" r="0.4" fill="#bdbdbd"/>
<circle cx="482.8" cy="391.2" r="0.4" fill="#bdbdbd"/>
<circle cx="483.6" cy="385.1" r="0.4" fill="#bdbdbd"/>
<circle cx="498.0" cy="391.5" r="0.4" fill="#bdbdbd"/>
<circle cx="492.9" cy="401.0" r="0.4" fill="#bdbdbd"/>
<circle cx="470.2" cy="373.8" r="0.4" fill="#bdbdbd"/>
<circle cx="491.6" cy="385.5" r="0.4" fill="#bdbdbd"/>
<circle cx="479.8" cy="386.7" r="0.4" fill="#bdbdbd"/>
<circle cx="480.3" cy="378.3" r="0.4" fill="#bdbdbd"/>
<circle cx="478.0" cy="384.8" r="0.4" fill="#bdbdbd"/>
<circle cx="478.8" cy="368.0" r="0.4" fill="#bdbdbd"/>
<circle cx="487.2" cy="392.0" r="0.4" fill="#bdbdbd"/>
<circle cx="461.7" cy="382.4" r="0.4" fill="#bdbdbd"/>
<circle cx="479.3" cy="394.7" r="0.4" fill="#bdbdbd"/>
<circle cx="479.0" cy="401.5" r="0.4" fill="#bdbdbd"/>
<circle cx="479.2" cy="380.0" r="0.4" fill="#bdbdbd"/>
<circle cx="472.2" cy="395.7" r="0.4" fill="#bdbdbd"/>
<circle cx="472.9" cy="396.6" r="0.4" fill="#bdbdbd"/>
<circle cx="489.2" cy="394.3" r="0.4" fill="#bdbdbd"/>
<circle cx="489.2" cy="387.4" r="0.4" fill="#bdbdbd"/>
<circle cx="478.9" cy="383.7" r="0.4" fill="#bdbdbd"/>
<circle cx="472.9" cy="374.9" r="0.4" fill="#bdbdbd"/>
<circle cx="473.4" cy="379.4" r="0.4" fill="#bdbdbd"/>
<circle cx="464.7" cy="390.3" r="0.4" fill="#bdbdbd"/>
<circle cx="483.5" cy="385.9" r="0.4" fill="#bdbdbd"/>
<circle cx="492.7" cy="397.5" r="0.4" fill="#bdbdbd"/>
<circle cx="489.4" cy="383.6" r="0.4" fill="#bdbdbd"/>
<circle cx="464.1" cy="394.0" r="0.4" fill="#bdbdbd"/>
<circle cx="482.1" cy="395.5" r="0.4" fill="#bdbdbd"/>
<circle cx="483.2" cy="400.3" r="0.4" fill="#bdbdbd"/>
<circle cx="476.1" cy="395.0" r="0.4" fill="#bdbdbd"/>
<circle cx="470.0" cy="368.2" r="0.4" fill="#bdbdbd"/>
<circle cx="474.6" cy="402.5" r="0.4" fill="#bdbdbd"/>
<circle cx="462.2" cy="398.2" r="0.4" fill="#bdbdbd"/>
<circle cx="472.2" cy="385.4" r="0.4" fill="#bdbdbd"/>
<circle cx="479.4" cy="390.9" r="0.4" fill="#bdbdbd"/>
<circle cx="469.3" cy="390.1" r="0.4" fill="#bdbdbd"/>
<circle cx="483.4" cy="396.5" r="0.4" fill="#bdbdbd"/>
<circle cx="471.5" cy="403.0" r="0.4" fill="#bdbdbd"/>
<circle cx="498.1" cy="410.7" r="0.4" fill="#bdbdbd"/>
<circle cx="465.6" cy="390.6" r="0.4" fill="#bdbdbd"/>
<circle cx="460.4" cy="392.4" r="0.4" fill="#bdbdbd"/>
<circle cx="484.6" cy="378.7" r="0.4" fill="#bdbdbd"/>
<circle cx="463.1" cy="390.7" r="0.4" fill="#bdbdbd"/>
<circle cx="485.3" cy="381.9" r="0.4" fill="#bdbdbd"/>
<circle cx="476.4" cy="366.3" r="0.4" fill="#bdbdbd"/>
<circle cx="471.9" cy="390.3" r="0.4" fill="#bdbdbd"/>
<circle cx="480.5" cy="403.2" r="0.4" fill="#bdbdbd"/>
<circle cx="467.6" cy="368.7" r="0.4" fill="#bdbdbd"/>
<circle cx="483.5" cy="383.7" r="0.4" fill="#bdbdbd"/>
<circle cx="481.9" cy="395.5" r="0.4" fill="#bdbdbd"/>
<circle cx="485.0" cy="402.0" r="0.4" fill="#bdbdbd"/>
<circle cx="492.5" cy="374.0" r="0.4" fill="#bdbdbd"/>
<circle cx="478.4" cy="407.0" r="0.4" fill="#bdbdbd"/>
<circle cx="474.9" cy="397.7" r="0.4" fill="#bdbdbd"/>
<circle cx="478.4" cy="385.2" r="0.4" fill="#bdbdbd"/>
<circle cx="494.8" cy="398.4" r="0.4" fill="#bdbdbd"/>
<circle cx="476.6" cy="397.2" r="0.4" fill="#bdbdbd"/>
<circle cx="465.9" cy="382.5" r="0.4" fill="#bdbdbd"/>
<circle cx="488.0" cy="389.4" r="0.4" fill="#bdbdbd"/>
<circle cx="468.4" cy="393.0" r="0.4" fill="#bdbdbd"/>
<circle cx="482.3" cy="400.6" r="0.4" fill="#bdbdbd"/>
<circle cx="488.6" cy="386.5" r="0.4" fill="#bdbdbd"/>
<circle cx="474.2" cy="387.8" r="0.4" fill="#bdbdbd"/>
<circle cx="476.7" cy="402.2" r="0.4" fill="#bdbdbd"/>
<circle cx="494.9" cy="401.2" r="0.4" fill="#bdbdbd"/>
<circle cx="482.8" cy="386.8" r="0.4" fill="#bdbdbd"/>
<circle cx="488.0" cy="385.9" r="0.4" fill="#bdbdbd"/>
<circle cx="481.4" cy="374.0" r="0.4" fill="#bdbdbd"/>
<circle cx="474.8" cy="402.0" r="0.4" fill="#bdbdbd"/>
<circle cx="468.7" cy="375.6" r="0.4" fill="#bdbdbd"/>
<circle cx="477.4" cy="404.0" r="0.4" fill="#bdbdbd"/>
<circle cx="493.5" cy="385.8" r="0.4" fill="#bdbdbd"/>
<circle cx="474.2" cy="388.0" r="0.4" fill="#bdbdbd"/>
<circle cx="469.7" cy="389.3" r="0.4" fill="#bdbdbd"/>
<circle cx="476.0" cy="375.7" r="0.4" fill="#bdbdbd"/>
<circle cx="473.2" cy="386.7" r="0.4" fill="#bdbdbd"/>
<circle cx="470.4" cy="378.9" r="0.4" fill="#bdbdbd"/>
<circle cx="488.1" cy="406.1" r="0.4" fill="#bdbdbd"/>
<circle cx="476.1" cy="385.2" r="0.4" fill="#bdbdbd"/>
<circle cx="484.0" cy="386.9" r="0.4" fill="#bdbdbd"/>
<circle cx="471.2" cy="401.5" r="0.4" fill="#bdbdbd"/>
<circle cx="468.6" cy="382.4" r="0.4" fill="#bdbdbd"/>
<circle cx="472.4" cy="381.0" r="0.4" fill="#bdbdbd"/>
<circle cx="476.6" cy="394.2" r="0.4" fill="#bdbdbd"/>
<circle cx="493.4" cy="395.0" r="0.4" fill="#bdbdbd"/>
<circle cx="479.4" cy="377.7" r="0.4" fill="#bdbdbd"/>
<circle cx="478.4" cy="380.5" r="0.4" fill="#bdbdbd"/>
<circle cx="478.0" cy="397.8" r="0.4" fill="#bdbdbd"/>
<circle cx="481.0" cy="387.1" r="0.4" fill="#bdbdbd"/>
<circle cx="471.5" cy="388.8" r="0.4" fill="#bdbdbd"/>
<circle cx="480.1" cy="380.6" r="0.4" fill="#bdbdbd"/>
<circle cx="473.9" cy="396.9" r="0.4" fill="#bdbdbd"/>
<circle cx="462.4" cy="385.0" r="0.4" fill="#bdbdbd"/>
<circle cx="467.3" cy="402.9" r="0.4" fill="#bdbdbd"/>
<circle cx="485.1" cy="393.6" r="0.4" fill="#bdbdbd"/>
<circle cx="483.0" cy="391.6" r="0.4" fill="#bdbdbd"/>
<circle cx="481.9" cy="374.7" r="0.4" fill="#bdbdbd"/>
<circle cx="481.6" cy="394.3" r="0.4" fill="#bdbdbd"/>
<circle cx="464.7" cy="396.4" r="0.4" fill="#bdbdbd"/>
<circle cx="485.7" cy="375.3" r="0.4" fill="#bdbdbd"/>
<circle cx="474.3" cy="386.2" r="0.4" fill="#bdbdbd"/>
<circle cx="473.7" cy="392.5" r="0.4" fill="#bdbdbd"/>
<circle cx="466.2" cy="387.0" r="0.4" fill="#bdbdbd"/>
<circle cx="481.3" cy="395.5" r="0.4" fill="#bdbdbd"/>
<circle cx="479.5" cy="386.8" r="0.4" fill="#bdbdbd"/>
<circle cx="485.9" cy="371.1" r="0.4" fill="#bdbdbd"/>
<circle cx="488.3" cy="386.2" r="0.4" fill="#bdbdbd"/>
<circle cx="466.5" cy="385.1" r="0.4" fill="#bdbdbd"/>
<circle cx="460.7" cy="370.6" r="0.4" fill="#bdbdbd"/>
<circle cx="475.7" cy="382.0" r="0.4" fill="#bdbdbd"/>
<circle cx="486.3" cy="381.0" r="0.4" fill="#bdbdbd"/>
<circle cx="466.0" cy="380.4" r="0.4" fill="#bdbdbd"/>
<circle cx="496.2" cy="389.2" r="0.4" fill="#bdbdbd"/>
<circle cx="472.9" cy="380.1" r="0.4" fill="#bdbdbd"/>
<circle cx="468.0" cy="387.5" r="0.4" fill="#bdbdbd"/>
<circle cx="483.3" cy="399.4" r="0.4" fill="#bdbdbd"/>
<circle cx="490.5" cy="391.4" r="0.4" fill="#bdbdbd"/>
<circle cx="472.4" cy="381.3" r="0.4" fill="#bdbdbd"/>
<circle cx="455.9" cy="379.8" r="0.4" fill="#bdbdbd"/>
<circle cx="483.2" cy="386.0" r="0.4" fill="#bdbdbd"/>
<circle cx="482.7" cy="376.9" r="0.4" fill="#bdbdbd"/>
<circle cx="488.0" cy="391.7" r="0.4" fill="#bdbdbd"/>
<circle cx="479.4" cy="392.6" r="0.4" fill="#bdbdbd"/>
<circle cx="456.6" cy="384.0" r="0.4" fill="#bdbdbd"/>
<circle cx="470.0" cy="405.3" r="0.4" fill="#bdbdbd"/>
<circle cx="477.2" cy="384.5" r="0.4" fill="#bdbdbd"/>
<circle cx="487.5" cy="379.5" r="0.4" fill="#bdbdbd"/>
<circle cx="482.0" cy="399.5" r="0.4" fill="#999"/>
<circle cx="476.8" cy="398.4" r="0.4" fill="#999"/>
<circle cx="479.8" cy="392.1" r="0.4" fill="#999"/>
<circle cx="479.4" cy="398.9" r="0.4" fill="#999"/>
<circle cx="477.2" cy="397.2" r="0.4" fill="#999"/>
<circle cx="477.8" cy="403.9" r="0.4" fill="#999"/>
<circle cx="479.1" cy="404.6" r="0.4" fill="#999"/>
<circle cx="479.2" cy="408.0" r="0.4" fill="#999"/>
<circle cx="475.6" cy="397.1" r="0.4" fill="#999"/>
<circle cx="472.5" cy="406.4" r="0.4" fill="#999"/>
<circle cx="475.7" cy="408.3" r="0.4" fill="#999"/>
<circle cx="477.2" cy="397.9" r="0.4" fill="#999"/>
<circle cx="480.2" cy="412.7" r="0.4" fill="#999"/>
<circle cx="476.4" cy="398.3" r="0.4" fill="#999"/>
<circle cx="474.0" cy="407.4" r="0.4" fill="#999"/>
<circle cx="475.0" cy="401.0" r="0.4" fill="#999"/>
<circle cx="479.4" cy="403.1" r="0.4" fill="#999"/>
<circle cx="477.4" cy="400.3" r="0.4" fill="#999"/>
<circle cx="474.8" cy="403.8" r="0.4" fill="#999"/>
<circle cx="477.5" cy="406.0" r="0.4" fill="#999"/>
<circle cx="475.3" cy="404.7" r="0.4" fill="#999"/>
<circle cx="478.7" cy="403.4" r="0.4" fill="#999"/>
<circle cx="479.0" cy="408.1" r="0.4" fill="#999"/>
<circle cx="477.7" cy="403.4" r="0.4" fill="#999"/>
<circle cx="473.6" cy="404.6" r="0.4" fill="#999"/>
<circle cx="476.7" cy="401.4" r="0.4" fill="#999"/>
<circle cx="474.1" cy="405.9" r="0.4" fill="#999"/>
<circle cx="486.0" cy="405.2" r="0.4" fill="#999"/>
<circle cx="477.3" cy="405.2" r="0.4" fill="#999"/>
<circle cx="474.9" cy="403.5" r="0.4" fill="#999"/>
<circle cx="474.7" cy="399.8" r="0.4" fill="#999"/>
<circle cx="477.8" cy="404.1" r="0.4" fill="#999"/>
<circle cx="476.6" cy="399.0" r="0.4" fill="#999"/>
<circle cx="477.9" cy="397.6" r="0.4" fill="#999"/>
<circle cx="479.7" cy="401.3" r="0.4" fill="#999"/>
<circle cx="477.0" cy="406.9" r="0.4" fill="#999"/>
<circle cx="478.9" cy="396.5" r="0.4" fill="#999"/>
<circle cx="476.1" cy="404.8" r="0.4" fill="#999"/>
<circle cx="473.2" cy="391.0" r="0.4" fill="#999"/>
<circle cx="476.7" cy="402.8" r="0.4" fill="#999"/>
<circle cx="478.5" cy="403.4" r="0.4" fill="#999"/>
<circle cx="477.5" cy="404.2" r="0.4" fill="#999"/>
<circle cx="481.8" cy="405.4" r="0.4" fill="#999"/>
<circle cx="478.9" cy="401.0" r="0.4" fill="#999"/>
<circle cx="480.9" cy="402.1" r="0.4" fill="#999"/>
<circle cx="479.6" cy="392.5" r="0.4" fill="#999"/>
<circle cx="477.9" cy="402.5" r="0.4" fill="#999"/>
<circle cx="475.4" cy="409.4" r="0.4" fill="#999"/>
<circle cx="478.4" cy="402.3" r="0.4" fill="#999"/>
<circle cx="475.2" cy="412.4" r="0.4" fill="#999"/>
<g clip-path="url(#k3)">
<path d="M476.8 403.8 L476.3 403.5 L476.0 403.0 L475.9 402.5 L475.8 402.0 L475.6 401.2 L475.5 400.5 L475.5 400.0 L475.4 399.2 L475.3 398.5 L475.2 397.8 L475.2 397.2 L475.0 396.6 L474.8 396.0 L474.5 395.6 L474.2 395.2 L473.9 394.8 L473.6 394.2 L473.3 393.8 L473.1 393.2 L472.8 392.8 L472.6 392.2 L472.4 391.8 L472.2 391.2 L472.0 390.5 L471.9 390.0 L471.8 389.4 L471.6 388.8 L471.5 388.2 L471.4 387.5 L471.3 386.8 L471.2 386.2 L471.2 385.5 L471.1 384.8 L471.1 384.0 L471.1 383.2 L471.1 382.5 L471.1 381.8 L471.2 381.0 L471.2 380.4 L471.3 379.8 L471.4 379.0 L471.5 378.5 L471.7 377.8 L471.8 377.2 L472.0 376.5 L472.1 376.0 L472.3 375.5 L472.5 374.8 L472.7 374.2 L472.9 373.8 L473.1 373.2 L473.4 372.8 L473.7 372.2 L474.0 371.8 L474.2 371.4 L474.6 371.0 L475.0 370.7 L475.5 370.3 L476.0 370.0 L476.5 369.9 L477.2 370.0 L477.8 370.1 L478.2 370.4 L478.6 370.8 L479.0 371.1 L479.3 371.5 L479.7 372.0 L480.0 372.5 L480.2 373.0 L480.5 373.5 L480.7 374.0 L480.9 374.5 L481.1 375.0 L481.2 375.6 L481.4 376.2 L481.6 376.8 L481.7 377.5 L481.9 378.0 L482.0 378.8 L482.1 379.2 L482.2 380.0 L482.2 380.8 L482.3 381.2 L482.3 382.0 L482.4 382.8 L482.4 383.5 L482.3 384.2 L482.3 385.0 L482.3 385.8 L482.2 386.2 L482.1 387.0 L482.0 387.8 L481.9 388.2 L481.8 389.0 L481.7 389.5 L481.5 390.2 L481.4 390.8 L481.2 391.2 L481.0 391.9 L480.8 392.5 L480.5 393.0 L480.3 393.5 L480.0 394.0 L479.8 394.5 L479.5 394.8 L479.2 395.2 L478.9 395.8 L478.6 396.2 L478.4 396.8 L478.2 397.3 L478.1 398.0 L478.1 398.8 L478.0 399.3 L477.9 400.0 L477.9 400.8 L477.8 401.5 L477.7 402.0 L477.5 402.6 L477.3 403.2 L477.0 403.6Z" fill="#c8c8c8" fill-rule="evenodd"/>
<path d="M476.8 400.1 L476.5 399.8 L476.3 399.0 L476.2 398.5 L476.2 397.8 L476.1 397.0 L476.0 396.4 L475.8 395.8 L475.6 395.2 L475.4 394.8 L475.1 394.2 L474.8 393.8 L474.5 393.5 L474.2 393.0 L473.9 392.5 L473.6 392.0 L473.4 391.5 L473.2 391.0 L473.0 390.5 L472.8 389.8 L472.6 389.2 L472.5 388.8 L472.3 388.0 L472.2 387.5 L472.1 386.8 L472.0 386.0 L472.0 385.5 L471.9 384.8 L471.9 384.0 L471.9 383.2 L471.9 382.5 L471.9 381.8 L472.0 381.1 L472.1 380.5 L472.2 379.8 L472.2 379.2 L472.4 378.5 L472.5 377.9 L472.7 377.2 L472.8 376.8 L473.0 376.2 L473.2 375.5 L473.5 375.0 L473.7 374.5 L474.0 374.0 L474.2 373.5 L474.5 373.2 L474.8 372.8 L475.2 372.4 L475.8 372.0 L476.2 371.8 L476.8 371.7 L477.2 371.8 L477.8 372.0 L478.2 372.3 L478.7 372.8 L479.0 373.2 L479.2 373.5 L479.5 374.0 L479.8 374.5 L480.0 375.0 L480.2 375.5 L480.5 376.2 L480.7 376.8 L480.8 377.2 L481.0 378.0 L481.1 378.5 L481.2 379.2 L481.3 379.8 L481.4 380.5 L481.5 381.2 L481.5 381.8 L481.6 382.5 L481.6 383.2 L481.6 384.0 L481.5 384.8 L481.5 385.3 L481.4 386.0 L481.4 386.8 L481.2 387.4 L481.1 388.0 L481.0 388.7 L480.9 389.2 L480.7 389.8 L480.5 390.5 L480.3 391.0 L480.1 391.5 L479.9 392.0 L479.6 392.5 L479.3 393.0 L479.0 393.5 L478.8 393.8 L478.4 394.2 L478.1 394.8 L477.8 395.2 L477.6 395.8 L477.4 396.2 L477.3 397.0 L477.2 397.6 L477.2 398.2 L477.1 399.0 L477.0 399.6 L476.8 400.1Z" fill="#9a9a9a" fill-rule="evenodd"/>
<path d="M476.8 394.3 L476.2 394.1 L475.9 393.8 L475.5 393.3 L475.2 393.0 L474.9 392.5 L474.5 392.0 L474.2 391.5 L474.0 391.1 L473.8 390.5 L473.5 390.0 L473.4 389.5 L473.2 389.0 L473.0 388.2 L472.9 387.8 L472.8 387.0 L472.7 386.5 L472.6 385.8 L472.5 385.0 L472.5 384.4 L472.5 383.8 L472.5 383.0 L472.5 382.4 L472.5 381.8 L472.6 381.0 L472.7 380.2 L472.8 379.8 L472.9 379.0 L473.0 378.5 L473.2 377.8 L473.3 377.2 L473.5 376.8 L473.8 376.1 L474.0 375.6 L474.2 375.1 L474.5 374.7 L474.8 374.2 L475.2 373.8 L475.5 373.5 L476.0 373.2 L476.8 373.0 L477.5 373.2 L478.0 373.5 L478.3 373.8 L478.7 374.2 L479.0 374.6 L479.2 375.1 L479.5 375.6 L479.8 376.1 L480.0 376.8 L480.2 377.2 L480.3 377.8 L480.5 378.5 L480.6 379.0 L480.7 379.8 L480.8 380.2 L480.9 381.0 L480.9 381.8 L481.0 382.5 L481.0 383.2 L481.0 384.0 L481.0 384.8 L480.9 385.5 L480.8 386.2 L480.7 386.8 L480.6 387.5 L480.5 388.1 L480.3 388.8 L480.2 389.2 L480.0 389.8 L479.8 390.5 L479.5 391.0 L479.3 391.5 L479.0 392.0 L478.8 392.3 L478.4 392.8 L478.0 393.2 L477.8 393.5 L477.3 394.0 L476.8 394.2Z" fill="#747474" fill-rule="evenodd"/>
<path d="M477.0 392.5 L476.4 392.5 L476.0 392.2 L475.5 391.8 L475.2 391.5 L474.9 391.0 L474.6 390.5 L474.3 390.0 L474.1 389.5 L473.9 389.0 L473.7 388.5 L473.5 387.8 L473.4 387.2 L473.3 386.5 L473.2 386.0 L473.1 385.2 L473.1 384.5 L473.0 383.8 L473.0 383.0 L473.1 382.2 L473.1 381.5 L473.2 380.8 L473.3 380.2 L473.4 379.5 L473.5 379.0 L473.7 378.2 L473.9 377.8 L474.0 377.2 L474.2 376.7 L474.5 376.2 L474.8 375.7 L475.1 375.2 L475.5 374.8 L475.9 374.5 L476.5 374.3 L476.9 374.2 L477.5 374.4 L478.0 374.8 L478.2 375.0 L478.6 375.5 L478.9 376.0 L479.2 376.5 L479.4 377.0 L479.6 377.5 L479.8 378.1 L479.9 378.8 L480.0 379.2 L480.2 380.0 L480.3 380.5 L480.4 381.2 L480.4 382.0 L480.4 382.8 L480.5 383.5 L480.4 384.2 L480.4 385.0 L480.3 385.8 L480.2 386.2 L480.1 387.0 L480.0 387.6 L479.8 388.2 L479.7 388.8 L479.5 389.3 L479.2 389.9 L479.0 390.4 L478.8 390.8 L478.5 391.2 L478.1 391.8 L477.8 392.1 L477.2 392.4Z" fill="#505050" fill-rule="evenodd"/>
<path d="M477.0 391.1 L476.3 391.0 L475.9 390.8 L475.5 390.4 L475.2 390.0 L474.9 389.5 L474.7 389.0 L474.5 388.5 L474.2 387.9 L474.1 387.2 L474.0 386.8 L473.8 386.0 L473.8 385.5 L473.7 384.8 L473.6 384.0 L473.6 383.2 L473.6 382.5 L473.7 381.8 L473.8 381.1 L473.8 380.5 L474.0 379.8 L474.1 379.2 L474.2 378.6 L474.5 378.0 L474.7 377.5 L474.9 377.0 L475.2 376.5 L475.5 376.1 L475.9 375.8 L476.5 375.5 L477.0 375.5 L477.5 375.7 L477.9 376.0 L478.2 376.4 L478.5 376.8 L478.8 377.3 L479.0 377.8 L479.2 378.5 L479.4 379.0 L479.5 379.5 L479.6 380.2 L479.8 381.0 L479.8 381.5 L479.9 382.2 L479.9 383.0 L479.9 383.8 L479.9 384.5 L479.8 385.2 L479.7 385.8 L479.6 386.5 L479.5 387.0 L479.3 387.8 L479.2 388.2 L479.0 388.8 L478.7 389.2 L478.5 389.8 L478.1 390.2 L477.8 390.6 L477.2 391.0Z" fill="#2c2c2c" fill-rule="evenodd"/>
<path d="M477.2 389.6 L476.5 389.7 L476.0 389.4 L475.6 389.0 L475.3 388.5 L475.0 388.0 L474.8 387.5 L474.7 387.0 L474.5 386.3 L474.4 385.8 L474.3 385.0 L474.2 384.5 L474.2 383.8 L474.2 383.0 L474.2 382.2 L474.3 381.8 L474.3 381.0 L474.5 380.2 L474.6 379.8 L474.8 379.2 L475.0 378.5 L475.2 378.0 L475.5 377.6 L475.8 377.2 L476.2 376.9 L476.8 376.7 L477.2 376.8 L477.8 377.2 L478.0 377.5 L478.3 378.0 L478.5 378.5 L478.8 379.1 L478.9 379.8 L479.1 380.2 L479.2 381.0 L479.2 381.5 L479.3 382.2 L479.3 383.0 L479.3 383.8 L479.3 384.5 L479.2 385.0 L479.1 385.8 L479.0 386.4 L478.9 387.0 L478.7 387.5 L478.5 388.0 L478.2 388.5 L477.9 389.0 L477.5 389.5Z" fill="#141414" fill-rule="evenodd"/>
<path d="M477.0 388.1 L476.4 388.0 L476.0 387.7 L475.7 387.2 L475.5 386.8 L475.2 386.2 L475.1 385.5 L475.0 385.0 L474.9 384.2 L474.9 383.5 L474.9 382.8 L474.9 382.0 L475.0 381.3 L475.1 380.8 L475.2 380.2 L475.5 379.5 L475.7 379.0 L476.0 378.6 L476.5 378.3 L477.0 378.2 L477.4 378.5 L477.8 378.9 L478.0 379.3 L478.2 380.0 L478.4 380.5 L478.5 381.0 L478.6 381.8 L478.7 382.5 L478.7 383.2 L478.7 384.0 L478.6 384.8 L478.5 385.3 L478.3 386.0 L478.2 386.5 L478.0 387.0 L477.7 387.5 L477.2 388.0Z" fill="#444" fill-rule="evenodd"/>
<path d="M477.0 386.5 L476.5 386.5 L476.1 386.0 L475.8 385.5 L475.7 385.0 L475.5 384.2 L475.5 383.8 L475.5 383.0 L475.5 382.4 L475.6 381.8 L475.7 381.0 L475.9 380.5 L476.2 380.0 L476.5 379.7 L477.1 379.8 L477.5 380.2 L477.7 380.8 L477.9 381.2 L478.0 381.8 L478.1 382.5 L478.1 383.2 L478.1 384.0 L478.0 384.5 L477.8 385.2 L477.6 385.8 L477.3 386.2 L477.0 386.5Z" fill="#999" fill-rule="evenodd"/>
<path d="M477.0 384.3 L476.5 384.2 L476.3 383.5 L476.3 382.8 L476.5 382.0 L476.8 381.6 L477.1 382.0 L477.3 382.5 L477.3 383.2 L477.2 383.8 L477.0 384.3Z" fill="#f0f0f0" fill-rule="evenodd"/>
<path d="M476.8 403.8 L476.3 403.5 L476.0 403.0 L475.9 402.5 L475.8 402.0 L475.6 401.2 L475.5 400.5 L475.5 400.0 L475.4 399.2 L475.3 398.5 L475.2 397.8 L475.2 397.2 L475.0 396.6 L474.8 396.0 L474.5 395.6 L474.2 395.2 L473.9 394.8 L473.6 394.2 L473.3 393.8 L473.1 393.2 L472.8 392.8 L472.6 392.2 L472.4 391.8 L472.2 391.2 L472.0 390.5 L471.9 390.0 L471.8 389.4 L471.6 388.8 L471.5 388.2 L471.4 387.5 L471.3 386.8 L471.2 386.2 L471.2 385.5 L471.1 384.8 L471.1 384.0 L471.1 383.2 L471.1 382.5 L471.1 381.8 L471.2 381.0 L471.2 380.4 L471.3 379.8 L471.4 379.0 L471.5 378.5 L471.7 377.8 L471.8 377.2 L472.0 376.5 L472.1 376.0 L472.3 375.5 L472.5 374.8 L472.7 374.2 L472.9 373.8 L473.1 373.2 L473.4 372.8 L473.7 372.2 L474.0 371.8 L474.2 371.4 L474.6 371.0 L475.0 370.7 L475.5 370.3 L476.0 370.0 L476.5 369.9 L477.2 370.0 L477.8 370.1 L478.2 370.4 L478.6 370.8 L479.0 371.1 L479.3 371.5 L479.7 372.0 L480.0 372.5 L480.2 373.0 L480.5 373.5 L480.7 374.0 L480.9 374.5 L481.1 375.0 L481.2 375.6 L481.4 376.2 L481.6 376.8 L481.7 377.5 L481.9 378.0 L482.0 378.8 L482.1 379.2 L482.2 380.0 L482.2 380.8 L482.3 381.2 L482.3 382.0 L482.4 382.8 L482.4 383.5 L482.3 384.2 L482.3 385.0 L482.3 385.8 L482.2 386.2 L482.1 387.0 L482.0 387.8 L481.9 388.2 L481.8 389.0 L481.7 389.5 L481.5 390.2 L481.4 390.8 L481.2 391.2 L481.0 391.9 L480.8 392.5 L480.5 393.0 L480.3 393.5 L480.0 394.0 L479.8 394.5 L479.5 394.8 L479.2 395.2 L478.9 395.8 L478.6 396.2 L478.4 396.8 L478.2 397.3 L478.1 398.0 L478.1 398.8 L478.0 399.3 L477.9 400.0 L477.9 400.8 L477.8 401.5 L477.7 402.0 L477.5 402.6 L477.3 403.2 L477.0 403.6Z" fill="none" stroke="#1a1a1a" stroke-width="0.5"/>
<path d="M476.8 400.1 L476.5 399.8 L476.3 399.0 L476.2 398.5 L476.2 397.8 L476.1 397.0 L476.0 396.4 L475.8 395.8 L475.6 395.2 L475.4 394.8 L475.1 394.2 L474.8 393.8 L474.5 393.5 L474.2 393.0 L473.9 392.5 L473.6 392.0 L473.4 391.5 L473.2 391.0 L473.0 390.5 L472.8 389.8 L472.6 389.2 L472.5 388.8 L472.3 388.0 L472.2 387.5 L472.1 386.8 L472.0 386.0 L472.0 385.5 L471.9 384.8 L471.9 384.0 L471.9 383.2 L471.9 382.5 L471.9 381.8 L472.0 381.1 L472.1 380.5 L472.2 379.8 L472.2 379.2 L472.4 378.5 L472.5 377.9 L472.7 377.2 L472.8 376.8 L473.0 376.2 L473.2 375.5 L473.5 375.0 L473.7 374.5 L474.0 374.0 L474.2 373.5 L474.5 373.2 L474.8 372.8 L475.2 372.4 L475.8 372.0 L476.2 371.8 L476.8 371.7 L477.2 371.8 L477.8 372.0 L478.2 372.3 L478.7 372.8 L479.0 373.2 L479.2 373.5 L479.5 374.0 L479.8 374.5 L480.0 375.0 L480.2 375.5 L480.5 376.2 L480.7 376.8 L480.8 377.2 L481.0 378.0 L481.1 378.5 L481.2 379.2 L481.3 379.8 L481.4 380.5 L481.5 381.2 L481.5 381.8 L481.6 382.5 L481.6 383.2 L481.6 384.0 L481.5 384.8 L481.5 385.3 L481.4 386.0 L481.4 386.8 L481.2 387.4 L481.1 388.0 L481.0 388.7 L480.9 389.2 L480.7 389.8 L480.5 390.5 L480.3 391.0 L480.1 391.5 L479.9 392.0 L479.6 392.5 L479.3 393.0 L479.0 393.5 L478.8 393.8 L478.4 394.2 L478.1 394.8 L477.8 395.2 L477.6 395.8 L477.4 396.2 L477.3 397.0 L477.2 397.6 L477.2 398.2 L477.1 399.0 L477.0 399.6 L476.8 400.1Z" fill="none" stroke="#1a1a1a" stroke-width="0.5"/>
<path d="M476.8 394.3 L476.2 394.1 L475.9 393.8 L475.5 393.3 L475.2 393.0 L474.9 392.5 L474.5 392.0 L474.2 391.5 L474.0 391.1 L473.8 390.5 L473.5 390.0 L473.4 389.5 L473.2 389.0 L473.0 388.2 L472.9 387.8 L472.8 387.0 L472.7 386.5 L472.6 385.8 L472.5 385.0 L472.5 384.4 L472.5 383.8 L472.5 383.0 L472.5 382.4 L472.5 381.8 L472.6 381.0 L472.7 380.2 L472.8 379.8 L472.9 379.0 L473.0 378.5 L473.2 377.8 L473.3 377.2 L473.5 376.8 L473.8 376.1 L474.0 375.6 L474.2 375.1 L474.5 374.7 L474.8 374.2 L475.2 373.8 L475.5 373.5 L476.0 373.2 L476.8 373.0 L477.5 373.2 L478.0 373.5 L478.3 373.8 L478.7 374.2 L479.0 374.6 L479.2 375.1 L479.5 375.6 L479.8 376.1 L480.0 376.8 L480.2 377.2 L480.3 377.8 L480.5 378.5 L480.6 379.0 L480.7 379.8 L480.8 380.2 L480.9 381.0 L480.9 381.8 L481.0 382.5 L481.0 383.2 L481.0 384.0 L481.0 384.8 L480.9 385.5 L480.8 386.2 L480.7 386.8 L480.6 387.5 L480.5 388.1 L480.3 388.8 L480.2 389.2 L480.0 389.8 L479.8 390.5 L479.5 391.0 L479.3 391.5 L479.0 392.0 L478.8 392.3 L478.4 392.8 L478.0 393.2 L477.8 393.5 L477.3 394.0 L476.8 394.2Z" fill="none" stroke="#1a1a1a" stroke-width="0.5"/>
<path d="M477.0 392.5 L476.4 392.5 L476.0 392.2 L475.5 391.8 L475.2 391.5 L474.9 391.0 L474.6 390.5 L474.3 390.0 L474.1 389.5 L473.9 389.0 L473.7 388.5 L473.5 387.8 L473.4 387.2 L473.3 386.5 L473.2 386.0 L473.1 385.2 L473.1 384.5 L473.0 383.8 L473.0 383.0 L473.1 382.2 L473.1 381.5 L473.2 380.8 L473.3 380.2 L473.4 379.5 L473.5 379.0 L473.7 378.2 L473.9 377.8 L474.0 377.2 L474.2 376.7 L474.5 376.2 L474.8 375.7 L475.1 375.2 L475.5 374.8 L475.9 374.5 L476.5 374.3 L476.9 374.2 L477.5 374.4 L478.0 374.8 L478.2 375.0 L478.6 375.5 L478.9 376.0 L479.2 376.5 L479.4 377.0 L479.6 377.5 L479.8 378.1 L479.9 378.8 L480.0 379.2 L480.2 380.0 L480.3 380.5 L480.4 381.2 L480.4 382.0 L480.4 382.8 L480.5 383.5 L480.4 384.2 L480.4 385.0 L480.3 385.8 L480.2 386.2 L480.1 387.0 L480.0 387.6 L479.8 388.2 L479.7 388.8 L479.5 389.3 L479.2 389.9 L479.0 390.4 L478.8 390.8 L478.5 391.2 L478.1 391.8 L477.8 392.1 L477.2 392.4Z" fill="none" stroke="#1a1a1a" stroke-width="0.5"/>
</g>
<circle cx="296.7" cy="495.9" r="0.35" fill="#bbb"/>
<circle cx="283.1" cy="501.7" r="0.35" fill="#bbb"/>
<circle cx="295.0" cy="487.6" r="0.35" fill="#bbb"/>
<circle cx="289.1" cy="475.4" r="0.35" fill="#bbb"/>
<circle cx="295.9" cy="480.2" r="0.35" fill="#bbb"/>
<circle cx="297.6" cy="486.0" r="0.35" fill="#bbb"/>
<circle cx="284.4" cy="493.3" r="0.35" fill="#bbb"/>
<circle cx="291.9" cy="479.9" r="0.35" fill="#bbb"/>
<circle cx="289.3" cy="495.4" r="0.35" fill="#bbb"/>
<circle cx="287.7" cy="477.9" r="0.35" fill="#bbb"/>
<circle cx="287.8" cy="481.4" r="0.35" fill="#bbb"/>
<circle cx="284.8" cy="490.4" r="0.35" fill="#bbb"/>
<circle cx="289.5" cy="488.1" r="0.35" fill="#bbb"/>
<circle cx="275.2" cy="493.1" r="0.35" fill="#bbb"/>
<circle cx="288.2" cy="486.3" r="0.35" fill="#bbb"/>
<circle cx="291.4" cy="507.3" r="0.35" fill="#bbb"/>
<circle cx="278.4" cy="475.6" r="0.35" fill="#bbb"/>
<circle cx="296.8" cy="482.9" r="0.35" fill="#bbb"/>
<circle cx="301.7" cy="481.2" r="0.35" fill="#bbb"/>
<circle cx="285.7" cy="497.5" r="0.35" fill="#bbb"/>
<circle cx="298.2" cy="494.0" r="0.35" fill="#bbb"/>
<circle cx="294.1" cy="488.8" r="0.35" fill="#bbb"/>
<circle cx="286.1" cy="488.2" r="0.35" fill="#bbb"/>
<circle cx="301.4" cy="496.3" r="0.35" fill="#bbb"/>
<circle cx="290.2" cy="492.8" r="0.35" fill="#bbb"/>
<circle cx="297.4" cy="500.6" r="0.35" fill="#bbb"/>
<circle cx="288.8" cy="489.3" r="0.35" fill="#bbb"/>
<circle cx="292.2" cy="501.4" r="0.35" fill="#bbb"/>
<circle cx="276.3" cy="497.6" r="0.35" fill="#bbb"/>
<g clip-path="url(#k4)">
<path d="M283.5 509.3 L282.8 509.3 L282.0 509.2 L281.5 509.2 L280.8 509.1 L280.2 509.0 L279.5 508.8 L279.0 508.6 L278.5 508.4 L278.0 508.1 L277.5 507.8 L277.0 507.5 L276.6 507.2 L276.2 507.0 L275.8 506.5 L275.5 506.2 L275.0 505.8 L274.8 505.4 L274.4 505.0 L274.1 504.5 L273.8 504.0 L273.5 503.5 L273.3 503.0 L273.1 502.5 L273.0 502.0 L272.8 501.2 L272.7 500.8 L272.6 500.0 L272.5 499.2 L272.6 498.5 L272.6 497.8 L272.8 497.2 L272.9 496.5 L273.1 496.0 L273.3 495.5 L273.5 494.9 L273.8 494.4 L274.0 494.0 L274.3 493.5 L274.7 493.0 L275.0 492.6 L275.3 492.2 L275.8 491.8 L276.1 491.5 L276.5 491.2 L277.0 490.8 L277.5 490.5 L277.9 490.2 L278.4 490.0 L279.0 489.8 L279.5 489.6 L280.0 489.4 L280.5 489.2 L281.2 489.1 L281.8 489.0 L282.5 488.9 L283.2 488.9 L284.0 488.9 L284.7 489.0 L285.2 489.1 L286.0 489.2 L286.5 489.4 L287.0 489.6 L287.5 489.8 L288.1 490.0 L288.6 490.2 L289.0 490.5 L289.5 490.8 L290.0 491.2 L290.4 491.5 L290.8 491.9 L291.1 492.2 L291.5 492.7 L291.8 493.0 L292.1 493.5 L292.4 494.0 L292.7 494.5 L293.0 495.0 L293.2 495.5 L293.3 496.0 L293.5 496.7 L293.6 497.2 L293.7 498.0 L293.7 498.8 L293.7 499.5 L293.6 500.2 L293.5 501.0 L293.4 501.5 L293.2 502.0 L293.0 502.5 L292.8 503.1 L292.5 503.6 L292.2 504.0 L291.9 504.5 L291.6 505.0 L291.2 505.4 L290.9 505.8 L290.5 506.2 L290.2 506.5 L289.8 506.8 L289.2 507.2 L288.8 507.5 L288.4 507.8 L288.0 508.0 L287.5 508.2 L286.9 508.5 L286.2 508.7 L285.8 508.9 L285.2 509.0 L284.5 509.2 L283.8 509.2Z" fill="#c8c8c8" fill-rule="evenodd"/>
<path d="M283.8 508.0 L283.0 508.1 L282.2 508.0 L281.8 508.0 L281.0 507.8 L280.5 507.7 L279.8 507.5 L279.2 507.3 L278.8 507.1 L278.2 506.8 L277.8 506.5 L277.4 506.2 L277.0 505.9 L276.5 505.5 L276.2 505.2 L275.8 504.8 L275.5 504.4 L275.2 504.0 L274.9 503.5 L274.7 503.0 L274.4 502.5 L274.2 502.0 L274.0 501.2 L273.9 500.8 L273.8 500.0 L273.8 499.2 L273.8 498.5 L273.9 497.8 L274.0 497.1 L274.2 496.5 L274.3 496.0 L274.5 495.5 L274.8 495.0 L275.1 494.5 L275.4 494.0 L275.8 493.6 L276.0 493.2 L276.5 492.8 L276.8 492.5 L277.2 492.1 L277.7 491.8 L278.1 491.5 L278.5 491.2 L279.0 491.0 L279.6 490.8 L280.2 490.5 L280.8 490.3 L281.2 490.2 L282.0 490.1 L282.8 490.0 L283.5 490.0 L284.2 490.0 L285.0 490.1 L285.6 490.2 L286.2 490.4 L286.8 490.6 L287.2 490.8 L287.8 491.0 L288.2 491.3 L288.8 491.6 L289.2 491.9 L289.7 492.2 L290.0 492.5 L290.5 493.0 L290.8 493.3 L291.1 493.8 L291.4 494.2 L291.7 494.8 L292.0 495.2 L292.2 495.8 L292.3 496.2 L292.5 496.9 L292.6 497.5 L292.7 498.2 L292.7 499.0 L292.6 499.8 L292.5 500.5 L292.4 501.0 L292.2 501.5 L292.0 502.1 L291.8 502.7 L291.5 503.1 L291.2 503.6 L290.9 504.0 L290.6 504.5 L290.2 504.8 L289.9 505.2 L289.5 505.6 L289.0 506.0 L288.6 506.2 L288.2 506.5 L287.8 506.8 L287.2 507.1 L286.8 507.3 L286.2 507.5 L285.5 507.7 L285.0 507.8 L284.2 508.0 L283.8 508.0Z" fill="#9a9a9a" fill-rule="evenodd"/>
<path d="M283.0 507.0 L282.5 507.0 L281.8 506.9 L281.0 506.8 L280.5 506.6 L280.0 506.5 L279.5 506.2 L279.0 506.0 L278.5 505.7 L278.0 505.3 L277.6 505.0 L277.2 504.7 L276.8 504.2 L276.5 503.8 L276.2 503.5 L275.9 503.0 L275.7 502.5 L275.5 502.0 L275.2 501.4 L275.1 500.8 L275.0 500.2 L274.9 499.5 L274.9 498.8 L275.0 498.2 L275.1 497.5 L275.3 497.0 L275.5 496.3 L275.8 495.8 L276.0 495.3 L276.2 494.9 L276.5 494.5 L277.0 494.0 L277.2 493.7 L277.7 493.2 L278.0 493.0 L278.5 492.7 L279.0 492.3 L279.5 492.1 L280.0 491.8 L280.5 491.6 L281.0 491.5 L281.8 491.3 L282.2 491.2 L283.0 491.1 L283.8 491.1 L284.5 491.1 L285.2 491.2 L285.8 491.3 L286.5 491.5 L287.0 491.7 L287.5 491.9 L288.0 492.2 L288.5 492.5 L288.9 492.8 L289.2 493.0 L289.7 493.5 L290.0 493.8 L290.4 494.2 L290.7 494.8 L291.0 495.2 L291.2 495.8 L291.4 496.2 L291.6 496.8 L291.7 497.5 L291.8 498.0 L291.8 498.8 L291.8 499.5 L291.7 500.0 L291.5 500.8 L291.4 501.2 L291.2 501.8 L290.9 502.2 L290.6 502.8 L290.3 503.2 L290.0 503.7 L289.7 504.0 L289.2 504.5 L288.9 504.8 L288.5 505.1 L288.0 505.5 L287.5 505.8 L287.1 506.0 L286.6 506.2 L286.0 506.5 L285.5 506.6 L285.0 506.8 L284.2 506.9 L283.5 507.0 L283.0 507.0Z" fill="#747474" fill-rule="evenodd"/>
<path d="M284.0 505.5 L283.2 505.5 L282.5 505.5 L282.0 505.4 L281.2 505.3 L280.8 505.1 L280.2 504.9 L279.8 504.6 L279.2 504.3 L278.9 504.0 L278.5 503.6 L278.2 503.2 L277.8 502.8 L277.5 502.2 L277.3 501.8 L277.1 501.2 L277.0 500.8 L276.9 500.0 L276.9 499.2 L277.0 498.5 L277.1 498.0 L277.3 497.5 L277.5 496.9 L277.8 496.4 L278.0 496.0 L278.4 495.5 L278.8 495.0 L279.0 494.8 L279.5 494.3 L279.9 494.0 L280.2 493.7 L280.8 493.4 L281.2 493.1 L281.8 492.9 L282.2 492.7 L283.0 492.5 L283.5 492.4 L284.2 492.3 L285.0 492.3 L285.8 492.4 L286.2 492.6 L286.9 492.8 L287.4 493.0 L287.9 493.2 L288.3 493.5 L288.8 493.9 L289.2 494.2 L289.5 494.6 L289.8 495.0 L290.1 495.5 L290.4 496.0 L290.6 496.5 L290.8 497.2 L290.9 497.8 L290.9 498.5 L290.9 499.2 L290.8 499.9 L290.6 500.5 L290.4 501.0 L290.2 501.5 L289.9 502.0 L289.5 502.5 L289.2 502.8 L288.9 503.2 L288.5 503.6 L288.0 504.0 L287.6 504.2 L287.2 504.5 L286.7 504.8 L286.1 505.0 L285.5 505.2 L285.0 505.3 L284.2 505.5Z" fill="#505050" fill-rule="evenodd"/>
<path d="M285.5 503.5 L284.8 503.6 L284.0 503.6 L283.3 503.5 L282.8 503.4 L282.2 503.1 L281.8 502.9 L281.3 502.5 L281.0 502.2 L280.6 501.8 L280.3 501.2 L280.1 500.8 L279.9 500.2 L279.8 499.5 L279.8 498.8 L279.9 498.0 L280.0 497.5 L280.2 496.8 L280.5 496.3 L280.8 495.9 L281.1 495.5 L281.5 495.0 L281.8 494.8 L282.2 494.4 L282.8 494.1 L283.2 493.9 L283.8 493.7 L284.5 493.6 L285.2 493.6 L286.0 493.7 L286.5 493.8 L287.1 494.0 L287.6 494.2 L288.0 494.5 L288.5 495.0 L288.8 495.2 L289.1 495.8 L289.4 496.2 L289.6 496.8 L289.8 497.2 L289.9 498.0 L289.9 498.8 L289.8 499.5 L289.7 500.0 L289.5 500.5 L289.2 501.0 L288.9 501.5 L288.5 501.9 L288.2 502.2 L287.8 502.6 L287.2 502.9 L286.8 503.2 L286.2 503.4 L285.7 503.5Z" fill="#2c2c2c" fill-rule="evenodd"/>
<path d="M285.2 502.3 L284.6 502.2 L284.0 502.1 L283.5 502.0 L283.0 501.7 L282.5 501.3 L282.2 501.0 L281.8 500.5 L281.6 500.0 L281.4 499.5 L281.3 498.8 L281.4 498.0 L281.5 497.4 L281.8 496.8 L282.0 496.4 L282.3 496.0 L282.8 495.5 L283.1 495.2 L283.6 495.0 L284.2 494.8 L284.8 494.6 L285.5 494.6 L286.2 494.7 L286.8 494.9 L287.2 495.2 L287.7 495.5 L288.0 495.8 L288.4 496.2 L288.6 496.8 L288.8 497.2 L289.0 498.0 L289.0 498.8 L288.8 499.5 L288.6 500.0 L288.3 500.5 L288.0 500.9 L287.7 501.2 L287.2 501.6 L286.8 501.9 L286.2 502.1 L285.5 502.2Z" fill="#141414" fill-rule="evenodd"/>
<path d="M285.8 501.0 L285.0 501.1 L284.5 501.0 L283.9 500.8 L283.5 500.5 L283.1 500.0 L282.8 499.5 L282.6 499.0 L282.6 498.2 L282.7 497.5 L283.0 497.0 L283.2 496.6 L283.6 496.2 L284.0 496.0 L284.7 495.8 L285.2 495.7 L286.0 495.7 L286.5 495.9 L287.0 496.2 L287.3 496.5 L287.6 497.0 L287.9 497.5 L288.0 498.2 L287.9 499.0 L287.7 499.5 L287.4 500.0 L287.0 500.4 L286.5 500.8 L286.0 501.0Z" fill="#444" fill-rule="evenodd"/>
<path d="M285.8 500.0 L285.0 500.1 L284.5 499.9 L284.0 499.5 L283.8 499.2 L283.6 498.5 L283.7 497.8 L284.0 497.2 L284.2 497.0 L284.8 496.7 L285.5 496.6 L286.1 496.8 L286.5 497.0 L286.9 497.5 L287.1 498.0 L287.0 498.8 L286.8 499.2 L286.5 499.6 L286.0 500.0Z" fill="#999" fill-rule="evenodd"/>
<path d="M285.5 498.8 L285.0 498.7 L284.9 498.0 L285.5 497.8 L285.9 498.2 L285.7 498.8Z" fill="#f0f0f0" fill-rule="evenodd"/>
<path d="M283.5 509.3 L282.8 509.3 L282.0 509.2 L281.5 509.2 L280.8 509.1 L280.2 509.0 L279.5 508.8 L279.0 508.6 L278.5 508.4 L278.0 508.1 L277.5 507.8 L277.0 507.5 L276.6 507.2 L276.2 507.0 L275.8 506.5 L275.5 506.2 L275.0 505.8 L274.8 505.4 L274.4 505.0 L274.1 504.5 L273.8 504.0 L273.5 503.5 L273.3 503.0 L273.1 502.5 L273.0 502.0 L272.8 501.2 L272.7 500.8 L272.6 500.0 L272.5 499.2 L272.6 498.5 L272.6 497.8 L272.8 497.2 L272.9 496.5 L273.1 496.0 L273.3 495.5 L273.5 494.9 L273.8 494.4 L274.0 494.0 L274.3 493.5 L274.7 493.0 L275.0 492.6 L275.3 492.2 L275.8 491.8 L276.1 491.5 L276.5 491.2 L277.0 490.8 L277.5 490.5 L277.9 490.2 L278.4 490.0 L279.0 489.8 L279.5 489.6 L280.0 489.4 L280.5 489.2 L281.2 489.1 L281.8 489.0 L282.5 488.9 L283.2 488.9 L284.0 488.9 L284.7 489.0 L285.2 489.1 L286.0 489.2 L286.5 489.4 L287.0 489.6 L287.5 489.8 L288.1 490.0 L288.6 490.2 L289.0 490.5 L289.5 490.8 L290.0 491.2 L290.4 491.5 L290.8 491.9 L291.1 492.2 L291.5 492.7 L291.8 493.0 L292.1 493.5 L292.4 494.0 L292.7 494.5 L293.0 495.0 L293.2 495.5 L293.3 496.0 L293.5 496.7 L293.6 497.2 L293.7 498.0 L293.7 498.8 L293.7 499.5 L293.6 500.2 L293.5 501.0 L293.4 501.5 L293.2 502.0 L293.0 502.5 L292.8 503.1 L292.5 503.6 L292.2 504.0 L291.9 504.5 L291.6 505.0 L291.2 505.4 L290.9 505.8 L290.5 506.2 L290.2 506.5 L289.8 506.8 L289.2 507.2 L288.8 507.5 L288.4 507.8 L288.0 508.0 L287.5 508.2 L286.9 508.5 L286.2 508.7 L285.8 508.9 L285.2 509.0 L284.5 509.2 L283.8 509.2Z" fill="none" stroke="#1a1a1a" stroke-width="0.5"/>
<path d="M283.8 508.0 L283.0 508.1 L282.2 508.0 L281.8 508.0 L281.0 507.8 L280.5 507.7 L279.8 507.5 L279.2 507.3 L278.8 507.1 L278.2 506.8 L277.8 506.5 L277.4 506.2 L277.0 505.9 L276.5 505.5 L276.2 505.2 L275.8 504.8 L275.5 504.4 L275.2 504.0 L274.9 503.5 L274.7 503.0 L274.4 502.5 L274.2 502.0 L274.0 501.2 L273.9 500.8 L273.8 500.0 L273.8 499.2 L273.8 498.5 L273.9 497.8 L274.0 497.1 L274.2 496.5 L274.3 496.0 L274.5 495.5 L274.8 495.0 L275.1 494.5 L275.4 494.0 L275.8 493.6 L276.0 493.2 L276.5 492.8 L276.8 492.5 L277.2 492.1 L277.7 491.8 L278.1 491.5 L278.5 491.2 L279.0 491.0 L279.6 490.8 L280.2 490.5 L280.8 490.3 L281.2 490.2 L282.0 490.1 L282.8 490.0 L283.5 490.0 L284.2 490.0 L285.0 490.1 L285.6 490.2 L286.2 490.4 L286.8 490.6 L287.2 490.8 L287.8 491.0 L288.2 491.3 L288.8 491.6 L289.2 491.9 L289.7 492.2 L290.0 492.5 L290.5 493.0 L290.8 493.3 L291.1 493.8 L291.4 494.2 L291.7 494.8 L292.0 495.2 L292.2 495.8 L292.3 496.2 L292.5 496.9 L292.6 497.5 L292.7 498.2 L292.7 499.0 L292.6 499.8 L292.5 500.5 L292.4 501.0 L292.2 501.5 L292.0 502.1 L291.8 502.7 L291.5 503.1 L291.2 503.6 L290.9 504.0 L290.6 504.5 L290.2 504.8 L289.9 505.2 L289.5 505.6 L289.0 506.0 L288.6 506.2 L288.2 506.5 L287.8 506.8 L287.2 507.1 L286.8 507.3 L286.2 507.5 L285.5 507.7 L285.0 507.8 L284.2 508.0 L283.8 508.0Z" fill="none" stroke="#1a1a1a" stroke-width="0.5"/>
<path d="M283.0 507.0 L282.5 507.0 L281.8 506.9 L281.0 506.8 L280.5 506.6 L280.0 506.5 L279.5 506.2 L279.0 506.0 L278.5 505.7 L278.0 505.3 L277.6 505.0 L277.2 504.7 L276.8 504.2 L276.5 503.8 L276.2 503.5 L275.9 503.0 L275.7 502.5 L275.5 502.0 L275.2 501.4 L275.1 500.8 L275.0 500.2 L274.9 499.5 L274.9 498.8 L275.0 498.2 L275.1 497.5 L275.3 497.0 L275.5 496.3 L275.8 495.8 L276.0 495.3 L276.2 494.9 L276.5 494.5 L277.0 494.0 L277.2 493.7 L277.7 493.2 L278.0 493.0 L278.5 492.7 L279.0 492.3 L279.5 492.1 L280.0 491.8 L280.5 491.6 L281.0 491.5 L281.8 491.3 L282.2 491.2 L283.0 491.1 L283.8 491.1 L284.5 491.1 L285.2 491.2 L285.8 491.3 L286.5 491.5 L287.0 491.7 L287.5 491.9 L288.0 492.2 L288.5 492.5 L288.9 492.8 L289.2 493.0 L289.7 493.5 L290.0 493.8 L290.4 494.2 L290.7 494.8 L291.0 495.2 L291.2 495.8 L291.4 496.2 L291.6 496.8 L291.7 497.5 L291.8 498.0 L291.8 498.8 L291.8 499.5 L291.7 500.0 L291.5 500.8 L291.4 501.2 L291.2 501.8 L290.9 502.2 L290.6 502.8 L290.3 503.2 L290.0 503.7 L289.7 504.0 L289.2 504.5 L288.9 504.8 L288.5 505.1 L288.0 505.5 L287.5 505.8 L287.1 506.0 L286.6 506.2 L286.0 506.5 L285.5 506.6 L285.0 506.8 L284.2 506.9 L283.5 507.0 L283.0 507.0Z" fill="none" stroke="#1a1a1a" stroke-width="0.5"/>
<path d="M284.0 505.5 L283.2 505.5 L282.5 505.5 L282.0 505.4 L281.2 505.3 L280.8 505.1 L280.2 504.9 L279.8 504.6 L279.2 504.3 L278.9 504.0 L278.5 503.6 L278.2 503.2 L277.8 502.8 L277.5 502.2 L277.3 501.8 L277.1 501.2 L277.0 500.8 L276.9 500.0 L276.9 499.2 L277.0 498.5 L277.1 498.0 L277.3 497.5 L277.5 496.9 L277.8 496.4 L278.0 496.0 L278.4 495.5 L278.8 495.0 L279.0 494.8 L279.5 494.3 L279.9 494.0 L280.2 493.7 L280.8 493.4 L281.2 493.1 L281.8 492.9 L282.2 492.7 L283.0 492.5 L283.5 492.4 L284.2 492.3 L285.0 492.3 L285.8 492.4 L286.2 492.6 L286.9 492.8 L287.4 493.0 L287.9 493.2 L288.3 493.5 L288.8 493.9 L289.2 494.2 L289.5 494.6 L289.8 495.0 L290.1 495.5 L290.4 496.0 L290.6 496.5 L290.8 497.2 L290.9 497.8 L290.9 498.5 L290.9 499.2 L290.8 499.9 L290.6 500.5 L290.4 501.0 L290.2 501.5 L289.9 502.0 L289.5 502.5 L289.2 502.8 L288.9 503.2 L288.5 503.6 L288.0 504.0 L287.6 504.2 L287.2 504.5 L286.7 504.8 L286.1 505.0 L285.5 505.2 L285.0 505.3 L284.2 505.5Z" fill="none" stroke="#1a1a1a" stroke-width="0.5"/>
<path d="M275.8 486.6 C277 482 279.5 480.4 281.6 480.4 C284 480.4 286.5 484 289 487" fill="none" stroke="#555" stroke-width="0.5"/><path d="M290.7 488.7 C295 490 297.4 493 297.4 497 C297.4 503 294 507 290 509" fill="none" stroke="#666" stroke-width="0.45"/><circle cx="295.3" cy="483.3" r="1" fill="none" stroke="#666" stroke-width="0.45"/>
</g>
<circle cx="363.6" cy="472.1" r="0.35" fill="#bbb"/>
<circle cx="368.2" cy="483.3" r="0.35" fill="#bbb"/>
<circle cx="373.1" cy="489.4" r="0.35" fill="#bbb"/>
<circle cx="373.3" cy="479.8" r="0.35" fill="#bbb"/>
<circle cx="387.5" cy="489.7" r="0.35" fill="#bbb"/>
<circle cx="376.0" cy="509.1" r="0.35" fill="#bbb"/>
<circle cx="377.8" cy="491.9" r="0.35" fill="#bbb"/>
<circle cx="373.9" cy="507.2" r="0.35" fill="#bbb"/>
<circle cx="365.6" cy="473.6" r="0.35" fill="#bbb"/>
<circle cx="372.9" cy="460.7" r="0.35" fill="#bbb"/>
<circle cx="367.4" cy="498.4" r="0.35" fill="#bbb"/>
<circle cx="369.3" cy="487.0" r="0.35" fill="#bbb"/>
<circle cx="376.1" cy="471.1" r="0.35" fill="#bbb"/>
<circle cx="373.6" cy="477.5" r="0.35" fill="#bbb"/>
<circle cx="365.5" cy="481.7" r="0.35" fill="#bbb"/>
<circle cx="371.7" cy="480.2" r="0.35" fill="#bbb"/>
<circle cx="368.1" cy="496.4" r="0.35" fill="#bbb"/>
<circle cx="378.9" cy="491.6" r="0.35" fill="#bbb"/>
<circle cx="371.4" cy="472.5" r="0.35" fill="#bbb"/>
<circle cx="367.1" cy="471.8" r="0.35" fill="#bbb"/>
<circle cx="373.2" cy="495.9" r="0.35" fill="#bbb"/>
<circle cx="377.4" cy="484.7" r="0.35" fill="#bbb"/>
<circle cx="369.7" cy="487.1" r="0.35" fill="#bbb"/>
<circle cx="372.7" cy="492.1" r="0.35" fill="#bbb"/>
<circle cx="380.8" cy="476.9" r="0.35" fill="#bbb"/>
<g clip-path="url(#k5)">
<path d="M372.0 506.6 L371.2 506.7 L370.5 506.6 L369.8 506.5 L369.2 506.3 L368.8 506.1 L368.2 505.8 L367.9 505.5 L367.5 505.2 L367.0 504.8 L366.8 504.5 L366.3 504.0 L366.0 503.6 L365.7 503.2 L365.4 502.8 L365.1 502.2 L364.8 501.8 L364.5 501.2 L364.3 500.8 L364.1 500.2 L363.9 499.8 L363.7 499.2 L363.5 498.6 L363.3 498.0 L363.2 497.5 L363.1 496.8 L363.0 496.2 L362.9 495.5 L362.8 494.8 L362.8 494.0 L362.7 493.5 L362.7 492.8 L362.7 492.0 L362.7 491.2 L362.8 490.8 L362.8 490.0 L362.8 489.2 L362.9 488.5 L362.9 487.8 L363.0 487.0 L363.0 486.5 L363.0 485.8 L363.1 485.0 L363.1 484.2 L363.2 483.5 L363.2 482.8 L363.2 482.0 L363.2 481.2 L363.2 480.5 L363.2 479.8 L363.2 479.0 L363.2 478.2 L363.2 477.5 L363.3 477.0 L363.3 476.2 L363.4 475.5 L363.5 475.0 L363.6 474.2 L363.8 473.8 L364.0 473.0 L364.1 472.5 L364.3 472.0 L364.5 471.5 L364.8 471.0 L365.1 470.5 L365.4 470.0 L365.7 469.5 L366.0 469.1 L366.3 468.8 L366.8 468.3 L367.1 468.0 L367.5 467.7 L368.0 467.3 L368.5 467.1 L369.0 466.8 L369.5 466.6 L370.1 466.5 L370.8 466.4 L371.5 466.4 L372.2 466.5 L372.8 466.6 L373.2 466.8 L373.8 467.0 L374.2 467.3 L374.8 467.6 L375.2 468.0 L375.6 468.2 L376.0 468.7 L376.3 469.0 L376.7 469.5 L377.0 469.9 L377.2 470.3 L377.5 470.8 L377.8 471.2 L378.0 471.8 L378.2 472.4 L378.5 473.0 L378.6 473.5 L378.8 474.1 L378.9 474.8 L379.0 475.5 L379.0 476.0 L379.1 476.8 L379.1 477.5 L379.1 478.2 L379.1 479.0 L379.0 479.8 L379.0 480.2 L379.0 481.0 L378.9 481.8 L378.9 482.5 L378.9 483.2 L378.9 484.0 L378.9 484.8 L379.0 485.5 L379.0 486.2 L379.0 486.8 L379.1 487.5 L379.1 488.2 L379.1 489.0 L379.2 489.8 L379.2 490.5 L379.2 491.0 L379.3 491.8 L379.3 492.5 L379.3 493.2 L379.3 494.0 L379.2 494.5 L379.2 495.2 L379.1 496.0 L379.0 496.5 L378.9 497.2 L378.7 497.8 L378.5 498.5 L378.4 499.0 L378.2 499.5 L378.0 500.1 L377.8 500.7 L377.5 501.2 L377.2 501.7 L377.0 502.1 L376.8 502.6 L376.5 503.0 L376.1 503.5 L375.8 503.9 L375.5 504.2 L375.0 504.8 L374.7 505.0 L374.2 505.4 L373.8 505.8 L373.4 506.0 L372.9 506.2 L372.2 506.5Z" fill="#c8c8c8" fill-rule="evenodd"/>
<path d="M372.2 503.8 L371.5 504.0 L370.8 504.0 L370.0 503.9 L369.5 503.7 L368.9 503.5 L368.4 503.2 L368.0 503.0 L367.5 502.6 L367.2 502.2 L366.8 501.8 L366.5 501.5 L366.1 501.0 L365.8 500.5 L365.5 500.0 L365.3 499.5 L365.0 499.0 L364.8 498.5 L364.7 498.0 L364.5 497.4 L364.4 496.8 L364.2 496.1 L364.2 495.5 L364.1 494.8 L364.1 494.0 L364.1 493.2 L364.1 492.5 L364.2 491.8 L364.2 491.2 L364.4 490.5 L364.5 489.8 L364.6 489.2 L364.8 488.7 L364.9 488.0 L365.0 487.5 L365.2 486.8 L365.3 486.2 L365.5 485.5 L365.5 485.0 L365.5 484.2 L365.5 483.8 L365.3 483.0 L365.2 482.5 L365.1 481.8 L365.0 481.2 L364.9 480.5 L364.8 479.8 L364.7 479.2 L364.6 478.5 L364.6 477.8 L364.6 477.0 L364.6 476.2 L364.7 475.5 L364.8 475.0 L364.9 474.2 L365.0 473.8 L365.2 473.1 L365.5 472.5 L365.7 472.0 L366.0 471.5 L366.2 471.1 L366.5 470.7 L366.9 470.2 L367.2 469.8 L367.6 469.5 L368.0 469.2 L368.5 468.9 L369.0 468.6 L369.5 468.4 L370.0 468.2 L370.8 468.1 L371.5 468.1 L372.2 468.2 L372.8 468.3 L373.2 468.5 L373.8 468.8 L374.2 469.1 L374.8 469.4 L375.1 469.8 L375.5 470.1 L375.8 470.5 L376.2 471.0 L376.5 471.5 L376.8 472.0 L377.0 472.5 L377.2 473.0 L377.4 473.5 L377.5 474.0 L377.7 474.8 L377.8 475.2 L377.8 476.0 L377.9 476.8 L377.9 477.5 L377.8 478.2 L377.8 478.8 L377.7 479.5 L377.5 480.2 L377.4 480.8 L377.2 481.5 L377.1 482.0 L377.0 482.5 L376.8 483.2 L376.7 483.8 L376.6 484.5 L376.6 485.2 L376.7 486.0 L376.8 486.6 L376.9 487.2 L377.0 487.8 L377.2 488.5 L377.3 489.0 L377.5 489.8 L377.6 490.2 L377.7 491.0 L377.8 491.5 L377.9 492.2 L377.9 493.0 L377.9 493.8 L377.9 494.5 L377.9 495.2 L377.8 496.0 L377.7 496.5 L377.5 497.2 L377.4 497.8 L377.2 498.2 L377.0 498.9 L376.8 499.5 L376.5 500.0 L376.2 500.4 L376.0 500.8 L375.7 501.2 L375.3 501.8 L375.0 502.1 L374.6 502.5 L374.2 502.8 L373.8 503.1 L373.2 503.4 L372.8 503.7 L372.2 503.8Z" fill="#9a9a9a" fill-rule="evenodd"/>
<path d="M371.2 502.5 L370.7 502.5 L370.0 502.4 L369.5 502.2 L368.9 502.0 L368.5 501.7 L368.0 501.4 L367.6 501.0 L367.2 500.7 L366.9 500.2 L366.5 499.8 L366.2 499.3 L366.0 498.8 L365.8 498.2 L365.6 497.8 L365.4 497.2 L365.2 496.5 L365.1 496.0 L365.1 495.2 L365.0 494.5 L365.0 493.8 L365.1 493.0 L365.2 492.2 L365.3 491.8 L365.5 491.0 L365.6 490.5 L365.8 490.0 L366.0 489.5 L366.3 489.0 L366.6 488.5 L366.9 488.0 L367.2 487.6 L367.6 487.2 L368.0 486.8 L368.4 486.5 L368.8 486.2 L369.2 485.8 L369.5 485.4 L369.5 484.9 L369.2 484.5 L368.8 484.1 L368.4 483.8 L368.0 483.4 L367.7 483.0 L367.3 482.5 L367.0 482.1 L366.8 481.7 L366.5 481.2 L366.2 480.7 L366.0 480.0 L365.8 479.5 L365.7 479.0 L365.6 478.2 L365.5 477.5 L365.5 477.0 L365.5 476.2 L365.5 475.8 L365.6 475.0 L365.8 474.4 L365.9 473.8 L366.1 473.2 L366.3 472.8 L366.6 472.2 L366.9 471.8 L367.2 471.3 L367.5 471.0 L368.0 470.5 L368.3 470.2 L368.8 469.9 L369.2 469.6 L369.8 469.4 L370.5 469.3 L371.0 469.2 L371.8 469.2 L372.2 469.3 L372.9 469.5 L373.4 469.8 L373.9 470.0 L374.2 470.3 L374.8 470.7 L375.0 471.0 L375.4 471.5 L375.8 472.0 L376.0 472.4 L376.2 472.9 L376.5 473.5 L376.7 474.0 L376.8 474.5 L376.9 475.2 L377.0 476.0 L377.0 476.5 L377.0 477.1 L377.0 477.8 L376.8 478.5 L376.7 479.0 L376.5 479.8 L376.4 480.2 L376.2 480.8 L375.9 481.2 L375.7 481.8 L375.4 482.2 L375.0 482.7 L374.8 483.0 L374.3 483.5 L374.0 483.8 L373.5 484.2 L373.2 484.5 L372.8 485.0 L372.7 485.5 L373.0 485.8 L373.4 486.2 L373.8 486.5 L374.2 487.0 L374.5 487.3 L374.9 487.8 L375.2 488.2 L375.5 488.6 L375.8 489.0 L376.0 489.5 L376.2 490.1 L376.5 490.8 L376.6 491.2 L376.8 491.9 L376.9 492.5 L377.0 493.2 L377.0 494.0 L377.0 494.8 L376.9 495.5 L376.8 496.2 L376.7 496.8 L376.5 497.5 L376.3 498.0 L376.1 498.5 L375.9 499.0 L375.6 499.5 L375.3 500.0 L375.0 500.4 L374.7 500.8 L374.2 501.2 L373.9 501.5 L373.5 501.8 L373.0 502.0 L372.5 502.2 L371.8 502.4 L371.2 502.5Z" fill="#747474" fill-rule="evenodd"/>
<path d="M372.5 482.5 L371.8 482.7 L371.0 482.7 L370.2 482.6 L369.8 482.4 L369.2 482.2 L368.8 481.9 L368.3 481.5 L368.0 481.2 L367.6 480.8 L367.3 480.2 L367.0 479.8 L366.8 479.2 L366.6 478.8 L366.5 478.2 L366.4 477.5 L366.3 476.8 L366.3 476.0 L366.4 475.2 L366.5 474.6 L366.7 474.0 L366.9 473.5 L367.1 473.0 L367.4 472.5 L367.7 472.0 L368.0 471.7 L368.5 471.2 L368.8 471.0 L369.2 470.7 L369.8 470.5 L370.4 470.2 L371.0 470.2 L371.8 470.2 L372.2 470.3 L372.9 470.5 L373.4 470.8 L373.8 471.0 L374.2 471.4 L374.6 471.8 L375.0 472.2 L375.2 472.7 L375.5 473.2 L375.8 473.7 L375.9 474.2 L376.0 474.8 L376.2 475.5 L376.2 476.2 L376.2 477.0 L376.1 477.8 L376.0 478.3 L375.8 479.0 L375.6 479.5 L375.4 480.0 L375.1 480.5 L374.8 481.0 L374.5 481.2 L374.0 481.7 L373.6 482.0 L373.2 482.2 L372.6 482.5Z M371.5 501.3 L370.8 501.3 L370.2 501.2 L369.5 501.0 L369.0 500.8 L368.6 500.5 L368.2 500.2 L367.8 499.8 L367.5 499.5 L367.2 499.0 L366.9 498.5 L366.6 498.0 L366.4 497.5 L366.2 497.0 L366.0 496.2 L366.0 495.8 L365.9 495.0 L365.9 494.2 L365.9 493.5 L366.0 492.9 L366.1 492.2 L366.3 491.8 L366.5 491.2 L366.8 490.7 L367.0 490.2 L367.3 489.8 L367.7 489.2 L368.0 489.0 L368.5 488.6 L369.0 488.3 L369.5 488.1 L370.0 487.9 L370.8 487.8 L371.5 487.8 L372.2 488.0 L372.8 488.2 L373.2 488.4 L373.7 488.8 L374.0 489.0 L374.5 489.5 L374.8 489.8 L375.0 490.2 L375.3 490.8 L375.5 491.2 L375.8 491.9 L375.9 492.5 L376.0 493.0 L376.1 493.8 L376.1 494.5 L376.1 495.2 L376.0 496.0 L375.9 496.5 L375.8 497.0 L375.5 497.7 L375.3 498.2 L375.0 498.7 L374.8 499.1 L374.5 499.5 L374.0 500.0 L373.7 500.2 L373.2 500.6 L372.8 500.9 L372.2 501.1 L371.7 501.2Z" fill="#505050" fill-rule="evenodd"/>
<path d="M372.2 481.3 L371.5 481.4 L370.8 481.4 L370.1 481.2 L369.5 481.0 L369.1 480.8 L368.8 480.4 L368.3 480.0 L368.0 479.6 L367.8 479.1 L367.5 478.6 L367.3 478.0 L367.2 477.5 L367.1 476.8 L367.1 476.0 L367.2 475.2 L367.3 474.8 L367.5 474.0 L367.7 473.5 L368.0 473.0 L368.2 472.7 L368.6 472.2 L369.0 471.9 L369.5 471.6 L370.0 471.3 L370.5 471.2 L371.2 471.1 L372.0 471.2 L372.5 471.3 L373.0 471.5 L373.5 471.9 L373.9 472.2 L374.2 472.6 L374.5 473.0 L374.8 473.5 L375.0 474.0 L375.2 474.6 L375.4 475.2 L375.5 476.0 L375.5 476.8 L375.4 477.5 L375.2 478.0 L375.0 478.7 L374.8 479.2 L374.5 479.6 L374.2 480.0 L373.8 480.5 L373.4 480.8 L373.0 481.0 L372.5 481.2Z M372.0 500.1 L371.2 500.2 L370.5 500.2 L369.8 500.0 L369.2 499.8 L368.9 499.5 L368.5 499.2 L368.1 498.8 L367.8 498.3 L367.5 497.9 L367.2 497.4 L367.0 496.8 L366.9 496.2 L366.8 495.5 L366.7 495.0 L366.7 494.2 L366.8 493.7 L366.9 493.0 L367.0 492.5 L367.2 491.8 L367.5 491.3 L367.8 490.9 L368.1 490.5 L368.5 490.1 L368.9 489.8 L369.4 489.5 L370.0 489.2 L370.5 489.1 L371.2 489.1 L372.0 489.2 L372.5 489.4 L373.0 489.7 L373.4 490.0 L373.8 490.3 L374.1 490.8 L374.4 491.2 L374.7 491.8 L374.9 492.2 L375.1 492.8 L375.2 493.5 L375.3 494.0 L375.3 494.8 L375.3 495.5 L375.2 496.0 L375.0 496.7 L374.8 497.2 L374.6 497.8 L374.3 498.2 L374.0 498.6 L373.7 499.0 L373.2 499.4 L372.8 499.8 L372.2 500.0Z" fill="#2c2c2c" fill-rule="evenodd"/>
<path d="M372.2 480.3 L371.5 480.4 L370.8 480.4 L370.2 480.2 L369.7 480.0 L369.2 479.6 L368.9 479.2 L368.5 478.8 L368.2 478.3 L368.0 477.8 L367.9 477.2 L367.8 476.5 L367.8 475.8 L367.9 475.0 L368.1 474.5 L368.3 474.0 L368.6 473.5 L369.0 473.0 L369.2 472.7 L369.8 472.4 L370.2 472.1 L370.8 472.0 L371.5 471.9 L372.0 472.0 L372.6 472.2 L373.0 472.5 L373.5 472.9 L373.8 473.2 L374.1 473.8 L374.4 474.2 L374.5 474.8 L374.7 475.5 L374.8 476.0 L374.7 476.5 L374.7 477.2 L374.5 477.8 L374.2 478.4 L374.0 478.9 L373.7 479.2 L373.2 479.7 L372.8 480.0 L372.3 480.2Z M371.2 499.3 L370.7 499.2 L370.0 499.1 L369.5 498.8 L369.0 498.5 L368.8 498.2 L368.4 497.8 L368.1 497.2 L367.8 496.8 L367.7 496.2 L367.5 495.5 L367.5 495.0 L367.5 494.2 L367.5 493.8 L367.7 493.0 L367.9 492.5 L368.1 492.0 L368.5 491.5 L368.8 491.2 L369.2 490.8 L369.7 490.5 L370.2 490.3 L370.8 490.2 L371.5 490.2 L372.0 490.4 L372.5 490.6 L373.0 490.9 L373.3 491.2 L373.7 491.8 L374.0 492.2 L374.2 492.8 L374.4 493.2 L374.5 493.9 L374.5 494.5 L374.5 495.2 L374.5 495.8 L374.3 496.5 L374.1 497.0 L373.8 497.5 L373.5 497.9 L373.2 498.2 L372.8 498.7 L372.2 499.0 L371.8 499.2 L371.2 499.3Z" fill="#141414" fill-rule="evenodd"/>
<path d="M372.0 479.3 L371.2 479.4 L370.5 479.2 L370.0 479.0 L369.7 478.8 L369.2 478.3 L369.0 477.8 L368.8 477.2 L368.7 476.8 L368.6 476.0 L368.7 475.2 L368.9 474.8 L369.1 474.2 L369.5 473.8 L369.8 473.5 L370.2 473.1 L370.8 473.0 L371.5 472.9 L372.0 473.0 L372.5 473.2 L373.0 473.7 L373.3 474.0 L373.6 474.5 L373.8 475.0 L373.9 475.8 L373.9 476.5 L373.8 477.2 L373.6 477.8 L373.3 478.2 L373.0 478.6 L372.6 479.0 L372.1 479.2Z M371.8 498.1 L371.0 498.2 L370.2 498.1 L369.8 497.8 L369.4 497.5 L369.0 497.1 L368.8 496.7 L368.5 496.1 L368.3 495.5 L368.3 494.8 L368.3 494.0 L368.5 493.4 L368.8 492.8 L369.0 492.4 L369.3 492.0 L369.8 491.7 L370.2 491.4 L371.0 491.3 L371.8 491.4 L372.2 491.7 L372.7 492.0 L373.0 492.4 L373.2 492.8 L373.5 493.4 L373.7 494.0 L373.7 494.8 L373.7 495.5 L373.5 496.1 L373.2 496.7 L373.0 497.1 L372.6 497.5 L372.2 497.8 L371.8 498.1Z" fill="#444" fill-rule="evenodd"/>
<path d="M371.5 478.5 L371.0 478.5 L370.4 478.2 L370.0 478.0 L369.7 477.5 L369.4 477.0 L369.3 476.2 L369.4 475.5 L369.5 475.0 L369.8 474.5 L370.2 474.1 L370.8 473.8 L371.2 473.7 L371.8 473.8 L372.2 474.0 L372.8 474.5 L373.0 474.9 L373.2 475.5 L373.3 476.0 L373.2 476.5 L373.1 477.2 L372.8 477.8 L372.5 478.0 L372.0 478.4 L371.5 478.5Z M371.2 497.3 L370.6 497.2 L370.0 497.0 L369.7 496.8 L369.4 496.2 L369.2 495.8 L369.0 495.0 L369.0 494.5 L369.1 494.0 L369.2 493.5 L369.5 493.0 L370.0 492.5 L370.5 492.3 L371.0 492.2 L371.5 492.3 L372.0 492.5 L372.5 493.0 L372.8 493.5 L372.9 494.0 L373.0 494.5 L373.0 495.0 L372.8 495.8 L372.6 496.2 L372.3 496.8 L372.0 497.0 L371.4 497.2Z" fill="#999" fill-rule="evenodd"/>
<path d="M371.8 477.6 L371.0 477.6 L370.5 477.3 L370.2 477.0 L370.0 476.2 L370.1 475.5 L370.4 475.0 L370.8 474.7 L371.5 474.6 L372.0 474.8 L372.4 475.2 L372.5 475.8 L372.5 476.5 L372.3 477.0 L372.0 477.4Z M371.5 496.3 L370.8 496.4 L370.2 496.1 L370.0 495.8 L369.8 495.1 L369.7 494.5 L369.9 494.0 L370.2 493.5 L370.5 493.2 L371.2 493.2 L371.8 493.4 L372.0 493.8 L372.2 494.4 L372.3 495.0 L372.1 495.5 L371.8 496.0 L371.5 496.3Z" fill="#f0f0f0" fill-rule="evenodd"/>
<path d="M372.0 506.6 L371.2 506.7 L370.5 506.6 L369.8 506.5 L369.2 506.3 L368.8 506.1 L368.2 505.8 L367.9 505.5 L367.5 505.2 L367.0 504.8 L366.8 504.5 L366.3 504.0 L366.0 503.6 L365.7 503.2 L365.4 502.8 L365.1 502.2 L364.8 501.8 L364.5 501.2 L364.3 500.8 L364.1 500.2 L363.9 499.8 L363.7 499.2 L363.5 498.6 L363.3 498.0 L363.2 497.5 L363.1 496.8 L363.0 496.2 L362.9 495.5 L362.8 494.8 L362.8 494.0 L362.7 493.5 L362.7 492.8 L362.7 492.0 L362.7 491.2 L362.8 490.8 L362.8 490.0 L362.8 489.2 L362.9 488.5 L362.9 487.8 L363.0 487.0 L363.0 486.5 L363.0 485.8 L363.1 485.0 L363.1 484.2 L363.2 483.5 L363.2 482.8 L363.2 482.0 L363.2 481.2 L363.2 480.5 L363.2 479.8 L363.2 479.0 L363.2 478.2 L363.2 477.5 L363.3 477.0 L363.3 476.2 L363.4 475.5 L363.5 475.0 L363.6 474.2 L363.8 473.8 L364.0 473.0 L364.1 472.5 L364.3 472.0 L364.5 471.5 L364.8 471.0 L365.1 470.5 L365.4 470.0 L365.7 469.5 L366.0 469.1 L366.3 468.8 L366.8 468.3 L367.1 468.0 L367.5 467.7 L368.0 467.3 L368.5 467.1 L369.0 466.8 L369.5 466.6 L370.1 466.5 L370.8 466.4 L371.5 466.4 L372.2 466.5 L372.8 466.6 L373.2 466.8 L373.8 467.0 L374.2 467.3 L374.8 467.6 L375.2 468.0 L375.6 468.2 L376.0 468.7 L376.3 469.0 L376.7 469.5 L377.0 469.9 L377.2 470.3 L377.5 470.8 L377.8 471.2 L378.0 471.8 L378.2 472.4 L378.5 473.0 L378.6 473.5 L378.8 474.1 L378.9 474.8 L379.0 475.5 L379.0 476.0 L379.1 476.8 L379.1 477.5 L379.1 478.2 L379.1 479.0 L379.0 479.8 L379.0 480.2 L379.0 481.0 L378.9 481.8 L378.9 482.5 L378.9 483.2 L378.9 484.0 L378.9 484.8 L379.0 485.5 L379.0 486.2 L379.0 486.8 L379.1 487.5 L379.1 488.2 L379.1 489.0 L379.2 489.8 L379.2 490.5 L379.2 491.0 L379.3 491.8 L379.3 492.5 L379.3 493.2 L379.3 494.0 L379.2 494.5 L379.2 495.2 L379.1 496.0 L379.0 496.5 L378.9 497.2 L378.7 497.8 L378.5 498.5 L378.4 499.0 L378.2 499.5 L378.0 500.1 L377.8 500.7 L377.5 501.2 L377.2 501.7 L377.0 502.1 L376.8 502.6 L376.5 503.0 L376.1 503.5 L375.8 503.9 L375.5 504.2 L375.0 504.8 L374.7 505.0 L374.2 505.4 L373.8 505.8 L373.4 506.0 L372.9 506.2 L372.2 506.5Z" fill="none" stroke="#1a1a1a" stroke-width="0.5"/>
<path d="M372.2 503.8 L371.5 504.0 L370.8 504.0 L370.0 503.9 L369.5 503.7 L368.9 503.5 L368.4 503.2 L368.0 503.0 L367.5 502.6 L367.2 502.2 L366.8 501.8 L366.5 501.5 L366.1 501.0 L365.8 500.5 L365.5 500.0 L365.3 499.5 L365.0 499.0 L364.8 498.5 L364.7 498.0 L364.5 497.4 L364.4 496.8 L364.2 496.1 L364.2 495.5 L364.1 494.8 L364.1 494.0 L364.1 493.2 L364.1 492.5 L364.2 491.8 L364.2 491.2 L364.4 490.5 L364.5 489.8 L364.6 489.2 L364.8 488.7 L364.9 488.0 L365.0 487.5 L365.2 486.8 L365.3 486.2 L365.5 485.5 L365.5 485.0 L365.5 484.2 L365.5 483.8 L365.3 483.0 L365.2 482.5 L365.1 481.8 L365.0 481.2 L364.9 480.5 L364.8 479.8 L364.7 479.2 L364.6 478.5 L364.6 477.8 L364.6 477.0 L364.6 476.2 L364.7 475.5 L364.8 475.0 L364.9 474.2 L365.0 473.8 L365.2 473.1 L365.5 472.5 L365.7 472.0 L366.0 471.5 L366.2 471.1 L366.5 470.7 L366.9 470.2 L367.2 469.8 L367.6 469.5 L368.0 469.2 L368.5 468.9 L369.0 468.6 L369.5 468.4 L370.0 468.2 L370.8 468.1 L371.5 468.1 L372.2 468.2 L372.8 468.3 L373.2 468.5 L373.8 468.8 L374.2 469.1 L374.8 469.4 L375.1 469.8 L375.5 470.1 L375.8 470.5 L376.2 471.0 L376.5 471.5 L376.8 472.0 L377.0 472.5 L377.2 473.0 L377.4 473.5 L377.5 474.0 L377.7 474.8 L377.8 475.2 L377.8 476.0 L377.9 476.8 L377.9 477.5 L377.8 478.2 L377.8 478.8 L377.7 479.5 L377.5 480.2 L377.4 480.8 L377.2 481.5 L377.1 482.0 L377.0 482.5 L376.8 483.2 L376.7 483.8 L376.6 484.5 L376.6 485.2 L376.7 486.0 L376.8 486.6 L376.9 487.2 L377.0 487.8 L377.2 488.5 L377.3 489.0 L377.5 489.8 L377.6 490.2 L377.7 491.0 L377.8 491.5 L377.9 492.2 L377.9 493.0 L377.9 493.8 L377.9 494.5 L377.9 495.2 L377.8 496.0 L377.7 496.5 L377.5 497.2 L377.4 497.8 L377.2 498.2 L377.0 498.9 L376.8 499.5 L376.5 500.0 L376.2 500.4 L376.0 500.8 L375.7 501.2 L375.3 501.8 L375.0 502.1 L374.6 502.5 L374.2 502.8 L373.8 503.1 L373.2 503.4 L372.8 503.7 L372.2 503.8Z" fill="none" stroke="#1a1a1a" stroke-width="0.5"/>
<path d="M371.2 502.5 L370.7 502.5 L370.0 502.4 L369.5 502.2 L368.9 502.0 L368.5 501.7 L368.0 501.4 L367.6 501.0 L367.2 500.7 L366.9 500.2 L366.5 499.8 L366.2 499.3 L366.0 498.8 L365.8 498.2 L365.6 497.8 L365.4 497.2 L365.2 496.5 L365.1 496.0 L365.1 495.2 L365.0 494.5 L365.0 493.8 L365.1 493.0 L365.2 492.2 L365.3 491.8 L365.5 491.0 L365.6 490.5 L365.8 490.0 L366.0 489.5 L366.3 489.0 L366.6 488.5 L366.9 488.0 L367.2 487.6 L367.6 487.2 L368.0 486.8 L368.4 486.5 L368.8 486.2 L369.2 485.8 L369.5 485.4 L369.5 484.9 L369.2 484.5 L368.8 484.1 L368.4 483.8 L368.0 483.4 L367.7 483.0 L367.3 482.5 L367.0 482.1 L366.8 481.7 L366.5 481.2 L366.2 480.7 L366.0 480.0 L365.8 479.5 L365.7 479.0 L365.6 478.2 L365.5 477.5 L365.5 477.0 L365.5 476.2 L365.5 475.8 L365.6 475.0 L365.8 474.4 L365.9 473.8 L366.1 473.2 L366.3 472.8 L366.6 472.2 L366.9 471.8 L367.2 471.3 L367.5 471.0 L368.0 470.5 L368.3 470.2 L368.8 469.9 L369.2 469.6 L369.8 469.4 L370.5 469.3 L371.0 469.2 L371.8 469.2 L372.2 469.3 L372.9 469.5 L373.4 469.8 L373.9 470.0 L374.2 470.3 L374.8 470.7 L375.0 471.0 L375.4 471.5 L375.8 472.0 L376.0 472.4 L376.2 472.9 L376.5 473.5 L376.7 474.0 L376.8 474.5 L376.9 475.2 L377.0 476.0 L377.0 476.5 L377.0 477.1 L377.0 477.8 L376.8 478.5 L376.7 479.0 L376.5 479.8 L376.4 480.2 L376.2 480.8 L375.9 481.2 L375.7 481.8 L375.4 482.2 L375.0 482.7 L374.8 483.0 L374.3 483.5 L374.0 483.8 L373.5 484.2 L373.2 484.5 L372.8 485.0 L372.7 485.5 L373.0 485.8 L373.4 486.2 L373.8 486.5 L374.2 487.0 L374.5 487.3 L374.9 487.8 L375.2 488.2 L375.5 488.6 L375.8 489.0 L376.0 489.5 L376.2 490.1 L376.5 490.8 L376.6 491.2 L376.8 491.9 L376.9 492.5 L377.0 493.2 L377.0 494.0 L377.0 494.8 L376.9 495.5 L376.8 496.2 L376.7 496.8 L376.5 497.5 L376.3 498.0 L376.1 498.5 L375.9 499.0 L375.6 499.5 L375.3 500.0 L375.0 500.4 L374.7 500.8 L374.2 501.2 L373.9 501.5 L373.5 501.8 L373.0 502.0 L372.5 502.2 L371.8 502.4 L371.2 502.5Z" fill="none" stroke="#1a1a1a" stroke-width="0.5"/>
<path d="M372.5 482.5 L371.8 482.7 L371.0 482.7 L370.2 482.6 L369.8 482.4 L369.2 482.2 L368.8 481.9 L368.3 481.5 L368.0 481.2 L367.6 480.8 L367.3 480.2 L367.0 479.8 L366.8 479.2 L366.6 478.8 L366.5 478.2 L366.4 477.5 L366.3 476.8 L366.3 476.0 L366.4 475.2 L366.5 474.6 L366.7 474.0 L366.9 473.5 L367.1 473.0 L367.4 472.5 L367.7 472.0 L368.0 471.7 L368.5 471.2 L368.8 471.0 L369.2 470.7 L369.8 470.5 L370.4 470.2 L371.0 470.2 L371.8 470.2 L372.2 470.3 L372.9 470.5 L373.4 470.8 L373.8 471.0 L374.2 471.4 L374.6 471.8 L375.0 472.2 L375.2 472.7 L375.5 473.2 L375.8 473.7 L375.9 474.2 L376.0 474.8 L376.2 475.5 L376.2 476.2 L376.2 477.0 L376.1 477.8 L376.0 478.3 L375.8 479.0 L375.6 479.5 L375.4 480.0 L375.1 480.5 L374.8 481.0 L374.5 481.2 L374.0 481.7 L373.6 482.0 L373.2 482.2 L372.6 482.5Z M371.5 501.3 L370.8 501.3 L370.2 501.2 L369.5 501.0 L369.0 500.8 L368.6 500.5 L368.2 500.2 L367.8 499.8 L367.5 499.5 L367.2 499.0 L366.9 498.5 L366.6 498.0 L366.4 497.5 L366.2 497.0 L366.0 496.2 L366.0 495.8 L365.9 495.0 L365.9 494.2 L365.9 493.5 L366.0 492.9 L366.1 492.2 L366.3 491.8 L366.5 491.2 L366.8 490.7 L367.0 490.2 L367.3 489.8 L367.7 489.2 L368.0 489.0 L368.5 488.6 L369.0 488.3 L369.5 488.1 L370.0 487.9 L370.8 487.8 L371.5 487.8 L372.2 488.0 L372.8 488.2 L373.2 488.4 L373.7 488.8 L374.0 489.0 L374.5 489.5 L374.8 489.8 L375.0 490.2 L375.3 490.8 L375.5 491.2 L375.8 491.9 L375.9 492.5 L376.0 493.0 L376.1 493.8 L376.1 494.5 L376.1 495.2 L376.0 496.0 L375.9 496.5 L375.8 497.0 L375.5 497.7 L375.3 498.2 L375.0 498.7 L374.8 499.1 L374.5 499.5 L374.0 500.0 L373.7 500.2 L373.2 500.6 L372.8 500.9 L372.2 501.1 L371.7 501.2Z" fill="none" stroke="#1a1a1a" stroke-width="0.5"/>
</g>
<circle cx="475.4" cy="449.4" r="0.35" fill="#aaa"/>
<circle cx="452.4" cy="454.0" r="0.35" fill="#aaa"/>
<circle cx="456.9" cy="464.1" r="0.35" fill="#aaa"/>
<circle cx="475.3" cy="460.5" r="0.35" fill="#aaa"/>
<circle cx="469.6" cy="463.1" r="0.35" fill="#aaa"/>
<circle cx="463.9" cy="457.9" r="0.35" fill="#aaa"/>
<circle cx="476.5" cy="465.7" r="0.35" fill="#aaa"/>
<circle cx="459.3" cy="484.0" r="0.35" fill="#aaa"/>
<circle cx="464.1" cy="469.3" r="0.35" fill="#aaa"/>
<circle cx="462.1" cy="459.4" r="0.35" fill="#aaa"/>
<circle cx="454.5" cy="464.6" r="0.35" fill="#aaa"/>
<circle cx="472.6" cy="469.3" r="0.35" fill="#aaa"/>
<circle cx="462.0" cy="474.4" r="0.35" fill="#aaa"/>
<circle cx="457.5" cy="476.9" r="0.35" fill="#aaa"/>
<circle cx="462.9" cy="459.4" r="0.35" fill="#aaa"/>
<circle cx="467.0" cy="470.1" r="0.35" fill="#aaa"/>
<circle cx="461.0" cy="467.7" r="0.35" fill="#aaa"/>
<circle cx="468.8" cy="477.1" r="0.35" fill="#aaa"/>
<circle cx="475.2" cy="463.9" r="0.35" fill="#aaa"/>
<circle cx="460.5" cy="469.4" r="0.35" fill="#aaa"/>
<circle cx="460.5" cy="474.3" r="0.35" fill="#aaa"/>
<circle cx="455.6" cy="464.4" r="0.35" fill="#aaa"/>
<circle cx="455.5" cy="478.1" r="0.35" fill="#aaa"/>
<circle cx="461.5" cy="474.7" r="0.35" fill="#aaa"/>
<circle cx="471.2" cy="456.5" r="0.35" fill="#aaa"/>
<circle cx="461.7" cy="471.7" r="0.35" fill="#aaa"/>
<circle cx="463.3" cy="464.9" r="0.35" fill="#aaa"/>
<circle cx="468.0" cy="473.2" r="0.35" fill="#aaa"/>
<circle cx="459.5" cy="464.9" r="0.35" fill="#aaa"/>
<circle cx="466.9" cy="467.7" r="0.35" fill="#aaa"/>
<circle cx="463.8" cy="457.1" r="0.35" fill="#aaa"/>
<circle cx="473.4" cy="464.2" r="0.35" fill="#aaa"/>
<circle cx="464.6" cy="465.7" r="0.35" fill="#aaa"/>
<circle cx="463.4" cy="467.2" r="0.35" fill="#aaa"/>
<circle cx="458.0" cy="469.0" r="0.35" fill="#aaa"/>
<circle cx="470.2" cy="469.2" r="0.35" fill="#aaa"/>
<circle cx="467.3" cy="469.8" r="0.35" fill="#aaa"/>
<circle cx="463.2" cy="480.4" r="0.35" fill="#aaa"/>
<circle cx="458.9" cy="469.1" r="0.35" fill="#aaa"/>
<circle cx="469.1" cy="468.3" r="0.35" fill="#aaa"/>
<circle cx="456.7" cy="457.4" r="0.35" fill="#aaa"/>
<circle cx="472.3" cy="458.4" r="0.35" fill="#aaa"/>
<circle cx="463.1" cy="470.3" r="0.35" fill="#aaa"/>
<circle cx="463.6" cy="451.9" r="0.35" fill="#aaa"/>
<circle cx="451.7" cy="465.2" r="0.35" fill="#aaa"/>
<circle cx="458.4" cy="463.9" r="0.35" fill="#aaa"/>
<circle cx="463.5" cy="467.3" r="0.35" fill="#aaa"/>
<circle cx="455.0" cy="452.6" r="0.35" fill="#aaa"/>
<circle cx="468.6" cy="461.0" r="0.35" fill="#aaa"/>
<circle cx="456.0" cy="450.1" r="0.35" fill="#aaa"/>
<circle cx="466.2" cy="456.0" r="0.35" fill="#aaa"/>
<circle cx="456.8" cy="471.0" r="0.35" fill="#aaa"/>
<circle cx="464.8" cy="470.5" r="0.35" fill="#aaa"/>
<circle cx="457.1" cy="463.6" r="0.35" fill="#aaa"/>
<circle cx="459.1" cy="473.1" r="0.35" fill="#aaa"/>
<circle cx="465.2" cy="457.7" r="0.35" fill="#aaa"/>
<circle cx="466.4" cy="464.8" r="0.35" fill="#aaa"/>
<circle cx="460.1" cy="474.9" r="0.35" fill="#aaa"/>
<g clip-path="url(#k6)">
<path d="M459.0 506.8 L458.2 506.9 L457.5 506.9 L456.8 506.8 L456.2 506.7 L455.8 506.5 L455.2 506.2 L454.8 505.9 L454.2 505.6 L453.9 505.2 L453.5 504.9 L453.1 504.5 L452.8 504.1 L452.4 503.8 L452.0 503.2 L451.8 502.8 L451.5 502.4 L451.2 502.0 L451.0 501.5 L450.7 501.0 L450.5 500.5 L450.2 500.0 L450.0 499.3 L449.8 498.8 L449.7 498.2 L449.5 497.5 L449.4 497.0 L449.3 496.2 L449.2 495.8 L449.1 495.0 L449.0 494.2 L449.0 493.6 L449.0 493.0 L449.0 492.2 L449.0 491.5 L449.0 491.0 L449.0 490.2 L449.1 489.5 L449.1 488.8 L449.2 488.0 L449.2 487.2 L449.3 486.8 L449.3 486.0 L449.4 485.2 L449.4 484.5 L449.5 483.8 L449.5 483.1 L449.5 482.5 L449.5 481.8 L449.5 481.2 L449.5 480.5 L449.5 479.8 L449.4 479.0 L449.5 478.2 L449.5 477.5 L449.5 477.0 L449.6 476.2 L449.8 475.6 L449.9 475.0 L450.1 474.5 L450.3 474.0 L450.5 473.5 L450.8 473.0 L451.0 472.5 L451.4 472.0 L451.8 471.5 L452.0 471.2 L452.5 470.8 L452.8 470.5 L453.2 470.2 L453.8 469.8 L454.2 469.6 L454.8 469.3 L455.2 469.1 L455.8 469.0 L456.5 468.8 L457.2 468.8 L458.0 468.8 L458.8 469.0 L459.2 469.1 L459.8 469.3 L460.2 469.5 L460.8 469.8 L461.2 470.2 L461.6 470.5 L462.0 470.9 L462.4 471.2 L462.8 471.7 L463.0 472.1 L463.3 472.5 L463.6 473.0 L463.9 473.5 L464.1 474.0 L464.3 474.5 L464.5 475.0 L464.8 475.7 L464.9 476.2 L465.1 476.8 L465.2 477.5 L465.4 478.0 L465.5 478.6 L465.6 479.2 L465.8 479.9 L465.9 480.5 L466.0 481.2 L466.1 481.8 L466.2 482.5 L466.3 483.0 L466.4 483.8 L466.4 484.5 L466.5 485.1 L466.6 485.8 L466.6 486.5 L466.6 487.2 L466.7 488.0 L466.7 488.8 L466.7 489.5 L466.7 490.2 L466.6 491.0 L466.6 491.8 L466.5 492.5 L466.5 493.0 L466.4 493.8 L466.3 494.5 L466.2 495.0 L466.1 495.8 L466.0 496.2 L465.8 497.0 L465.7 497.5 L465.5 498.2 L465.4 498.8 L465.2 499.2 L465.0 499.8 L464.8 500.5 L464.5 501.0 L464.3 501.5 L464.1 502.0 L463.8 502.5 L463.5 503.0 L463.2 503.4 L463.0 503.8 L462.6 504.2 L462.2 504.7 L461.9 505.0 L461.5 505.4 L461.1 505.8 L460.7 506.0 L460.2 506.3 L459.8 506.5 L459.1 506.8Z" fill="#c8c8c8" fill-rule="evenodd"/>
<path d="M459.0 504.8 L458.2 504.9 L457.5 505.0 L456.8 504.9 L456.2 504.8 L455.5 504.5 L455.0 504.2 L454.6 504.0 L454.2 503.7 L453.8 503.3 L453.4 503.0 L453.0 502.5 L452.8 502.2 L452.4 501.8 L452.1 501.2 L451.8 500.8 L451.5 500.2 L451.3 499.8 L451.1 499.2 L450.9 498.8 L450.7 498.2 L450.5 497.6 L450.4 497.0 L450.2 496.5 L450.1 495.8 L450.0 495.0 L450.0 494.5 L449.9 493.8 L449.9 493.0 L449.9 492.2 L450.0 491.5 L450.0 490.9 L450.1 490.2 L450.1 489.5 L450.2 488.8 L450.3 488.2 L450.4 487.5 L450.5 486.8 L450.5 486.2 L450.6 485.5 L450.6 484.8 L450.6 484.0 L450.6 483.2 L450.6 482.5 L450.6 481.8 L450.5 481.0 L450.5 480.5 L450.4 479.8 L450.4 479.0 L450.5 478.2 L450.5 477.6 L450.6 477.0 L450.7 476.2 L450.8 475.8 L451.0 475.1 L451.2 474.5 L451.5 474.0 L451.7 473.5 L452.0 473.1 L452.2 472.7 L452.6 472.2 L453.0 471.9 L453.4 471.5 L453.8 471.2 L454.2 470.9 L454.8 470.7 L455.2 470.4 L455.9 470.2 L456.5 470.1 L457.2 470.1 L458.0 470.1 L458.5 470.2 L459.2 470.5 L459.8 470.7 L460.2 471.0 L460.6 471.2 L461.0 471.6 L461.4 472.0 L461.8 472.3 L462.1 472.8 L462.4 473.2 L462.8 473.7 L463.0 474.2 L463.2 474.7 L463.5 475.2 L463.6 475.8 L463.8 476.2 L464.0 477.0 L464.1 477.5 L464.2 478.1 L464.4 478.8 L464.5 479.5 L464.6 480.0 L464.7 480.8 L464.8 481.5 L464.8 482.0 L464.9 482.8 L465.0 483.5 L465.1 484.0 L465.1 484.8 L465.2 485.5 L465.3 486.0 L465.3 486.8 L465.4 487.5 L465.4 488.2 L465.4 489.0 L465.4 489.8 L465.4 490.5 L465.4 491.2 L465.4 492.0 L465.3 492.8 L465.2 493.4 L465.2 494.0 L465.1 494.8 L465.0 495.3 L464.9 496.0 L464.8 496.5 L464.6 497.2 L464.4 497.8 L464.2 498.3 L464.0 499.0 L463.8 499.5 L463.6 500.0 L463.3 500.5 L463.1 501.0 L462.8 501.5 L462.5 501.9 L462.2 502.3 L461.9 502.8 L461.5 503.2 L461.1 503.5 L460.8 503.8 L460.2 504.2 L459.8 504.5 L459.2 504.7Z" fill="#9a9a9a" fill-rule="evenodd"/>
<path d="M458.5 503.3 L457.8 503.5 L457.0 503.5 L456.2 503.3 L455.8 503.2 L455.2 503.0 L454.8 502.7 L454.2 502.3 L453.9 502.0 L453.5 501.6 L453.2 501.2 L452.8 500.8 L452.5 500.3 L452.2 499.9 L452.0 499.4 L451.8 498.9 L451.5 498.3 L451.3 497.8 L451.2 497.2 L451.0 496.5 L450.9 496.0 L450.8 495.2 L450.7 494.8 L450.7 494.0 L450.7 493.2 L450.7 492.5 L450.8 492.0 L450.8 491.2 L450.9 490.5 L451.0 490.0 L451.2 489.2 L451.3 488.8 L451.5 488.0 L451.7 487.5 L451.8 487.0 L452.0 486.2 L452.1 485.8 L452.1 485.0 L452.0 484.2 L451.9 483.8 L451.8 483.0 L451.6 482.5 L451.5 481.8 L451.4 481.2 L451.3 480.5 L451.2 480.0 L451.2 479.2 L451.2 478.5 L451.2 477.8 L451.2 477.2 L451.4 476.5 L451.5 476.0 L451.7 475.2 L451.9 474.8 L452.2 474.2 L452.5 473.8 L452.8 473.3 L453.0 473.0 L453.5 472.5 L453.8 472.2 L454.2 471.9 L454.8 471.6 L455.2 471.4 L455.8 471.2 L456.5 471.0 L457.2 471.0 L458.0 471.1 L458.7 471.2 L459.2 471.5 L459.7 471.8 L460.1 472.0 L460.5 472.3 L461.0 472.8 L461.2 473.1 L461.6 473.5 L461.9 474.0 L462.2 474.5 L462.5 475.0 L462.7 475.5 L462.8 476.0 L463.0 476.6 L463.2 477.2 L463.2 477.8 L463.3 478.5 L463.4 479.2 L463.4 480.0 L463.4 480.8 L463.3 481.5 L463.3 482.2 L463.2 482.8 L463.1 483.5 L463.0 484.2 L463.0 484.8 L463.0 485.5 L463.0 486.0 L463.2 486.8 L463.3 487.2 L463.5 488.0 L463.6 488.5 L463.7 489.2 L463.8 489.8 L463.9 490.5 L464.0 491.2 L464.0 491.8 L464.0 492.5 L464.0 493.2 L464.0 494.0 L464.0 494.5 L463.9 495.2 L463.8 495.9 L463.6 496.5 L463.5 497.0 L463.3 497.8 L463.1 498.2 L462.9 498.8 L462.7 499.2 L462.5 499.8 L462.2 500.2 L461.8 500.8 L461.5 501.2 L461.2 501.5 L460.8 502.0 L460.5 502.2 L460.0 502.6 L459.5 502.9 L459.0 503.2 L458.5 503.3Z" fill="#747474" fill-rule="evenodd"/>
<path d="M458.0 502.0 L457.2 502.1 L456.5 502.1 L456.0 502.0 L455.4 501.8 L455.0 501.5 L454.5 501.2 L454.0 500.8 L453.7 500.5 L453.3 500.0 L453.0 499.5 L452.8 499.1 L452.5 498.7 L452.2 498.1 L452.0 497.5 L451.9 497.0 L451.7 496.5 L451.6 495.8 L451.5 495.0 L451.5 494.5 L451.5 493.8 L451.5 493.0 L451.5 492.5 L451.7 491.8 L451.8 491.2 L452.0 490.5 L452.2 490.0 L452.4 489.5 L452.6 489.0 L453.0 488.5 L453.2 488.1 L453.5 487.8 L454.0 487.3 L454.3 487.0 L454.8 486.6 L455.2 486.2 L455.5 485.9 L455.6 485.2 L455.2 484.9 L454.8 484.5 L454.5 484.2 L454.0 483.8 L453.7 483.5 L453.3 483.0 L453.0 482.6 L452.8 482.1 L452.5 481.6 L452.3 481.0 L452.1 480.5 L452.0 479.9 L451.9 479.2 L451.9 478.5 L451.9 477.8 L452.0 477.0 L452.1 476.5 L452.2 475.8 L452.5 475.2 L452.7 474.8 L453.0 474.2 L453.2 473.9 L453.6 473.5 L454.0 473.1 L454.4 472.8 L454.8 472.5 L455.2 472.2 L455.9 472.0 L456.5 471.9 L457.2 471.9 L458.0 472.0 L458.5 472.1 L459.0 472.3 L459.5 472.6 L460.0 473.0 L460.3 473.2 L460.8 473.7 L461.0 474.1 L461.3 474.5 L461.6 475.0 L461.8 475.5 L462.0 476.1 L462.2 476.8 L462.3 477.2 L462.3 478.0 L462.3 478.8 L462.3 479.5 L462.2 480.0 L462.0 480.7 L461.8 481.2 L461.5 481.8 L461.2 482.2 L461.0 482.5 L460.6 483.0 L460.2 483.4 L459.8 483.8 L459.5 484.0 L459.0 484.4 L458.5 484.8 L458.2 485.0 L457.9 485.5 L458.2 486.0 L458.5 486.3 L459.0 486.7 L459.4 487.0 L459.8 487.3 L460.2 487.8 L460.5 488.1 L460.9 488.5 L461.2 489.0 L461.5 489.4 L461.8 489.9 L462.0 490.4 L462.2 491.0 L462.4 491.5 L462.5 492.0 L462.6 492.8 L462.7 493.5 L462.7 494.2 L462.7 495.0 L462.6 495.8 L462.5 496.3 L462.3 497.0 L462.2 497.5 L462.0 498.0 L461.8 498.6 L461.5 499.1 L461.2 499.5 L460.9 500.0 L460.5 500.5 L460.2 500.8 L459.8 501.2 L459.3 501.5 L458.8 501.8 L458.2 502.0Z" fill="#505050" fill-rule="evenodd"/>
<path d="M457.5 483.0 L456.8 483.1 L456.1 483.0 L455.5 482.8 L455.0 482.6 L454.5 482.3 L454.1 482.0 L453.8 481.6 L453.5 481.2 L453.2 480.8 L453.0 480.2 L452.8 479.6 L452.6 479.0 L452.6 478.2 L452.6 477.5 L452.7 476.8 L452.8 476.2 L453.0 475.7 L453.2 475.2 L453.5 474.7 L453.9 474.2 L454.2 473.8 L454.6 473.5 L455.0 473.2 L455.5 473.0 L456.2 472.8 L456.8 472.7 L457.5 472.7 L458.0 472.8 L458.5 473.0 L459.0 473.3 L459.5 473.6 L459.9 474.0 L460.2 474.4 L460.5 474.8 L460.8 475.2 L461.0 475.8 L461.2 476.5 L461.4 477.0 L461.4 477.8 L461.4 478.5 L461.3 479.2 L461.1 479.8 L460.9 480.2 L460.7 480.8 L460.3 481.2 L460.0 481.6 L459.6 482.0 L459.2 482.3 L458.8 482.6 L458.2 482.8 L457.6 483.0Z M457.8 500.8 L457.0 500.9 L456.2 500.8 L455.8 500.7 L455.2 500.4 L454.8 500.1 L454.3 499.8 L454.0 499.4 L453.7 499.0 L453.4 498.5 L453.1 498.0 L452.9 497.5 L452.7 497.0 L452.5 496.4 L452.4 495.8 L452.3 495.0 L452.3 494.2 L452.3 493.5 L452.4 492.8 L452.5 492.2 L452.7 491.5 L452.9 491.0 L453.2 490.5 L453.5 490.0 L453.8 489.7 L454.2 489.2 L454.5 489.0 L455.0 488.6 L455.5 488.4 L456.0 488.2 L456.8 488.1 L457.5 488.2 L458.0 488.4 L458.5 488.6 L459.0 488.9 L459.5 489.2 L459.8 489.5 L460.2 490.0 L460.5 490.5 L460.8 490.9 L461.0 491.4 L461.2 492.0 L461.4 492.5 L461.5 493.2 L461.6 493.8 L461.6 494.5 L461.6 495.2 L461.5 495.9 L461.4 496.5 L461.2 497.0 L461.0 497.7 L460.8 498.2 L460.5 498.6 L460.2 499.0 L459.8 499.5 L459.5 499.8 L459.0 500.2 L458.5 500.5 L458.0 500.7Z" fill="#2c2c2c" fill-rule="evenodd"/>
<path d="M457.8 481.8 L457.0 481.9 L456.2 481.9 L455.8 481.7 L455.2 481.5 L454.8 481.2 L454.3 480.8 L454.0 480.4 L453.8 480.0 L453.5 479.4 L453.3 478.8 L453.3 478.0 L453.3 477.2 L453.4 476.5 L453.6 476.0 L453.8 475.5 L454.2 475.0 L454.5 474.6 L454.9 474.2 L455.2 474.0 L455.8 473.7 L456.5 473.5 L457.0 473.5 L457.5 473.5 L458.2 473.8 L458.7 474.0 L459.0 474.2 L459.5 474.7 L459.8 475.0 L460.1 475.5 L460.3 476.0 L460.5 476.7 L460.6 477.2 L460.6 478.0 L460.5 478.7 L460.3 479.2 L460.1 479.8 L459.8 480.2 L459.5 480.7 L459.2 481.0 L458.8 481.3 L458.2 481.6 L457.8 481.8Z M457.0 499.8 L456.5 499.7 L455.8 499.5 L455.2 499.3 L454.9 499.0 L454.5 498.6 L454.2 498.2 L453.9 497.8 L453.6 497.2 L453.4 496.8 L453.2 496.2 L453.1 495.5 L453.0 494.8 L453.0 494.0 L453.1 493.2 L453.3 492.8 L453.5 492.0 L453.7 491.5 L454.0 491.1 L454.3 490.8 L454.8 490.3 L455.1 490.0 L455.5 489.8 L456.2 489.5 L456.8 489.5 L457.2 489.5 L458.0 489.7 L458.5 490.0 L458.9 490.2 L459.2 490.6 L459.6 491.0 L459.9 491.5 L460.1 492.0 L460.3 492.5 L460.5 493.0 L460.6 493.8 L460.7 494.5 L460.7 495.2 L460.6 496.0 L460.4 496.5 L460.2 497.0 L460.0 497.6 L459.8 498.0 L459.4 498.5 L459.0 498.9 L458.6 499.2 L458.1 499.5 L457.5 499.7 L457.0 499.8Z" fill="#141414" fill-rule="evenodd"/>
<path d="M457.5 480.8 L456.8 480.9 L456.1 480.8 L455.5 480.5 L455.2 480.2 L454.8 479.8 L454.5 479.5 L454.2 479.0 L454.1 478.2 L454.0 477.5 L454.2 476.8 L454.3 476.2 L454.6 475.8 L455.0 475.2 L455.2 475.0 L455.8 474.6 L456.2 474.4 L457.0 474.4 L457.8 474.5 L458.2 474.7 L458.6 475.0 L459.0 475.4 L459.2 475.8 L459.5 476.3 L459.7 477.0 L459.7 477.8 L459.6 478.5 L459.5 479.0 L459.2 479.5 L458.8 480.0 L458.5 480.3 L458.0 480.6 L457.5 480.8Z M457.5 498.5 L456.8 498.6 L456.2 498.5 L455.6 498.2 L455.2 498.0 L454.8 497.5 L454.5 497.0 L454.2 496.5 L454.1 496.0 L454.0 495.5 L453.9 494.8 L453.9 494.0 L454.0 493.5 L454.2 492.8 L454.5 492.2 L454.8 491.8 L455.0 491.5 L455.5 491.1 L456.0 490.9 L456.5 490.7 L457.2 490.8 L457.8 490.9 L458.2 491.2 L458.6 491.5 L459.0 492.0 L459.2 492.4 L459.5 493.0 L459.6 493.5 L459.8 494.2 L459.8 494.8 L459.7 495.2 L459.6 496.0 L459.4 496.5 L459.2 497.0 L458.9 497.5 L458.5 497.9 L458.1 498.2 L457.5 498.5Z" fill="#444" fill-rule="evenodd"/>
<path d="M457.0 480.0 L456.5 480.0 L455.8 479.8 L455.5 479.5 L455.1 479.0 L454.8 478.5 L454.7 478.0 L454.7 477.2 L454.8 476.8 L455.0 476.2 L455.4 475.8 L455.8 475.5 L456.2 475.2 L457.0 475.1 L457.6 475.2 L458.1 475.5 L458.5 475.9 L458.8 476.3 L459.0 477.0 L459.0 477.5 L459.0 478.0 L458.8 478.8 L458.5 479.2 L458.2 479.5 L457.8 479.8 L457.1 480.0Z M457.5 497.5 L456.8 497.6 L456.2 497.5 L455.7 497.2 L455.2 496.8 L455.0 496.4 L454.8 495.8 L454.6 495.2 L454.6 494.5 L454.7 493.8 L454.9 493.2 L455.1 492.8 L455.5 492.3 L455.8 492.0 L456.4 491.8 L457.0 491.7 L457.5 491.9 L458.0 492.2 L458.3 492.5 L458.6 493.0 L458.9 493.5 L459.0 494.1 L459.0 494.8 L459.0 495.2 L458.8 496.0 L458.6 496.5 L458.2 496.9 L457.9 497.2 L457.5 497.5Z" fill="#999" fill-rule="evenodd"/>
<path d="M457.5 479.1 L456.8 479.2 L456.1 479.0 L455.8 478.7 L455.5 478.2 L455.4 477.5 L455.5 476.8 L455.8 476.4 L456.2 476.0 L456.8 475.8 L457.5 476.0 L457.8 476.2 L458.2 476.8 L458.3 477.2 L458.3 478.0 L458.1 478.5 L457.8 478.9Z M457.2 496.6 L456.5 496.7 L456.0 496.4 L455.7 496.0 L455.4 495.5 L455.3 494.8 L455.4 494.0 L455.6 493.5 L456.0 493.0 L456.4 492.8 L457.0 492.7 L457.5 492.9 L457.9 493.2 L458.1 493.8 L458.3 494.2 L458.3 495.0 L458.2 495.5 L458.0 496.0 L457.5 496.5Z" fill="#f0f0f0" fill-rule="evenodd"/>
<path d="M459.0 506.8 L458.2 506.9 L457.5 506.9 L456.8 506.8 L456.2 506.7 L455.8 506.5 L455.2 506.2 L454.8 505.9 L454.2 505.6 L453.9 505.2 L453.5 504.9 L453.1 504.5 L452.8 504.1 L452.4 503.8 L452.0 503.2 L451.8 502.8 L451.5 502.4 L451.2 502.0 L451.0 501.5 L450.7 501.0 L450.5 500.5 L450.2 500.0 L450.0 499.3 L449.8 498.8 L449.7 498.2 L449.5 497.5 L449.4 497.0 L449.3 496.2 L449.2 495.8 L449.1 495.0 L449.0 494.2 L449.0 493.6 L449.0 493.0 L449.0 492.2 L449.0 491.5 L449.0 491.0 L449.0 490.2 L449.1 489.5 L449.1 488.8 L449.2 488.0 L449.2 487.2 L449.3 486.8 L449.3 486.0 L449.4 485.2 L449.4 484.5 L449.5 483.8 L449.5 483.1 L449.5 482.5 L449.5 481.8 L449.5 481.2 L449.5 480.5 L449.5 479.8 L449.4 479.0 L449.5 478.2 L449.5 477.5 L449.5 477.0 L449.6 476.2 L449.8 475.6 L449.9 475.0 L450.1 474.5 L450.3 474.0 L450.5 473.5 L450.8 473.0 L451.0 472.5 L451.4 472.0 L451.8 471.5 L452.0 471.2 L452.5 470.8 L452.8 470.5 L453.2 470.2 L453.8 469.8 L454.2 469.6 L454.8 469.3 L455.2 469.1 L455.8 469.0 L456.5 468.8 L457.2 468.8 L458.0 468.8 L458.8 469.0 L459.2 469.1 L459.8 469.3 L460.2 469.5 L460.8 469.8 L461.2 470.2 L461.6 470.5 L462.0 470.9 L462.4 471.2 L462.8 471.7 L463.0 472.1 L463.3 472.5 L463.6 473.0 L463.9 473.5 L464.1 474.0 L464.3 474.5 L464.5 475.0 L464.8 475.7 L464.9 476.2 L465.1 476.8 L465.2 477.5 L465.4 478.0 L465.5 478.6 L465.6 479.2 L465.8 479.9 L465.9 480.5 L466.0 481.2 L466.1 481.8 L466.2 482.5 L466.3 483.0 L466.4 483.8 L466.4 484.5 L466.5 485.1 L466.6 485.8 L466.6 486.5 L466.6 487.2 L466.7 488.0 L466.7 488.8 L466.7 489.5 L466.7 490.2 L466.6 491.0 L466.6 491.8 L466.5 492.5 L466.5 493.0 L466.4 493.8 L466.3 494.5 L466.2 495.0 L466.1 495.8 L466.0 496.2 L465.8 497.0 L465.7 497.5 L465.5 498.2 L465.4 498.8 L465.2 499.2 L465.0 499.8 L464.8 500.5 L464.5 501.0 L464.3 501.5 L464.1 502.0 L463.8 502.5 L463.5 503.0 L463.2 503.4 L463.0 503.8 L462.6 504.2 L462.2 504.7 L461.9 505.0 L461.5 505.4 L461.1 505.8 L460.7 506.0 L460.2 506.3 L459.8 506.5 L459.1 506.8Z" fill="none" stroke="#1a1a1a" stroke-width="0.5"/>
<path d="M459.0 504.8 L458.2 504.9 L457.5 505.0 L456.8 504.9 L456.2 504.8 L455.5 504.5 L455.0 504.2 L454.6 504.0 L454.2 503.7 L453.8 503.3 L453.4 503.0 L453.0 502.5 L452.8 502.2 L452.4 501.8 L452.1 501.2 L451.8 500.8 L451.5 500.2 L451.3 499.8 L451.1 499.2 L450.9 498.8 L450.7 498.2 L450.5 497.6 L450.4 497.0 L450.2 496.5 L450.1 495.8 L450.0 495.0 L450.0 494.5 L449.9 493.8 L449.9 493.0 L449.9 492.2 L450.0 491.5 L450.0 490.9 L450.1 490.2 L450.1 489.5 L450.2 488.8 L450.3 488.2 L450.4 487.5 L450.5 486.8 L450.5 486.2 L450.6 485.5 L450.6 484.8 L450.6 484.0 L450.6 483.2 L450.6 482.5 L450.6 481.8 L450.5 481.0 L450.5 480.5 L450.4 479.8 L450.4 479.0 L450.5 478.2 L450.5 477.6 L450.6 477.0 L450.7 476.2 L450.8 475.8 L451.0 475.1 L451.2 474.5 L451.5 474.0 L451.7 473.5 L452.0 473.1 L452.2 472.7 L452.6 472.2 L453.0 471.9 L453.4 471.5 L453.8 471.2 L454.2 470.9 L454.8 470.7 L455.2 470.4 L455.9 470.2 L456.5 470.1 L457.2 470.1 L458.0 470.1 L458.5 470.2 L459.2 470.5 L459.8 470.7 L460.2 471.0 L460.6 471.2 L461.0 471.6 L461.4 472.0 L461.8 472.3 L462.1 472.8 L462.4 473.2 L462.8 473.7 L463.0 474.2 L463.2 474.7 L463.5 475.2 L463.6 475.8 L463.8 476.2 L464.0 477.0 L464.1 477.5 L464.2 478.1 L464.4 478.8 L464.5 479.5 L464.6 480.0 L464.7 480.8 L464.8 481.5 L464.8 482.0 L464.9 482.8 L465.0 483.5 L465.1 484.0 L465.1 484.8 L465.2 485.5 L465.3 486.0 L465.3 486.8 L465.4 487.5 L465.4 488.2 L465.4 489.0 L465.4 489.8 L465.4 490.5 L465.4 491.2 L465.4 492.0 L465.3 492.8 L465.2 493.4 L465.2 494.0 L465.1 494.8 L465.0 495.3 L464.9 496.0 L464.8 496.5 L464.6 497.2 L464.4 497.8 L464.2 498.3 L464.0 499.0 L463.8 499.5 L463.6 500.0 L463.3 500.5 L463.1 501.0 L462.8 501.5 L462.5 501.9 L462.2 502.3 L461.9 502.8 L461.5 503.2 L461.1 503.5 L460.8 503.8 L460.2 504.2 L459.8 504.5 L459.2 504.7Z" fill="none" stroke="#1a1a1a" stroke-width="0.5"/>
<path d="M458.5 503.3 L457.8 503.5 L457.0 503.5 L456.2 503.3 L455.8 503.2 L455.2 503.0 L454.8 502.7 L454.2 502.3 L453.9 502.0 L453.5 501.6 L453.2 501.2 L452.8 500.8 L452.5 500.3 L452.2 499.9 L452.0 499.4 L451.8 498.9 L451.5 498.3 L451.3 497.8 L451.2 497.2 L451.0 496.5 L450.9 496.0 L450.8 495.2 L450.7 494.8 L450.7 494.0 L450.7 493.2 L450.7 492.5 L450.8 492.0 L450.8 491.2 L450.9 490.5 L451.0 490.0 L451.2 489.2 L451.3 488.8 L451.5 488.0 L451.7 487.5 L451.8 487.0 L452.0 486.2 L452.1 485.8 L452.1 485.0 L452.0 484.2 L451.9 483.8 L451.8 483.0 L451.6 482.5 L451.5 481.8 L451.4 481.2 L451.3 480.5 L451.2 480.0 L451.2 479.2 L451.2 478.5 L451.2 477.8 L451.2 477.2 L451.4 476.5 L451.5 476.0 L451.7 475.2 L451.9 474.8 L452.2 474.2 L452.5 473.8 L452.8 473.3 L453.0 473.0 L453.5 472.5 L453.8 472.2 L454.2 471.9 L454.8 471.6 L455.2 471.4 L455.8 471.2 L456.5 471.0 L457.2 471.0 L458.0 471.1 L458.7 471.2 L459.2 471.5 L459.7 471.8 L460.1 472.0 L460.5 472.3 L461.0 472.8 L461.2 473.1 L461.6 473.5 L461.9 474.0 L462.2 474.5 L462.5 475.0 L462.7 475.5 L462.8 476.0 L463.0 476.6 L463.2 477.2 L463.2 477.8 L463.3 478.5 L463.4 479.2 L463.4 480.0 L463.4 480.8 L463.3 481.5 L463.3 482.2 L463.2 482.8 L463.1 483.5 L463.0 484.2 L463.0 484.8 L463.0 485.5 L463.0 486.0 L463.2 486.8 L463.3 487.2 L463.5 488.0 L463.6 488.5 L463.7 489.2 L463.8 489.8 L463.9 490.5 L464.0 491.2 L464.0 491.8 L464.0 492.5 L464.0 493.2 L464.0 494.0 L464.0 494.5 L463.9 495.2 L463.8 495.9 L463.6 496.5 L463.5 497.0 L463.3 497.8 L463.1 498.2 L462.9 498.8 L462.7 499.2 L462.5 499.8 L462.2 500.2 L461.8 500.8 L461.5 501.2 L461.2 501.5 L460.8 502.0 L460.5 502.2 L460.0 502.6 L459.5 502.9 L459.0 503.2 L458.5 503.3Z" fill="none" stroke="#1a1a1a" stroke-width="0.5"/>
<path d="M458.0 502.0 L457.2 502.1 L456.5 502.1 L456.0 502.0 L455.4 501.8 L455.0 501.5 L454.5 501.2 L454.0 500.8 L453.7 500.5 L453.3 500.0 L453.0 499.5 L452.8 499.1 L452.5 498.7 L452.2 498.1 L452.0 497.5 L451.9 497.0 L451.7 496.5 L451.6 495.8 L451.5 495.0 L451.5 494.5 L451.5 493.8 L451.5 493.0 L451.5 492.5 L451.7 491.8 L451.8 491.2 L452.0 490.5 L452.2 490.0 L452.4 489.5 L452.6 489.0 L453.0 488.5 L453.2 488.1 L453.5 487.8 L454.0 487.3 L454.3 487.0 L454.8 486.6 L455.2 486.2 L455.5 485.9 L455.6 485.2 L455.2 484.9 L454.8 484.5 L454.5 484.2 L454.0 483.8 L453.7 483.5 L453.3 483.0 L453.0 482.6 L452.8 482.1 L452.5 481.6 L452.3 481.0 L452.1 480.5 L452.0 479.9 L451.9 479.2 L451.9 478.5 L451.9 477.8 L452.0 477.0 L452.1 476.5 L452.2 475.8 L452.5 475.2 L452.7 474.8 L453.0 474.2 L453.2 473.9 L453.6 473.5 L454.0 473.1 L454.4 472.8 L454.8 472.5 L455.2 472.2 L455.9 472.0 L456.5 471.9 L457.2 471.9 L458.0 472.0 L458.5 472.1 L459.0 472.3 L459.5 472.6 L460.0 473.0 L460.3 473.2 L460.8 473.7 L461.0 474.1 L461.3 474.5 L461.6 475.0 L461.8 475.5 L462.0 476.1 L462.2 476.8 L462.3 477.2 L462.3 478.0 L462.3 478.8 L462.3 479.5 L462.2 480.0 L462.0 480.7 L461.8 481.2 L461.5 481.8 L461.2 482.2 L461.0 482.5 L460.6 483.0 L460.2 483.4 L459.8 483.8 L459.5 484.0 L459.0 484.4 L458.5 484.8 L458.2 485.0 L457.9 485.5 L458.2 486.0 L458.5 486.3 L459.0 486.7 L459.4 487.0 L459.8 487.3 L460.2 487.8 L460.5 488.1 L460.9 488.5 L461.2 489.0 L461.5 489.4 L461.8 489.9 L462.0 490.4 L462.2 491.0 L462.4 491.5 L462.5 492.0 L462.6 492.8 L462.7 493.5 L462.7 494.2 L462.7 495.0 L462.6 495.8 L462.5 496.3 L462.3 497.0 L462.2 497.5 L462.0 498.0 L461.8 498.6 L461.5 499.1 L461.2 499.5 L460.9 500.0 L460.5 500.5 L460.2 500.8 L459.8 501.2 L459.3 501.5 L458.8 501.8 L458.2 502.0Z" fill="none" stroke="#1a1a1a" stroke-width="0.5"/>
</g>
<line x1="293" y1="351.4" x2="293" y2="415.7" stroke="#8a8a8a" stroke-width="0.9"/>
<line x1="272" y1="396.9" x2="335.7" y2="396.9" stroke="#8a8a8a" stroke-width="0.9"/>
<rect x="272.7" y="353.74" width="12.22" height="4.94" fill="#fff"/>
<text x="273.3" y="357.8" font-size="5.2" text-anchor="start" font-weight="normal" fill="#1a1a1a" stroke="#1a1a1a" stroke-width="0.15">3.67</text>
<rect x="322.98" y="353.74" width="12.22" height="4.94" fill="#fff"/>
<text x="334.6" y="357.8" font-size="5.2" text-anchor="end" font-weight="normal" fill="#1a1a1a" stroke="#1a1a1a" stroke-width="0.15">33.6</text>
<rect x="272.7" y="410.24" width="12.22" height="4.94" fill="#fff"/>
<text x="273.3" y="414.3" font-size="5.2" text-anchor="start" font-weight="normal" fill="#1a1a1a" stroke="#1a1a1a" stroke-width="0.15">17.8</text>
<rect x="322.98" y="410.24" width="12.22" height="4.94" fill="#fff"/>
<text x="334.6" y="414.3" font-size="5.2" text-anchor="end" font-weight="normal" fill="#1a1a1a" stroke="#1a1a1a" stroke-width="0.15">44.9</text>
<line x1="381.3" y1="351.8" x2="381.3" y2="416" stroke="#8a8a8a" stroke-width="0.9"/>
<line x1="360.7" y1="396.9" x2="424.7" y2="396.9" stroke="#8a8a8a" stroke-width="0.9"/>
<rect x="361.4" y="354.14" width="12.22" height="4.94" fill="#fff"/>
<text x="362" y="358.2" font-size="5.2" text-anchor="start" font-weight="normal" fill="#1a1a1a" stroke="#1a1a1a" stroke-width="0.15">3.31</text>
<rect x="417.49" y="354.14" width="6.71" height="4.94" fill="#fff"/>
<text x="423.6" y="358.2" font-size="5.2" text-anchor="end" font-weight="normal" fill="#1a1a1a" stroke="#1a1a1a" stroke-width="0.15">75</text>
<rect x="361.4" y="410.54" width="12.22" height="4.94" fill="#fff"/>
<text x="362" y="414.6" font-size="5.2" text-anchor="start" font-weight="normal" fill="#1a1a1a" stroke="#1a1a1a" stroke-width="0.15">3.75</text>
<rect x="417.49" y="410.54" width="6.71" height="4.94" fill="#fff"/>
<text x="423.6" y="414.6" font-size="5.2" text-anchor="end" font-weight="normal" fill="#1a1a1a" stroke="#1a1a1a" stroke-width="0.15">18</text>
<line x1="469.4" y1="351.8" x2="469.4" y2="416" stroke="#8a8a8a" stroke-width="0.9"/>
<line x1="448.7" y1="396.8" x2="512.2" y2="396.8" stroke="#8a8a8a" stroke-width="0.9"/>
<rect x="449.4" y="354.14" width="12.22" height="4.94" fill="#fff"/>
<text x="450" y="358.2" font-size="5.2" text-anchor="start" font-weight="normal" fill="#1a1a1a" stroke="#1a1a1a" stroke-width="0.15">0.36</text>
<rect x="499.48" y="354.14" width="12.22" height="4.94" fill="#fff"/>
<text x="511.1" y="358.2" font-size="5.2" text-anchor="end" font-weight="normal" fill="#1a1a1a" stroke="#1a1a1a" stroke-width="0.15">97.5</text>
<rect x="449.4" y="410.54" width="12.22" height="4.94" fill="#fff"/>
<text x="450" y="414.6" font-size="5.2" text-anchor="start" font-weight="normal" fill="#1a1a1a" stroke="#1a1a1a" stroke-width="0.15">0.16</text>
<rect x="499.48" y="410.54" width="12.22" height="4.94" fill="#fff"/>
<text x="511.1" y="414.6" font-size="5.2" text-anchor="end" font-weight="normal" fill="#1a1a1a" stroke="#1a1a1a" stroke-width="0.15">1.98</text>
<line x1="291.5" y1="446.4" x2="291.5" y2="510.6" stroke="#8a8a8a" stroke-width="0.9"/>
<line x1="272.1" y1="487.3" x2="336.1" y2="487.3" stroke="#8a8a8a" stroke-width="0.9"/>
<rect x="272.8" y="448.74" width="9.47" height="4.94" fill="#fff"/>
<text x="273.4" y="452.8" font-size="5.2" text-anchor="start" font-weight="normal" fill="#1a1a1a" stroke="#1a1a1a" stroke-width="0.15">4.1</text>
<rect x="323.38" y="448.74" width="12.22" height="4.94" fill="#fff"/>
<text x="335" y="452.8" font-size="5.2" text-anchor="end" font-weight="normal" fill="#1a1a1a" stroke="#1a1a1a" stroke-width="0.15">1.21</text>
<rect x="272.8" y="505.14" width="12.22" height="4.94" fill="#fff"/>
<text x="273.4" y="509.2" font-size="5.2" text-anchor="start" font-weight="normal" fill="#1a1a1a" stroke="#1a1a1a" stroke-width="0.15">87.2</text>
<rect x="323.38" y="505.14" width="12.22" height="4.94" fill="#fff"/>
<text x="335" y="509.2" font-size="5.2" text-anchor="end" font-weight="normal" fill="#1a1a1a" stroke="#1a1a1a" stroke-width="0.15">7.46</text>
<line x1="380.5" y1="445.8" x2="380.5" y2="510.6" stroke="#8a8a8a" stroke-width="0.9"/>
<line x1="360.9" y1="486.9" x2="424.9" y2="486.9" stroke="#8a8a8a" stroke-width="0.9"/>
<rect x="361.6" y="448.14" width="12.22" height="4.94" fill="#fff"/>
<text x="362.2" y="452.2" font-size="5.2" text-anchor="start" font-weight="normal" fill="#1a1a1a" stroke="#1a1a1a" stroke-width="0.15">52.1</text>
<rect x="412.18" y="448.14" width="12.22" height="4.94" fill="#fff"/>
<text x="423.8" y="452.2" font-size="5.2" text-anchor="end" font-weight="normal" fill="#1a1a1a" stroke="#1a1a1a" stroke-width="0.15">0.35</text>
<rect x="361.6" y="505.14" width="6.71" height="4.94" fill="#fff"/>
<text x="362.2" y="509.2" font-size="5.2" text-anchor="start" font-weight="normal" fill="#1a1a1a" stroke="#1a1a1a" stroke-width="0.15">47</text>
<rect x="412.18" y="505.14" width="12.22" height="4.94" fill="#fff"/>
<text x="423.8" y="509.2" font-size="5.2" text-anchor="end" font-weight="normal" fill="#1a1a1a" stroke="#1a1a1a" stroke-width="0.15">0.56</text>
<line x1="467.7" y1="446.2" x2="467.7" y2="510.3" stroke="#8a8a8a" stroke-width="0.9"/>
<line x1="448.7" y1="486.9" x2="512.2" y2="486.9" stroke="#8a8a8a" stroke-width="0.9"/>
<rect x="449.4" y="448.54" width="12.22" height="4.94" fill="#fff"/>
<text x="450" y="452.6" font-size="5.2" text-anchor="start" font-weight="normal" fill="#1a1a1a" stroke="#1a1a1a" stroke-width="0.15">51.2</text>
<rect x="496.72" y="448.54" width="14.98" height="4.94" fill="#fff"/>
<text x="511.1" y="452.6" font-size="5.2" text-anchor="end" font-weight="normal" fill="#1a1a1a" stroke="#1a1a1a" stroke-width="0.15">0.047</text>
<rect x="449.4" y="504.84" width="12.22" height="4.94" fill="#fff"/>
<text x="450" y="508.9" font-size="5.2" text-anchor="start" font-weight="normal" fill="#1a1a1a" stroke="#1a1a1a" stroke-width="0.15">48.7</text>
<rect x="496.72" y="504.84" width="14.98" height="4.94" fill="#fff"/>
<text x="511.1" y="508.9" font-size="5.2" text-anchor="end" font-weight="normal" fill="#1a1a1a" stroke="#1a1a1a" stroke-width="0.15">0.054</text>
<line x1="258.6" y1="427.9" x2="258.6" y2="404.5" stroke="#000" stroke-width="1.4"/>
<line x1="258.6" y1="427.9" x2="282.6" y2="427.9" stroke="#000" stroke-width="1.4"/>
<path d="M258.6 398.5 L261.9 406 L255.3 406 Z" fill="#000"/>
<path d="M288.6 427.9 L281.1 424.6 L281.1 431.2 Z" fill="#000"/>
<line x1="259" y1="525" x2="259" y2="501.1" stroke="#000" stroke-width="1.4"/>
<line x1="259" y1="525" x2="282.6" y2="525" stroke="#000" stroke-width="1.4"/>
<path d="M259 495.1 L262.3 502.6 L255.7 502.6 Z" fill="#000"/>
<path d="M288.6 525 L281.1 521.7 L281.1 528.3 Z" fill="#000"/>
<text transform="translate(253.7,421.2) rotate(-90)" font-size="8.7" font-weight="bold" text-anchor="middle" fill="#1a1a1a" textLength="9.8" lengthAdjust="spacingAndGlyphs">Gr1</text>
<text x="259.6" y="439.4" font-size="9.4" fill="#1a1a1a" textLength="26.4" lengthAdjust="spacingAndGlyphs">TCR&#945;/&#946;</text>
<text transform="translate(254.5,520.5) rotate(-90)" font-size="9.4" font-weight="bold" text-anchor="middle" fill="#1a1a1a" textLength="18.5" lengthAdjust="spacingAndGlyphs">CD62L</text>
<text x="258.6" y="535" font-size="9" fill="#1a1a1a" font-weight="bold" textLength="16.2" lengthAdjust="spacingAndGlyphs">CCR7</text>
</g>
<rect x="0.85" y="0.75" width="518.3" height="540.4" fill="none" stroke="#000" stroke-width="1.7"/>
</svg>
</body></html>
